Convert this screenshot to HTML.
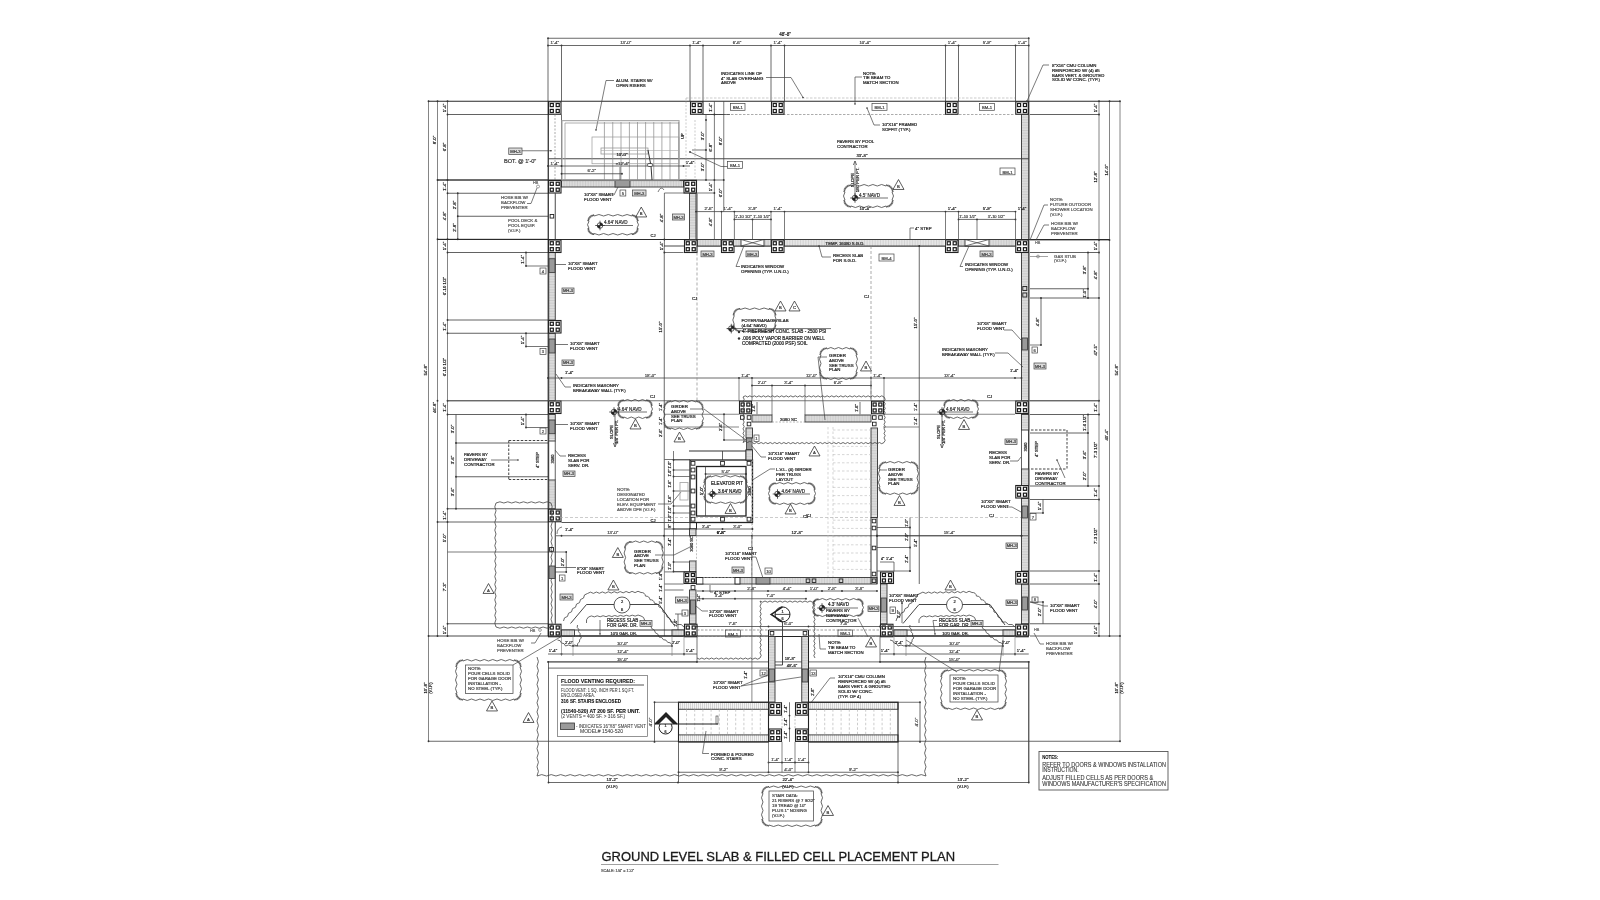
<!DOCTYPE html>
<html><head><meta charset="utf-8"><style>
html,body{margin:0;padding:0;background:#fff;}
body{width:1600px;height:900px;overflow:hidden;}
svg{display:block;font-family:"Liberation Sans",sans-serif;will-change:transform;}
</style></head><body>
<svg width="1600" height="900" viewBox="0 0 1600 900">
<rect width="1600" height="900" fill="#fff"/>
<line x1="548" y1="38.25" x2="1028.75" y2="38.25" stroke="#444" stroke-width="0.8"/>
<circle cx="548" cy="38.25" r="0.9" fill="#333"/>
<circle cx="1028.75" cy="38.25" r="0.9" fill="#333"/>
<text x="785" y="36.2" font-size="4.6" fill="#222" stroke="#222" stroke-width="0.2" text-anchor="middle"><tspan x="785">48'-8"</tspan></text>
<line x1="548" y1="45.5" x2="1028.75" y2="45.5" stroke="#444" stroke-width="0.8"/>
<circle cx="548" cy="45.5" r="0.9" fill="#333"/>
<circle cx="561.5" cy="45.5" r="0.9" fill="#333"/>
<circle cx="690" cy="45.5" r="0.9" fill="#333"/>
<circle cx="703" cy="45.5" r="0.9" fill="#333"/>
<circle cx="771" cy="45.5" r="0.9" fill="#333"/>
<circle cx="784.5" cy="45.5" r="0.9" fill="#333"/>
<circle cx="945.5" cy="45.5" r="0.9" fill="#333"/>
<circle cx="958.5" cy="45.5" r="0.9" fill="#333"/>
<circle cx="1015.5" cy="45.5" r="0.9" fill="#333"/>
<circle cx="1028.75" cy="45.5" r="0.9" fill="#333"/>
<text x="554.75" y="44.1" font-size="4.4" fill="#444" stroke="#444" stroke-width="0.2" text-anchor="middle"><tspan x="554.75">1'-4"</tspan></text>
<text x="625.75" y="44.1" font-size="4.4" fill="#444" stroke="#444" stroke-width="0.2" text-anchor="middle"><tspan x="625.75">13'-0"</tspan></text>
<text x="696.5" y="44.1" font-size="4.4" fill="#444" stroke="#444" stroke-width="0.2" text-anchor="middle"><tspan x="696.5">1'-4"</tspan></text>
<text x="737" y="44.1" font-size="4.4" fill="#444" stroke="#444" stroke-width="0.2" text-anchor="middle"><tspan x="737">6'-6"</tspan></text>
<text x="777.75" y="44.1" font-size="4.4" fill="#444" stroke="#444" stroke-width="0.2" text-anchor="middle"><tspan x="777.75">1'-4"</tspan></text>
<text x="865" y="44.1" font-size="4.4" fill="#444" stroke="#444" stroke-width="0.2" text-anchor="middle"><tspan x="865">10'-4"</tspan></text>
<text x="952" y="44.1" font-size="4.4" fill="#444" stroke="#444" stroke-width="0.2" text-anchor="middle"><tspan x="952">1'-4"</tspan></text>
<text x="987" y="44.1" font-size="4.4" fill="#444" stroke="#444" stroke-width="0.2" text-anchor="middle"><tspan x="987">5'-9"</tspan></text>
<text x="1022.12" y="44.1" font-size="4.4" fill="#444" stroke="#444" stroke-width="0.2" text-anchor="middle"><tspan x="1022.12">1'-4"</tspan></text>
<line x1="548" y1="38.25" x2="548" y2="101" stroke="#444" stroke-width="0.8"/>
<line x1="561.5" y1="45.5" x2="561.5" y2="101" stroke="#444" stroke-width="0.8"/>
<line x1="690" y1="45.5" x2="690" y2="101" stroke="#444" stroke-width="0.8"/>
<line x1="703" y1="45.5" x2="703" y2="101" stroke="#444" stroke-width="0.8"/>
<line x1="771" y1="45.5" x2="771" y2="101" stroke="#444" stroke-width="0.8"/>
<line x1="784.5" y1="45.5" x2="784.5" y2="101" stroke="#444" stroke-width="0.8"/>
<line x1="945.5" y1="45.5" x2="945.5" y2="101" stroke="#444" stroke-width="0.8"/>
<line x1="958.5" y1="45.5" x2="958.5" y2="101" stroke="#444" stroke-width="0.8"/>
<line x1="1015.5" y1="45.5" x2="1015.5" y2="101" stroke="#444" stroke-width="0.8"/>
<line x1="1028.75" y1="38.25" x2="1028.75" y2="101" stroke="#444" stroke-width="0.8"/>
<line x1="428" y1="101.25" x2="1120" y2="101.25" stroke="#2a2a2a" stroke-width="1.1"/>
<line x1="686" y1="98" x2="1015" y2="98" stroke="#aaa" stroke-width="0.6" stroke-dasharray="2.5,1.5"/>
<line x1="703" y1="114.5" x2="1015" y2="114.5" stroke="#888" stroke-width="0.7" stroke-dasharray="2.5,1.5"/>
<rect x="548.5" y="101.75" width="12.5" height="12.5" stroke="#222" stroke-width="1.1" fill="#fff"/>
<rect x="550.23" y="103.48" width="3.1" height="3.1" stroke="#1a1a1a" stroke-width="1.2" fill="none"/>
<rect x="550.23" y="109.42" width="3.1" height="3.1" stroke="#1a1a1a" stroke-width="1.2" fill="none"/>
<rect x="556.17" y="103.48" width="3.1" height="3.1" stroke="#1a1a1a" stroke-width="1.2" fill="none"/>
<rect x="556.17" y="109.42" width="3.1" height="3.1" stroke="#1a1a1a" stroke-width="1.2" fill="none"/>
<rect x="690.5" y="101.75" width="12.5" height="12.5" stroke="#222" stroke-width="1.1" fill="#fff"/>
<rect x="692.23" y="103.48" width="3.1" height="3.1" stroke="#1a1a1a" stroke-width="1.2" fill="none"/>
<rect x="692.23" y="109.42" width="3.1" height="3.1" stroke="#1a1a1a" stroke-width="1.2" fill="none"/>
<rect x="698.17" y="103.48" width="3.1" height="3.1" stroke="#1a1a1a" stroke-width="1.2" fill="none"/>
<rect x="698.17" y="109.42" width="3.1" height="3.1" stroke="#1a1a1a" stroke-width="1.2" fill="none"/>
<rect x="771.5" y="101.75" width="12.5" height="12.5" stroke="#222" stroke-width="1.1" fill="#fff"/>
<rect x="773.23" y="103.48" width="3.1" height="3.1" stroke="#1a1a1a" stroke-width="1.2" fill="none"/>
<rect x="773.23" y="109.42" width="3.1" height="3.1" stroke="#1a1a1a" stroke-width="1.2" fill="none"/>
<rect x="779.17" y="103.48" width="3.1" height="3.1" stroke="#1a1a1a" stroke-width="1.2" fill="none"/>
<rect x="779.17" y="109.42" width="3.1" height="3.1" stroke="#1a1a1a" stroke-width="1.2" fill="none"/>
<rect x="945.5" y="101.75" width="12.5" height="12.5" stroke="#222" stroke-width="1.1" fill="#fff"/>
<rect x="947.23" y="103.48" width="3.1" height="3.1" stroke="#1a1a1a" stroke-width="1.2" fill="none"/>
<rect x="947.23" y="109.42" width="3.1" height="3.1" stroke="#1a1a1a" stroke-width="1.2" fill="none"/>
<rect x="953.17" y="103.48" width="3.1" height="3.1" stroke="#1a1a1a" stroke-width="1.2" fill="none"/>
<rect x="953.17" y="109.42" width="3.1" height="3.1" stroke="#1a1a1a" stroke-width="1.2" fill="none"/>
<rect x="1015.75" y="101.75" width="12.5" height="12.5" stroke="#222" stroke-width="1.1" fill="#fff"/>
<rect x="1017.48" y="103.48" width="3.1" height="3.1" stroke="#1a1a1a" stroke-width="1.2" fill="none"/>
<rect x="1017.48" y="109.42" width="3.1" height="3.1" stroke="#1a1a1a" stroke-width="1.2" fill="none"/>
<rect x="1023.42" y="103.48" width="3.1" height="3.1" stroke="#1a1a1a" stroke-width="1.2" fill="none"/>
<rect x="1023.42" y="109.42" width="3.1" height="3.1" stroke="#1a1a1a" stroke-width="1.2" fill="none"/>
<line x1="428.5" y1="101.25" x2="428.5" y2="741.25" stroke="#666" stroke-width="0.8"/>
<circle cx="428.5" cy="101.25" r="0.9" fill="#333"/>
<circle cx="428.5" cy="636" r="0.9" fill="#333"/>
<circle cx="428.5" cy="741.25" r="0.9" fill="#333"/>
<text x="426.6" y="370" font-size="4.35" fill="#222" stroke="#222" stroke-width="0.2" text-anchor="middle" transform="rotate(-90 426.6 370)"><tspan x="426.6">54'-8"</tspan></text>
<text x="426.6" y="688" font-size="4.35" fill="#222" stroke="#222" stroke-width="0.2" text-anchor="middle" transform="rotate(-90 426.6 688)"><tspan x="426.6">10'-8"</tspan></text>
<text x="432.4" y="688" font-size="4" fill="#222" stroke="#222" stroke-width="0.2" text-anchor="middle" transform="rotate(-90 432.4 688)"><tspan x="432.4">(V.I.F.)</tspan></text>
<line x1="437.5" y1="101.25" x2="437.5" y2="636" stroke="#666" stroke-width="0.8"/>
<circle cx="437.5" cy="101.25" r="0.9" fill="#333"/>
<circle cx="437.5" cy="180" r="0.9" fill="#333"/>
<circle cx="437.5" cy="239.25" r="0.9" fill="#333"/>
<circle cx="437.5" cy="400.75" r="0.9" fill="#333"/>
<circle cx="437.5" cy="522" r="0.9" fill="#333"/>
<circle cx="437.5" cy="636" r="0.9" fill="#333"/>
<text x="435.6" y="140" font-size="4.35" fill="#222" stroke="#222" stroke-width="0.2" text-anchor="middle" transform="rotate(-90 435.6 140)"><tspan x="435.6">8'-0"</tspan></text>
<text x="435.6" y="407.5" font-size="4.35" fill="#222" stroke="#222" stroke-width="0.2" text-anchor="middle" transform="rotate(-90 435.6 407.5)"><tspan x="435.6">46'-8"</tspan></text>
<line x1="447.5" y1="101.25" x2="447.5" y2="636" stroke="#666" stroke-width="0.8"/>
<circle cx="447.5" cy="101.25" r="0.9" fill="#333"/>
<circle cx="447.5" cy="114.5" r="0.9" fill="#333"/>
<circle cx="447.5" cy="180" r="0.9" fill="#333"/>
<circle cx="447.5" cy="193.25" r="0.9" fill="#333"/>
<circle cx="447.5" cy="239.25" r="0.9" fill="#333"/>
<circle cx="447.5" cy="252.5" r="0.9" fill="#333"/>
<circle cx="447.5" cy="320" r="0.9" fill="#333"/>
<circle cx="447.5" cy="333.25" r="0.9" fill="#333"/>
<circle cx="447.5" cy="400.75" r="0.9" fill="#333"/>
<circle cx="447.5" cy="414.5" r="0.9" fill="#333"/>
<circle cx="447.5" cy="508.75" r="0.9" fill="#333"/>
<circle cx="447.5" cy="522" r="0.9" fill="#333"/>
<circle cx="447.5" cy="623.75" r="0.9" fill="#333"/>
<circle cx="447.5" cy="636" r="0.9" fill="#333"/>
<text x="445.6" y="108" font-size="4.35" fill="#222" stroke="#222" stroke-width="0.2" text-anchor="middle" transform="rotate(-90 445.6 108)"><tspan x="445.6">1'-4"</tspan></text>
<text x="445.6" y="147" font-size="4.35" fill="#222" stroke="#222" stroke-width="0.2" text-anchor="middle" transform="rotate(-90 445.6 147)"><tspan x="445.6">6'-8"</tspan></text>
<text x="445.6" y="186.5" font-size="4.35" fill="#222" stroke="#222" stroke-width="0.2" text-anchor="middle" transform="rotate(-90 445.6 186.5)"><tspan x="445.6">1'-4"</tspan></text>
<text x="445.6" y="216" font-size="4.35" fill="#222" stroke="#222" stroke-width="0.2" text-anchor="middle" transform="rotate(-90 445.6 216)"><tspan x="445.6">4'-8"</tspan></text>
<text x="445.6" y="246" font-size="4.35" fill="#222" stroke="#222" stroke-width="0.2" text-anchor="middle" transform="rotate(-90 445.6 246)"><tspan x="445.6">1'-4"</tspan></text>
<text x="445.6" y="286" font-size="4.35" fill="#222" stroke="#222" stroke-width="0.2" text-anchor="middle" transform="rotate(-90 445.6 286)"><tspan x="445.6">6'-10 1/2"</tspan></text>
<text x="445.6" y="326.5" font-size="4.35" fill="#222" stroke="#222" stroke-width="0.2" text-anchor="middle" transform="rotate(-90 445.6 326.5)"><tspan x="445.6">1'-4"</tspan></text>
<text x="445.6" y="367" font-size="4.35" fill="#222" stroke="#222" stroke-width="0.2" text-anchor="middle" transform="rotate(-90 445.6 367)"><tspan x="445.6">6'-10 1/2"</tspan></text>
<text x="445.6" y="407.5" font-size="4.35" fill="#222" stroke="#222" stroke-width="0.2" text-anchor="middle" transform="rotate(-90 445.6 407.5)"><tspan x="445.6">1'-4"</tspan></text>
<text x="445.6" y="515.3" font-size="4.35" fill="#222" stroke="#222" stroke-width="0.2" text-anchor="middle" transform="rotate(-90 445.6 515.3)"><tspan x="445.6">1'-4"</tspan></text>
<text x="445.6" y="538" font-size="4.35" fill="#222" stroke="#222" stroke-width="0.2" text-anchor="middle" transform="rotate(-90 445.6 538)"><tspan x="445.6">5'-0"</tspan></text>
<text x="445.6" y="587" font-size="4.35" fill="#222" stroke="#222" stroke-width="0.2" text-anchor="middle" transform="rotate(-90 445.6 587)"><tspan x="445.6">7'-3"</tspan></text>
<text x="445.6" y="630" font-size="4.35" fill="#222" stroke="#222" stroke-width="0.2" text-anchor="middle" transform="rotate(-90 445.6 630)"><tspan x="445.6">1'-4"</tspan></text>
<line x1="457.75" y1="193.25" x2="457.75" y2="239.25" stroke="#444" stroke-width="0.8"/>
<circle cx="457.75" cy="193.25" r="0.9" fill="#333"/>
<circle cx="457.75" cy="216.25" r="0.9" fill="#333"/>
<circle cx="457.75" cy="239.25" r="0.9" fill="#333"/>
<text x="455.8" y="205" font-size="4.35" fill="#222" stroke="#222" stroke-width="0.2" text-anchor="middle" transform="rotate(-90 455.8 205)"><tspan x="455.8">2'-8"</tspan></text>
<text x="455.8" y="227.5" font-size="4.35" fill="#222" stroke="#222" stroke-width="0.2" text-anchor="middle" transform="rotate(-90 455.8 227.5)"><tspan x="455.8">2'-8"</tspan></text>
<line x1="456" y1="414.5" x2="456" y2="508.75" stroke="#444" stroke-width="0.8"/>
<circle cx="456" cy="443" r="0.9" fill="#333"/>
<circle cx="456" cy="476.75" r="0.9" fill="#333"/>
<circle cx="456" cy="508.75" r="0.9" fill="#333"/>
<text x="454" y="429" font-size="4.35" fill="#222" stroke="#222" stroke-width="0.2" text-anchor="middle" transform="rotate(-90 454 429)"><tspan x="454">3'-0"</tspan></text>
<text x="454" y="460" font-size="4.35" fill="#222" stroke="#222" stroke-width="0.2" text-anchor="middle" transform="rotate(-90 454 460)"><tspan x="454">3'-6"</tspan></text>
<text x="454" y="492" font-size="4.35" fill="#222" stroke="#222" stroke-width="0.2" text-anchor="middle" transform="rotate(-90 454 492)"><tspan x="454">3'-6"</tspan></text>
<line x1="447.5" y1="114.5" x2="548" y2="114.5" stroke="#3a3a3a" stroke-width="0.8"/>
<line x1="437.5" y1="180" x2="548" y2="180" stroke="#3a3a3a" stroke-width="0.8"/>
<line x1="447.5" y1="193.25" x2="548" y2="193.25" stroke="#3a3a3a" stroke-width="0.8"/>
<line x1="457.75" y1="216.25" x2="548" y2="216.25" stroke="#3a3a3a" stroke-width="0.8"/>
<line x1="437.5" y1="239.25" x2="548" y2="239.25" stroke="#3a3a3a" stroke-width="0.8"/>
<line x1="447.5" y1="252.5" x2="548" y2="252.5" stroke="#3a3a3a" stroke-width="0.8"/>
<line x1="447.5" y1="320" x2="548" y2="320" stroke="#3a3a3a" stroke-width="0.8"/>
<line x1="447.5" y1="333.25" x2="548" y2="333.25" stroke="#3a3a3a" stroke-width="0.8"/>
<line x1="447.5" y1="414.5" x2="548" y2="414.5" stroke="#3a3a3a" stroke-width="0.8"/>
<line x1="456" y1="443" x2="548" y2="443" stroke="#3a3a3a" stroke-width="0.8"/>
<line x1="456" y1="476.75" x2="548" y2="476.75" stroke="#3a3a3a" stroke-width="0.8"/>
<line x1="447.5" y1="508.75" x2="548" y2="508.75" stroke="#3a3a3a" stroke-width="0.8"/>
<line x1="437.5" y1="522" x2="548" y2="522" stroke="#3a3a3a" stroke-width="0.8"/>
<line x1="447.5" y1="623.75" x2="548" y2="623.75" stroke="#3a3a3a" stroke-width="0.8"/>
<line x1="428.5" y1="636" x2="548" y2="636" stroke="#333" stroke-width="0.9"/>
<line x1="428.5" y1="741.25" x2="678" y2="741.25" stroke="#444" stroke-width="0.8"/>
<line x1="898" y1="741.25" x2="1120" y2="741.25" stroke="#444" stroke-width="0.8"/>
<line x1="447.5" y1="552" x2="566" y2="552" stroke="#444" stroke-width="0.7"/>
<line x1="447.5" y1="400.75" x2="548" y2="400.75" stroke="#3a3a3a" stroke-width="0.8"/>
<line x1="1120" y1="101.25" x2="1120" y2="741.25" stroke="#666" stroke-width="0.8"/>
<circle cx="1120" cy="101.25" r="0.9" fill="#333"/>
<circle cx="1120" cy="636" r="0.9" fill="#333"/>
<circle cx="1120" cy="741.25" r="0.9" fill="#333"/>
<text x="1117.5" y="370" font-size="4.35" fill="#222" stroke="#222" stroke-width="0.2" text-anchor="middle" transform="rotate(-90 1117.5 370)"><tspan x="1117.5">54'-8"</tspan></text>
<text x="1117.5" y="688" font-size="4.35" fill="#222" stroke="#222" stroke-width="0.2" text-anchor="middle" transform="rotate(-90 1117.5 688)"><tspan x="1117.5">10'-8"</tspan></text>
<text x="1123.3" y="688" font-size="4" fill="#222" stroke="#222" stroke-width="0.2" text-anchor="middle" transform="rotate(-90 1123.3 688)"><tspan x="1123.3">(V.I.F.)</tspan></text>
<line x1="1109.5" y1="101.25" x2="1109.5" y2="636" stroke="#666" stroke-width="0.8"/>
<circle cx="1109.5" cy="101.25" r="0.9" fill="#333"/>
<circle cx="1109.5" cy="240" r="0.9" fill="#333"/>
<circle cx="1109.5" cy="636" r="0.9" fill="#333"/>
<text x="1107.6" y="170" font-size="4.35" fill="#222" stroke="#222" stroke-width="0.2" text-anchor="middle" transform="rotate(-90 1107.6 170)"><tspan x="1107.6">14'-0"</tspan></text>
<text x="1107.6" y="435" font-size="4.35" fill="#222" stroke="#222" stroke-width="0.2" text-anchor="middle" transform="rotate(-90 1107.6 435)"><tspan x="1107.6">40'-4"</tspan></text>
<line x1="1099" y1="101.25" x2="1099" y2="636" stroke="#666" stroke-width="0.8"/>
<circle cx="1099" cy="101.25" r="0.9" fill="#333"/>
<circle cx="1099" cy="114.5" r="0.9" fill="#333"/>
<circle cx="1099" cy="240" r="0.9" fill="#333"/>
<circle cx="1099" cy="252.5" r="0.9" fill="#333"/>
<circle cx="1099" cy="298" r="0.9" fill="#333"/>
<circle cx="1099" cy="400.75" r="0.9" fill="#333"/>
<circle cx="1099" cy="414.5" r="0.9" fill="#333"/>
<circle cx="1099" cy="486" r="0.9" fill="#333"/>
<circle cx="1099" cy="499.5" r="0.9" fill="#333"/>
<circle cx="1099" cy="571" r="0.9" fill="#333"/>
<circle cx="1099" cy="584" r="0.9" fill="#333"/>
<circle cx="1099" cy="623.75" r="0.9" fill="#333"/>
<circle cx="1099" cy="636" r="0.9" fill="#333"/>
<text x="1097.2" y="108" font-size="4.35" fill="#222" stroke="#222" stroke-width="0.2" text-anchor="middle" transform="rotate(-90 1097.2 108)"><tspan x="1097.2">1'-4"</tspan></text>
<text x="1097.2" y="177" font-size="4.35" fill="#222" stroke="#222" stroke-width="0.2" text-anchor="middle" transform="rotate(-90 1097.2 177)"><tspan x="1097.2">12'-8"</tspan></text>
<text x="1097.2" y="246" font-size="4.35" fill="#222" stroke="#222" stroke-width="0.2" text-anchor="middle" transform="rotate(-90 1097.2 246)"><tspan x="1097.2">1'-4"</tspan></text>
<text x="1097.2" y="275" font-size="4.35" fill="#222" stroke="#222" stroke-width="0.2" text-anchor="middle" transform="rotate(-90 1097.2 275)"><tspan x="1097.2">4'-8"</tspan></text>
<text x="1097.2" y="350" font-size="4.35" fill="#222" stroke="#222" stroke-width="0.2" text-anchor="middle" transform="rotate(-90 1097.2 350)"><tspan x="1097.2">47'-5"</tspan></text>
<text x="1097.2" y="407.5" font-size="4.35" fill="#222" stroke="#222" stroke-width="0.2" text-anchor="middle" transform="rotate(-90 1097.2 407.5)"><tspan x="1097.2">1'-4"</tspan></text>
<text x="1097.2" y="450" font-size="4.35" fill="#222" stroke="#222" stroke-width="0.2" text-anchor="middle" transform="rotate(-90 1097.2 450)"><tspan x="1097.2">7'-3 1/2"</tspan></text>
<text x="1097.2" y="492.5" font-size="4.35" fill="#222" stroke="#222" stroke-width="0.2" text-anchor="middle" transform="rotate(-90 1097.2 492.5)"><tspan x="1097.2">1'-4"</tspan></text>
<text x="1097.2" y="536" font-size="4.35" fill="#222" stroke="#222" stroke-width="0.2" text-anchor="middle" transform="rotate(-90 1097.2 536)"><tspan x="1097.2">7'-3 1/2"</tspan></text>
<text x="1097.2" y="577.5" font-size="4.35" fill="#222" stroke="#222" stroke-width="0.2" text-anchor="middle" transform="rotate(-90 1097.2 577.5)"><tspan x="1097.2">1'-4"</tspan></text>
<text x="1097.2" y="604" font-size="4.35" fill="#222" stroke="#222" stroke-width="0.2" text-anchor="middle" transform="rotate(-90 1097.2 604)"><tspan x="1097.2">4'-0"</tspan></text>
<text x="1097.2" y="630" font-size="4.35" fill="#222" stroke="#222" stroke-width="0.2" text-anchor="middle" transform="rotate(-90 1097.2 630)"><tspan x="1097.2">1'-4"</tspan></text>
<line x1="1030" y1="114.5" x2="1099" y2="114.5" stroke="#3a3a3a" stroke-width="0.8"/>
<line x1="1030" y1="240" x2="1109.5" y2="240" stroke="#3a3a3a" stroke-width="0.8"/>
<line x1="1030" y1="252.5" x2="1099" y2="252.5" stroke="#3a3a3a" stroke-width="0.8"/>
<line x1="1030" y1="288.75" x2="1088" y2="288.75" stroke="#3a3a3a" stroke-width="0.8"/>
<line x1="1030" y1="298" x2="1099" y2="298" stroke="#3a3a3a" stroke-width="0.8"/>
<line x1="1030" y1="400.75" x2="1099" y2="400.75" stroke="#3a3a3a" stroke-width="0.8"/>
<line x1="1030" y1="414.5" x2="1099" y2="414.5" stroke="#3a3a3a" stroke-width="0.8"/>
<line x1="1030" y1="433" x2="1088" y2="433" stroke="#3a3a3a" stroke-width="0.8"/>
<line x1="1030" y1="486" x2="1099" y2="486" stroke="#3a3a3a" stroke-width="0.8"/>
<line x1="1030" y1="499.5" x2="1099" y2="499.5" stroke="#3a3a3a" stroke-width="0.8"/>
<line x1="1030" y1="571" x2="1099" y2="571" stroke="#3a3a3a" stroke-width="0.8"/>
<line x1="1030" y1="584" x2="1099" y2="584" stroke="#3a3a3a" stroke-width="0.8"/>
<line x1="1030" y1="623.75" x2="1099" y2="623.75" stroke="#3a3a3a" stroke-width="0.8"/>
<line x1="1030" y1="636" x2="1120" y2="636" stroke="#3a3a3a" stroke-width="0.8"/>
<line x1="1088" y1="252.5" x2="1088" y2="288.75" stroke="#444" stroke-width="0.8"/>
<circle cx="1088" cy="252.5" r="0.9" fill="#333"/>
<circle cx="1088" cy="288.75" r="0.9" fill="#333"/>
<line x1="1088" y1="288.75" x2="1088" y2="298" stroke="#444" stroke-width="0.8"/>
<circle cx="1088" cy="298" r="0.9" fill="#333"/>
<text x="1086" y="270" font-size="4.35" fill="#222" stroke="#222" stroke-width="0.2" text-anchor="middle" transform="rotate(-90 1086 270)"><tspan x="1086">3'-8"</tspan></text>
<text x="1086" y="293.5" font-size="4.35" fill="#222" stroke="#222" stroke-width="0.2" text-anchor="middle" transform="rotate(-90 1086 293.5)"><tspan x="1086">1'-0"</tspan></text>
<line x1="1088" y1="414.5" x2="1088" y2="486" stroke="#444" stroke-width="0.8"/>
<circle cx="1088" cy="414.5" r="0.9" fill="#333"/>
<circle cx="1088" cy="433" r="0.9" fill="#333"/>
<circle cx="1088" cy="486" r="0.9" fill="#333"/>
<text x="1086" y="423" font-size="4.35" fill="#222" stroke="#222" stroke-width="0.2" text-anchor="middle" transform="rotate(-90 1086 423)"><tspan x="1086">1'-6 1/2"</tspan></text>
<text x="1086" y="455" font-size="4.35" fill="#222" stroke="#222" stroke-width="0.2" text-anchor="middle" transform="rotate(-90 1086 455)"><tspan x="1086">3'-6"</tspan></text>
<text x="1086" y="476" font-size="4.35" fill="#222" stroke="#222" stroke-width="0.2" text-anchor="middle" transform="rotate(-90 1086 476)"><tspan x="1086">2'-0"</tspan></text>
<line x1="1041" y1="298" x2="1041" y2="345" stroke="#444" stroke-width="0.8"/>
<circle cx="1041" cy="298" r="0.9" fill="#333"/>
<circle cx="1041" cy="345" r="0.9" fill="#333"/>
<line x1="1030" y1="345" x2="1041" y2="345" stroke="#444" stroke-width="0.7"/>
<text x="1039" y="322" font-size="4.35" fill="#222" stroke="#222" stroke-width="0.2" text-anchor="middle" transform="rotate(-90 1039 322)"><tspan x="1039">4'-8"</tspan></text>
<line x1="1043" y1="499.5" x2="1043" y2="513" stroke="#444" stroke-width="0.8"/>
<circle cx="1043" cy="513" r="0.9" fill="#333"/>
<text x="1041" y="506" font-size="4.35" fill="#222" stroke="#222" stroke-width="0.2" text-anchor="middle" transform="rotate(-90 1041 506)"><tspan x="1041">1'-4"</tspan></text>
<line x1="1030" y1="513" x2="1043" y2="513" stroke="#444" stroke-width="0.7"/>
<line x1="1043" y1="602" x2="1043" y2="623.75" stroke="#444" stroke-width="0.8"/>
<circle cx="1043" cy="602" r="0.9" fill="#333"/>
<text x="1041" y="612" font-size="4.35" fill="#222" stroke="#222" stroke-width="0.2" text-anchor="middle" transform="rotate(-90 1041 612)"><tspan x="1041">2'-0"</tspan></text>
<line x1="1030" y1="602" x2="1043" y2="602" stroke="#444" stroke-width="0.7"/>
<line x1="548.25" y1="101.25" x2="548.25" y2="636" stroke="#222" stroke-width="1.2"/>
<line x1="548.5" y1="661" x2="548.5" y2="782.5" stroke="#444" stroke-width="0.8"/>
<line x1="1028.75" y1="101.25" x2="1028.75" y2="636" stroke="#222" stroke-width="1.2"/>
<line x1="1028.75" y1="661" x2="1028.75" y2="782.5" stroke="#444" stroke-width="0.8"/>
<rect x="1021.5" y="114.5" width="7.25" height="125.5" fill="#e6e6e6"/>
<line x1="1021.5" y1="116.1" x2="1028.75" y2="116.1" stroke="#999" stroke-width="0.35"/>
<line x1="1021.5" y1="117.7" x2="1028.75" y2="117.7" stroke="#999" stroke-width="0.35"/>
<line x1="1021.5" y1="119.3" x2="1028.75" y2="119.3" stroke="#999" stroke-width="0.35"/>
<line x1="1021.5" y1="120.9" x2="1028.75" y2="120.9" stroke="#999" stroke-width="0.35"/>
<line x1="1021.5" y1="122.5" x2="1028.75" y2="122.5" stroke="#999" stroke-width="0.35"/>
<line x1="1021.5" y1="124.1" x2="1028.75" y2="124.1" stroke="#999" stroke-width="0.35"/>
<line x1="1021.5" y1="125.7" x2="1028.75" y2="125.7" stroke="#999" stroke-width="0.35"/>
<line x1="1021.5" y1="127.3" x2="1028.75" y2="127.3" stroke="#999" stroke-width="0.35"/>
<line x1="1021.5" y1="128.9" x2="1028.75" y2="128.9" stroke="#999" stroke-width="0.35"/>
<line x1="1021.5" y1="130.5" x2="1028.75" y2="130.5" stroke="#999" stroke-width="0.35"/>
<line x1="1021.5" y1="132.1" x2="1028.75" y2="132.1" stroke="#999" stroke-width="0.35"/>
<line x1="1021.5" y1="133.7" x2="1028.75" y2="133.7" stroke="#999" stroke-width="0.35"/>
<line x1="1021.5" y1="135.3" x2="1028.75" y2="135.3" stroke="#999" stroke-width="0.35"/>
<line x1="1021.5" y1="136.9" x2="1028.75" y2="136.9" stroke="#999" stroke-width="0.35"/>
<line x1="1021.5" y1="138.5" x2="1028.75" y2="138.5" stroke="#999" stroke-width="0.35"/>
<line x1="1021.5" y1="140.1" x2="1028.75" y2="140.1" stroke="#999" stroke-width="0.35"/>
<line x1="1021.5" y1="141.7" x2="1028.75" y2="141.7" stroke="#999" stroke-width="0.35"/>
<line x1="1021.5" y1="143.3" x2="1028.75" y2="143.3" stroke="#999" stroke-width="0.35"/>
<line x1="1021.5" y1="144.9" x2="1028.75" y2="144.9" stroke="#999" stroke-width="0.35"/>
<line x1="1021.5" y1="146.5" x2="1028.75" y2="146.5" stroke="#999" stroke-width="0.35"/>
<line x1="1021.5" y1="148.1" x2="1028.75" y2="148.1" stroke="#999" stroke-width="0.35"/>
<line x1="1021.5" y1="149.7" x2="1028.75" y2="149.7" stroke="#999" stroke-width="0.35"/>
<line x1="1021.5" y1="151.3" x2="1028.75" y2="151.3" stroke="#999" stroke-width="0.35"/>
<line x1="1021.5" y1="152.9" x2="1028.75" y2="152.9" stroke="#999" stroke-width="0.35"/>
<line x1="1021.5" y1="154.5" x2="1028.75" y2="154.5" stroke="#999" stroke-width="0.35"/>
<line x1="1021.5" y1="156.1" x2="1028.75" y2="156.1" stroke="#999" stroke-width="0.35"/>
<line x1="1021.5" y1="157.7" x2="1028.75" y2="157.7" stroke="#999" stroke-width="0.35"/>
<line x1="1021.5" y1="159.3" x2="1028.75" y2="159.3" stroke="#999" stroke-width="0.35"/>
<line x1="1021.5" y1="160.9" x2="1028.75" y2="160.9" stroke="#999" stroke-width="0.35"/>
<line x1="1021.5" y1="162.5" x2="1028.75" y2="162.5" stroke="#999" stroke-width="0.35"/>
<line x1="1021.5" y1="164.1" x2="1028.75" y2="164.1" stroke="#999" stroke-width="0.35"/>
<line x1="1021.5" y1="165.7" x2="1028.75" y2="165.7" stroke="#999" stroke-width="0.35"/>
<line x1="1021.5" y1="167.3" x2="1028.75" y2="167.3" stroke="#999" stroke-width="0.35"/>
<line x1="1021.5" y1="168.9" x2="1028.75" y2="168.9" stroke="#999" stroke-width="0.35"/>
<line x1="1021.5" y1="170.5" x2="1028.75" y2="170.5" stroke="#999" stroke-width="0.35"/>
<line x1="1021.5" y1="172.1" x2="1028.75" y2="172.1" stroke="#999" stroke-width="0.35"/>
<line x1="1021.5" y1="173.7" x2="1028.75" y2="173.7" stroke="#999" stroke-width="0.35"/>
<line x1="1021.5" y1="175.3" x2="1028.75" y2="175.3" stroke="#999" stroke-width="0.35"/>
<line x1="1021.5" y1="176.9" x2="1028.75" y2="176.9" stroke="#999" stroke-width="0.35"/>
<line x1="1021.5" y1="178.5" x2="1028.75" y2="178.5" stroke="#999" stroke-width="0.35"/>
<line x1="1021.5" y1="180.1" x2="1028.75" y2="180.1" stroke="#999" stroke-width="0.35"/>
<line x1="1021.5" y1="181.7" x2="1028.75" y2="181.7" stroke="#999" stroke-width="0.35"/>
<line x1="1021.5" y1="183.3" x2="1028.75" y2="183.3" stroke="#999" stroke-width="0.35"/>
<line x1="1021.5" y1="184.9" x2="1028.75" y2="184.9" stroke="#999" stroke-width="0.35"/>
<line x1="1021.5" y1="186.5" x2="1028.75" y2="186.5" stroke="#999" stroke-width="0.35"/>
<line x1="1021.5" y1="188.1" x2="1028.75" y2="188.1" stroke="#999" stroke-width="0.35"/>
<line x1="1021.5" y1="189.7" x2="1028.75" y2="189.7" stroke="#999" stroke-width="0.35"/>
<line x1="1021.5" y1="191.3" x2="1028.75" y2="191.3" stroke="#999" stroke-width="0.35"/>
<line x1="1021.5" y1="192.9" x2="1028.75" y2="192.9" stroke="#999" stroke-width="0.35"/>
<line x1="1021.5" y1="194.5" x2="1028.75" y2="194.5" stroke="#999" stroke-width="0.35"/>
<line x1="1021.5" y1="196.1" x2="1028.75" y2="196.1" stroke="#999" stroke-width="0.35"/>
<line x1="1021.5" y1="197.7" x2="1028.75" y2="197.7" stroke="#999" stroke-width="0.35"/>
<line x1="1021.5" y1="199.3" x2="1028.75" y2="199.3" stroke="#999" stroke-width="0.35"/>
<line x1="1021.5" y1="200.9" x2="1028.75" y2="200.9" stroke="#999" stroke-width="0.35"/>
<line x1="1021.5" y1="202.5" x2="1028.75" y2="202.5" stroke="#999" stroke-width="0.35"/>
<line x1="1021.5" y1="204.1" x2="1028.75" y2="204.1" stroke="#999" stroke-width="0.35"/>
<line x1="1021.5" y1="205.7" x2="1028.75" y2="205.7" stroke="#999" stroke-width="0.35"/>
<line x1="1021.5" y1="207.3" x2="1028.75" y2="207.3" stroke="#999" stroke-width="0.35"/>
<line x1="1021.5" y1="208.9" x2="1028.75" y2="208.9" stroke="#999" stroke-width="0.35"/>
<line x1="1021.5" y1="210.5" x2="1028.75" y2="210.5" stroke="#999" stroke-width="0.35"/>
<line x1="1021.5" y1="212.1" x2="1028.75" y2="212.1" stroke="#999" stroke-width="0.35"/>
<line x1="1021.5" y1="213.7" x2="1028.75" y2="213.7" stroke="#999" stroke-width="0.35"/>
<line x1="1021.5" y1="215.3" x2="1028.75" y2="215.3" stroke="#999" stroke-width="0.35"/>
<line x1="1021.5" y1="216.9" x2="1028.75" y2="216.9" stroke="#999" stroke-width="0.35"/>
<line x1="1021.5" y1="218.5" x2="1028.75" y2="218.5" stroke="#999" stroke-width="0.35"/>
<line x1="1021.5" y1="220.1" x2="1028.75" y2="220.1" stroke="#999" stroke-width="0.35"/>
<line x1="1021.5" y1="221.7" x2="1028.75" y2="221.7" stroke="#999" stroke-width="0.35"/>
<line x1="1021.5" y1="223.3" x2="1028.75" y2="223.3" stroke="#999" stroke-width="0.35"/>
<line x1="1021.5" y1="224.9" x2="1028.75" y2="224.9" stroke="#999" stroke-width="0.35"/>
<line x1="1021.5" y1="226.5" x2="1028.75" y2="226.5" stroke="#999" stroke-width="0.35"/>
<line x1="1021.5" y1="228.1" x2="1028.75" y2="228.1" stroke="#999" stroke-width="0.35"/>
<line x1="1021.5" y1="229.7" x2="1028.75" y2="229.7" stroke="#999" stroke-width="0.35"/>
<line x1="1021.5" y1="231.3" x2="1028.75" y2="231.3" stroke="#999" stroke-width="0.35"/>
<line x1="1021.5" y1="232.9" x2="1028.75" y2="232.9" stroke="#999" stroke-width="0.35"/>
<line x1="1021.5" y1="234.5" x2="1028.75" y2="234.5" stroke="#999" stroke-width="0.35"/>
<line x1="1021.5" y1="236.1" x2="1028.75" y2="236.1" stroke="#999" stroke-width="0.35"/>
<line x1="1021.5" y1="237.7" x2="1028.75" y2="237.7" stroke="#999" stroke-width="0.35"/>
<rect x="1021.5" y="114.5" width="7.25" height="125.5" stroke="#333" stroke-width="0.9" fill="none"/>
<rect x="1021.5" y="252.5" width="7.25" height="148.25" fill="#e6e6e6"/>
<line x1="1021.5" y1="254.1" x2="1028.75" y2="254.1" stroke="#999" stroke-width="0.35"/>
<line x1="1021.5" y1="255.7" x2="1028.75" y2="255.7" stroke="#999" stroke-width="0.35"/>
<line x1="1021.5" y1="257.3" x2="1028.75" y2="257.3" stroke="#999" stroke-width="0.35"/>
<line x1="1021.5" y1="258.9" x2="1028.75" y2="258.9" stroke="#999" stroke-width="0.35"/>
<line x1="1021.5" y1="260.5" x2="1028.75" y2="260.5" stroke="#999" stroke-width="0.35"/>
<line x1="1021.5" y1="262.1" x2="1028.75" y2="262.1" stroke="#999" stroke-width="0.35"/>
<line x1="1021.5" y1="263.7" x2="1028.75" y2="263.7" stroke="#999" stroke-width="0.35"/>
<line x1="1021.5" y1="265.3" x2="1028.75" y2="265.3" stroke="#999" stroke-width="0.35"/>
<line x1="1021.5" y1="266.9" x2="1028.75" y2="266.9" stroke="#999" stroke-width="0.35"/>
<line x1="1021.5" y1="268.5" x2="1028.75" y2="268.5" stroke="#999" stroke-width="0.35"/>
<line x1="1021.5" y1="270.1" x2="1028.75" y2="270.1" stroke="#999" stroke-width="0.35"/>
<line x1="1021.5" y1="271.7" x2="1028.75" y2="271.7" stroke="#999" stroke-width="0.35"/>
<line x1="1021.5" y1="273.3" x2="1028.75" y2="273.3" stroke="#999" stroke-width="0.35"/>
<line x1="1021.5" y1="274.9" x2="1028.75" y2="274.9" stroke="#999" stroke-width="0.35"/>
<line x1="1021.5" y1="276.5" x2="1028.75" y2="276.5" stroke="#999" stroke-width="0.35"/>
<line x1="1021.5" y1="278.1" x2="1028.75" y2="278.1" stroke="#999" stroke-width="0.35"/>
<line x1="1021.5" y1="279.7" x2="1028.75" y2="279.7" stroke="#999" stroke-width="0.35"/>
<line x1="1021.5" y1="281.3" x2="1028.75" y2="281.3" stroke="#999" stroke-width="0.35"/>
<line x1="1021.5" y1="282.9" x2="1028.75" y2="282.9" stroke="#999" stroke-width="0.35"/>
<line x1="1021.5" y1="284.5" x2="1028.75" y2="284.5" stroke="#999" stroke-width="0.35"/>
<line x1="1021.5" y1="286.1" x2="1028.75" y2="286.1" stroke="#999" stroke-width="0.35"/>
<line x1="1021.5" y1="287.7" x2="1028.75" y2="287.7" stroke="#999" stroke-width="0.35"/>
<line x1="1021.5" y1="289.3" x2="1028.75" y2="289.3" stroke="#999" stroke-width="0.35"/>
<line x1="1021.5" y1="290.9" x2="1028.75" y2="290.9" stroke="#999" stroke-width="0.35"/>
<line x1="1021.5" y1="292.5" x2="1028.75" y2="292.5" stroke="#999" stroke-width="0.35"/>
<line x1="1021.5" y1="294.1" x2="1028.75" y2="294.1" stroke="#999" stroke-width="0.35"/>
<line x1="1021.5" y1="295.7" x2="1028.75" y2="295.7" stroke="#999" stroke-width="0.35"/>
<line x1="1021.5" y1="297.3" x2="1028.75" y2="297.3" stroke="#999" stroke-width="0.35"/>
<line x1="1021.5" y1="298.9" x2="1028.75" y2="298.9" stroke="#999" stroke-width="0.35"/>
<line x1="1021.5" y1="300.5" x2="1028.75" y2="300.5" stroke="#999" stroke-width="0.35"/>
<line x1="1021.5" y1="302.1" x2="1028.75" y2="302.1" stroke="#999" stroke-width="0.35"/>
<line x1="1021.5" y1="303.7" x2="1028.75" y2="303.7" stroke="#999" stroke-width="0.35"/>
<line x1="1021.5" y1="305.3" x2="1028.75" y2="305.3" stroke="#999" stroke-width="0.35"/>
<line x1="1021.5" y1="306.9" x2="1028.75" y2="306.9" stroke="#999" stroke-width="0.35"/>
<line x1="1021.5" y1="308.5" x2="1028.75" y2="308.5" stroke="#999" stroke-width="0.35"/>
<line x1="1021.5" y1="310.1" x2="1028.75" y2="310.1" stroke="#999" stroke-width="0.35"/>
<line x1="1021.5" y1="311.7" x2="1028.75" y2="311.7" stroke="#999" stroke-width="0.35"/>
<line x1="1021.5" y1="313.3" x2="1028.75" y2="313.3" stroke="#999" stroke-width="0.35"/>
<line x1="1021.5" y1="314.9" x2="1028.75" y2="314.9" stroke="#999" stroke-width="0.35"/>
<line x1="1021.5" y1="316.5" x2="1028.75" y2="316.5" stroke="#999" stroke-width="0.35"/>
<line x1="1021.5" y1="318.1" x2="1028.75" y2="318.1" stroke="#999" stroke-width="0.35"/>
<line x1="1021.5" y1="319.7" x2="1028.75" y2="319.7" stroke="#999" stroke-width="0.35"/>
<line x1="1021.5" y1="321.3" x2="1028.75" y2="321.3" stroke="#999" stroke-width="0.35"/>
<line x1="1021.5" y1="322.9" x2="1028.75" y2="322.9" stroke="#999" stroke-width="0.35"/>
<line x1="1021.5" y1="324.5" x2="1028.75" y2="324.5" stroke="#999" stroke-width="0.35"/>
<line x1="1021.5" y1="326.1" x2="1028.75" y2="326.1" stroke="#999" stroke-width="0.35"/>
<line x1="1021.5" y1="327.7" x2="1028.75" y2="327.7" stroke="#999" stroke-width="0.35"/>
<line x1="1021.5" y1="329.3" x2="1028.75" y2="329.3" stroke="#999" stroke-width="0.35"/>
<line x1="1021.5" y1="330.9" x2="1028.75" y2="330.9" stroke="#999" stroke-width="0.35"/>
<line x1="1021.5" y1="332.5" x2="1028.75" y2="332.5" stroke="#999" stroke-width="0.35"/>
<line x1="1021.5" y1="334.1" x2="1028.75" y2="334.1" stroke="#999" stroke-width="0.35"/>
<line x1="1021.5" y1="335.7" x2="1028.75" y2="335.7" stroke="#999" stroke-width="0.35"/>
<line x1="1021.5" y1="337.3" x2="1028.75" y2="337.3" stroke="#999" stroke-width="0.35"/>
<line x1="1021.5" y1="338.9" x2="1028.75" y2="338.9" stroke="#999" stroke-width="0.35"/>
<line x1="1021.5" y1="340.5" x2="1028.75" y2="340.5" stroke="#999" stroke-width="0.35"/>
<line x1="1021.5" y1="342.1" x2="1028.75" y2="342.1" stroke="#999" stroke-width="0.35"/>
<line x1="1021.5" y1="343.7" x2="1028.75" y2="343.7" stroke="#999" stroke-width="0.35"/>
<line x1="1021.5" y1="345.3" x2="1028.75" y2="345.3" stroke="#999" stroke-width="0.35"/>
<line x1="1021.5" y1="346.9" x2="1028.75" y2="346.9" stroke="#999" stroke-width="0.35"/>
<line x1="1021.5" y1="348.5" x2="1028.75" y2="348.5" stroke="#999" stroke-width="0.35"/>
<line x1="1021.5" y1="350.1" x2="1028.75" y2="350.1" stroke="#999" stroke-width="0.35"/>
<line x1="1021.5" y1="351.7" x2="1028.75" y2="351.7" stroke="#999" stroke-width="0.35"/>
<line x1="1021.5" y1="353.3" x2="1028.75" y2="353.3" stroke="#999" stroke-width="0.35"/>
<line x1="1021.5" y1="354.9" x2="1028.75" y2="354.9" stroke="#999" stroke-width="0.35"/>
<line x1="1021.5" y1="356.5" x2="1028.75" y2="356.5" stroke="#999" stroke-width="0.35"/>
<line x1="1021.5" y1="358.1" x2="1028.75" y2="358.1" stroke="#999" stroke-width="0.35"/>
<line x1="1021.5" y1="359.7" x2="1028.75" y2="359.7" stroke="#999" stroke-width="0.35"/>
<line x1="1021.5" y1="361.3" x2="1028.75" y2="361.3" stroke="#999" stroke-width="0.35"/>
<line x1="1021.5" y1="362.9" x2="1028.75" y2="362.9" stroke="#999" stroke-width="0.35"/>
<line x1="1021.5" y1="364.5" x2="1028.75" y2="364.5" stroke="#999" stroke-width="0.35"/>
<line x1="1021.5" y1="366.1" x2="1028.75" y2="366.1" stroke="#999" stroke-width="0.35"/>
<line x1="1021.5" y1="367.7" x2="1028.75" y2="367.7" stroke="#999" stroke-width="0.35"/>
<line x1="1021.5" y1="369.3" x2="1028.75" y2="369.3" stroke="#999" stroke-width="0.35"/>
<line x1="1021.5" y1="370.9" x2="1028.75" y2="370.9" stroke="#999" stroke-width="0.35"/>
<line x1="1021.5" y1="372.5" x2="1028.75" y2="372.5" stroke="#999" stroke-width="0.35"/>
<line x1="1021.5" y1="374.1" x2="1028.75" y2="374.1" stroke="#999" stroke-width="0.35"/>
<line x1="1021.5" y1="375.7" x2="1028.75" y2="375.7" stroke="#999" stroke-width="0.35"/>
<line x1="1021.5" y1="377.3" x2="1028.75" y2="377.3" stroke="#999" stroke-width="0.35"/>
<line x1="1021.5" y1="378.9" x2="1028.75" y2="378.9" stroke="#999" stroke-width="0.35"/>
<line x1="1021.5" y1="380.5" x2="1028.75" y2="380.5" stroke="#999" stroke-width="0.35"/>
<line x1="1021.5" y1="382.1" x2="1028.75" y2="382.1" stroke="#999" stroke-width="0.35"/>
<line x1="1021.5" y1="383.7" x2="1028.75" y2="383.7" stroke="#999" stroke-width="0.35"/>
<line x1="1021.5" y1="385.3" x2="1028.75" y2="385.3" stroke="#999" stroke-width="0.35"/>
<line x1="1021.5" y1="386.9" x2="1028.75" y2="386.9" stroke="#999" stroke-width="0.35"/>
<line x1="1021.5" y1="388.5" x2="1028.75" y2="388.5" stroke="#999" stroke-width="0.35"/>
<line x1="1021.5" y1="390.1" x2="1028.75" y2="390.1" stroke="#999" stroke-width="0.35"/>
<line x1="1021.5" y1="391.7" x2="1028.75" y2="391.7" stroke="#999" stroke-width="0.35"/>
<line x1="1021.5" y1="393.3" x2="1028.75" y2="393.3" stroke="#999" stroke-width="0.35"/>
<line x1="1021.5" y1="394.9" x2="1028.75" y2="394.9" stroke="#999" stroke-width="0.35"/>
<line x1="1021.5" y1="396.5" x2="1028.75" y2="396.5" stroke="#999" stroke-width="0.35"/>
<line x1="1021.5" y1="398.1" x2="1028.75" y2="398.1" stroke="#999" stroke-width="0.35"/>
<rect x="1021.5" y="252.5" width="7.25" height="148.25" stroke="#333" stroke-width="0.9" fill="none"/>
<rect x="1021.5" y="414.5" width="7.25" height="15.5" fill="#e6e6e6"/>
<line x1="1021.5" y1="416.1" x2="1028.75" y2="416.1" stroke="#999" stroke-width="0.35"/>
<line x1="1021.5" y1="417.7" x2="1028.75" y2="417.7" stroke="#999" stroke-width="0.35"/>
<line x1="1021.5" y1="419.3" x2="1028.75" y2="419.3" stroke="#999" stroke-width="0.35"/>
<line x1="1021.5" y1="420.9" x2="1028.75" y2="420.9" stroke="#999" stroke-width="0.35"/>
<line x1="1021.5" y1="422.5" x2="1028.75" y2="422.5" stroke="#999" stroke-width="0.35"/>
<line x1="1021.5" y1="424.1" x2="1028.75" y2="424.1" stroke="#999" stroke-width="0.35"/>
<line x1="1021.5" y1="425.7" x2="1028.75" y2="425.7" stroke="#999" stroke-width="0.35"/>
<line x1="1021.5" y1="427.3" x2="1028.75" y2="427.3" stroke="#999" stroke-width="0.35"/>
<rect x="1021.5" y="414.5" width="7.25" height="15.5" stroke="#333" stroke-width="0.9" fill="none"/>
<rect x="1021.5" y="469" width="7.25" height="17" fill="#e6e6e6"/>
<line x1="1021.5" y1="470.6" x2="1028.75" y2="470.6" stroke="#999" stroke-width="0.35"/>
<line x1="1021.5" y1="472.2" x2="1028.75" y2="472.2" stroke="#999" stroke-width="0.35"/>
<line x1="1021.5" y1="473.8" x2="1028.75" y2="473.8" stroke="#999" stroke-width="0.35"/>
<line x1="1021.5" y1="475.4" x2="1028.75" y2="475.4" stroke="#999" stroke-width="0.35"/>
<line x1="1021.5" y1="477" x2="1028.75" y2="477" stroke="#999" stroke-width="0.35"/>
<line x1="1021.5" y1="478.6" x2="1028.75" y2="478.6" stroke="#999" stroke-width="0.35"/>
<line x1="1021.5" y1="480.2" x2="1028.75" y2="480.2" stroke="#999" stroke-width="0.35"/>
<line x1="1021.5" y1="481.8" x2="1028.75" y2="481.8" stroke="#999" stroke-width="0.35"/>
<line x1="1021.5" y1="483.4" x2="1028.75" y2="483.4" stroke="#999" stroke-width="0.35"/>
<rect x="1021.5" y="469" width="7.25" height="17" stroke="#333" stroke-width="0.9" fill="none"/>
<line x1="1021.5" y1="430" x2="1021.5" y2="469" stroke="#3a3a3a" stroke-width="0.8"/>
<rect x="1021.5" y="498.5" width="7.25" height="72.5" fill="#e6e6e6"/>
<line x1="1021.5" y1="500.1" x2="1028.75" y2="500.1" stroke="#999" stroke-width="0.35"/>
<line x1="1021.5" y1="501.7" x2="1028.75" y2="501.7" stroke="#999" stroke-width="0.35"/>
<line x1="1021.5" y1="503.3" x2="1028.75" y2="503.3" stroke="#999" stroke-width="0.35"/>
<line x1="1021.5" y1="504.9" x2="1028.75" y2="504.9" stroke="#999" stroke-width="0.35"/>
<line x1="1021.5" y1="506.5" x2="1028.75" y2="506.5" stroke="#999" stroke-width="0.35"/>
<line x1="1021.5" y1="508.1" x2="1028.75" y2="508.1" stroke="#999" stroke-width="0.35"/>
<line x1="1021.5" y1="509.7" x2="1028.75" y2="509.7" stroke="#999" stroke-width="0.35"/>
<line x1="1021.5" y1="511.3" x2="1028.75" y2="511.3" stroke="#999" stroke-width="0.35"/>
<line x1="1021.5" y1="512.9" x2="1028.75" y2="512.9" stroke="#999" stroke-width="0.35"/>
<line x1="1021.5" y1="514.5" x2="1028.75" y2="514.5" stroke="#999" stroke-width="0.35"/>
<line x1="1021.5" y1="516.1" x2="1028.75" y2="516.1" stroke="#999" stroke-width="0.35"/>
<line x1="1021.5" y1="517.7" x2="1028.75" y2="517.7" stroke="#999" stroke-width="0.35"/>
<line x1="1021.5" y1="519.3" x2="1028.75" y2="519.3" stroke="#999" stroke-width="0.35"/>
<line x1="1021.5" y1="520.9" x2="1028.75" y2="520.9" stroke="#999" stroke-width="0.35"/>
<line x1="1021.5" y1="522.5" x2="1028.75" y2="522.5" stroke="#999" stroke-width="0.35"/>
<line x1="1021.5" y1="524.1" x2="1028.75" y2="524.1" stroke="#999" stroke-width="0.35"/>
<line x1="1021.5" y1="525.7" x2="1028.75" y2="525.7" stroke="#999" stroke-width="0.35"/>
<line x1="1021.5" y1="527.3" x2="1028.75" y2="527.3" stroke="#999" stroke-width="0.35"/>
<line x1="1021.5" y1="528.9" x2="1028.75" y2="528.9" stroke="#999" stroke-width="0.35"/>
<line x1="1021.5" y1="530.5" x2="1028.75" y2="530.5" stroke="#999" stroke-width="0.35"/>
<line x1="1021.5" y1="532.1" x2="1028.75" y2="532.1" stroke="#999" stroke-width="0.35"/>
<line x1="1021.5" y1="533.7" x2="1028.75" y2="533.7" stroke="#999" stroke-width="0.35"/>
<line x1="1021.5" y1="535.3" x2="1028.75" y2="535.3" stroke="#999" stroke-width="0.35"/>
<line x1="1021.5" y1="536.9" x2="1028.75" y2="536.9" stroke="#999" stroke-width="0.35"/>
<line x1="1021.5" y1="538.5" x2="1028.75" y2="538.5" stroke="#999" stroke-width="0.35"/>
<line x1="1021.5" y1="540.1" x2="1028.75" y2="540.1" stroke="#999" stroke-width="0.35"/>
<line x1="1021.5" y1="541.7" x2="1028.75" y2="541.7" stroke="#999" stroke-width="0.35"/>
<line x1="1021.5" y1="543.3" x2="1028.75" y2="543.3" stroke="#999" stroke-width="0.35"/>
<line x1="1021.5" y1="544.9" x2="1028.75" y2="544.9" stroke="#999" stroke-width="0.35"/>
<line x1="1021.5" y1="546.5" x2="1028.75" y2="546.5" stroke="#999" stroke-width="0.35"/>
<line x1="1021.5" y1="548.1" x2="1028.75" y2="548.1" stroke="#999" stroke-width="0.35"/>
<line x1="1021.5" y1="549.7" x2="1028.75" y2="549.7" stroke="#999" stroke-width="0.35"/>
<line x1="1021.5" y1="551.3" x2="1028.75" y2="551.3" stroke="#999" stroke-width="0.35"/>
<line x1="1021.5" y1="552.9" x2="1028.75" y2="552.9" stroke="#999" stroke-width="0.35"/>
<line x1="1021.5" y1="554.5" x2="1028.75" y2="554.5" stroke="#999" stroke-width="0.35"/>
<line x1="1021.5" y1="556.1" x2="1028.75" y2="556.1" stroke="#999" stroke-width="0.35"/>
<line x1="1021.5" y1="557.7" x2="1028.75" y2="557.7" stroke="#999" stroke-width="0.35"/>
<line x1="1021.5" y1="559.3" x2="1028.75" y2="559.3" stroke="#999" stroke-width="0.35"/>
<line x1="1021.5" y1="560.9" x2="1028.75" y2="560.9" stroke="#999" stroke-width="0.35"/>
<line x1="1021.5" y1="562.5" x2="1028.75" y2="562.5" stroke="#999" stroke-width="0.35"/>
<line x1="1021.5" y1="564.1" x2="1028.75" y2="564.1" stroke="#999" stroke-width="0.35"/>
<line x1="1021.5" y1="565.7" x2="1028.75" y2="565.7" stroke="#999" stroke-width="0.35"/>
<line x1="1021.5" y1="567.3" x2="1028.75" y2="567.3" stroke="#999" stroke-width="0.35"/>
<line x1="1021.5" y1="568.9" x2="1028.75" y2="568.9" stroke="#999" stroke-width="0.35"/>
<rect x="1021.5" y="498.5" width="7.25" height="72.5" stroke="#333" stroke-width="0.9" fill="none"/>
<rect x="1021.5" y="584" width="7.25" height="39.75" fill="#e6e6e6"/>
<line x1="1021.5" y1="585.6" x2="1028.75" y2="585.6" stroke="#999" stroke-width="0.35"/>
<line x1="1021.5" y1="587.2" x2="1028.75" y2="587.2" stroke="#999" stroke-width="0.35"/>
<line x1="1021.5" y1="588.8" x2="1028.75" y2="588.8" stroke="#999" stroke-width="0.35"/>
<line x1="1021.5" y1="590.4" x2="1028.75" y2="590.4" stroke="#999" stroke-width="0.35"/>
<line x1="1021.5" y1="592" x2="1028.75" y2="592" stroke="#999" stroke-width="0.35"/>
<line x1="1021.5" y1="593.6" x2="1028.75" y2="593.6" stroke="#999" stroke-width="0.35"/>
<line x1="1021.5" y1="595.2" x2="1028.75" y2="595.2" stroke="#999" stroke-width="0.35"/>
<line x1="1021.5" y1="596.8" x2="1028.75" y2="596.8" stroke="#999" stroke-width="0.35"/>
<line x1="1021.5" y1="598.4" x2="1028.75" y2="598.4" stroke="#999" stroke-width="0.35"/>
<line x1="1021.5" y1="600" x2="1028.75" y2="600" stroke="#999" stroke-width="0.35"/>
<line x1="1021.5" y1="601.6" x2="1028.75" y2="601.6" stroke="#999" stroke-width="0.35"/>
<line x1="1021.5" y1="603.2" x2="1028.75" y2="603.2" stroke="#999" stroke-width="0.35"/>
<line x1="1021.5" y1="604.8" x2="1028.75" y2="604.8" stroke="#999" stroke-width="0.35"/>
<line x1="1021.5" y1="606.4" x2="1028.75" y2="606.4" stroke="#999" stroke-width="0.35"/>
<line x1="1021.5" y1="608" x2="1028.75" y2="608" stroke="#999" stroke-width="0.35"/>
<line x1="1021.5" y1="609.6" x2="1028.75" y2="609.6" stroke="#999" stroke-width="0.35"/>
<line x1="1021.5" y1="611.2" x2="1028.75" y2="611.2" stroke="#999" stroke-width="0.35"/>
<line x1="1021.5" y1="612.8" x2="1028.75" y2="612.8" stroke="#999" stroke-width="0.35"/>
<line x1="1021.5" y1="614.4" x2="1028.75" y2="614.4" stroke="#999" stroke-width="0.35"/>
<line x1="1021.5" y1="616" x2="1028.75" y2="616" stroke="#999" stroke-width="0.35"/>
<line x1="1021.5" y1="617.6" x2="1028.75" y2="617.6" stroke="#999" stroke-width="0.35"/>
<line x1="1021.5" y1="619.2" x2="1028.75" y2="619.2" stroke="#999" stroke-width="0.35"/>
<line x1="1021.5" y1="620.8" x2="1028.75" y2="620.8" stroke="#999" stroke-width="0.35"/>
<rect x="1021.5" y="584" width="7.25" height="39.75" stroke="#333" stroke-width="0.9" fill="none"/>
<rect x="548.75" y="252.5" width="6.5" height="67.5" fill="#e6e6e6"/>
<line x1="548.75" y1="254.1" x2="555.25" y2="254.1" stroke="#999" stroke-width="0.35"/>
<line x1="548.75" y1="255.7" x2="555.25" y2="255.7" stroke="#999" stroke-width="0.35"/>
<line x1="548.75" y1="257.3" x2="555.25" y2="257.3" stroke="#999" stroke-width="0.35"/>
<line x1="548.75" y1="258.9" x2="555.25" y2="258.9" stroke="#999" stroke-width="0.35"/>
<line x1="548.75" y1="260.5" x2="555.25" y2="260.5" stroke="#999" stroke-width="0.35"/>
<line x1="548.75" y1="262.1" x2="555.25" y2="262.1" stroke="#999" stroke-width="0.35"/>
<line x1="548.75" y1="263.7" x2="555.25" y2="263.7" stroke="#999" stroke-width="0.35"/>
<line x1="548.75" y1="265.3" x2="555.25" y2="265.3" stroke="#999" stroke-width="0.35"/>
<line x1="548.75" y1="266.9" x2="555.25" y2="266.9" stroke="#999" stroke-width="0.35"/>
<line x1="548.75" y1="268.5" x2="555.25" y2="268.5" stroke="#999" stroke-width="0.35"/>
<line x1="548.75" y1="270.1" x2="555.25" y2="270.1" stroke="#999" stroke-width="0.35"/>
<line x1="548.75" y1="271.7" x2="555.25" y2="271.7" stroke="#999" stroke-width="0.35"/>
<line x1="548.75" y1="273.3" x2="555.25" y2="273.3" stroke="#999" stroke-width="0.35"/>
<line x1="548.75" y1="274.9" x2="555.25" y2="274.9" stroke="#999" stroke-width="0.35"/>
<line x1="548.75" y1="276.5" x2="555.25" y2="276.5" stroke="#999" stroke-width="0.35"/>
<line x1="548.75" y1="278.1" x2="555.25" y2="278.1" stroke="#999" stroke-width="0.35"/>
<line x1="548.75" y1="279.7" x2="555.25" y2="279.7" stroke="#999" stroke-width="0.35"/>
<line x1="548.75" y1="281.3" x2="555.25" y2="281.3" stroke="#999" stroke-width="0.35"/>
<line x1="548.75" y1="282.9" x2="555.25" y2="282.9" stroke="#999" stroke-width="0.35"/>
<line x1="548.75" y1="284.5" x2="555.25" y2="284.5" stroke="#999" stroke-width="0.35"/>
<line x1="548.75" y1="286.1" x2="555.25" y2="286.1" stroke="#999" stroke-width="0.35"/>
<line x1="548.75" y1="287.7" x2="555.25" y2="287.7" stroke="#999" stroke-width="0.35"/>
<line x1="548.75" y1="289.3" x2="555.25" y2="289.3" stroke="#999" stroke-width="0.35"/>
<line x1="548.75" y1="290.9" x2="555.25" y2="290.9" stroke="#999" stroke-width="0.35"/>
<line x1="548.75" y1="292.5" x2="555.25" y2="292.5" stroke="#999" stroke-width="0.35"/>
<line x1="548.75" y1="294.1" x2="555.25" y2="294.1" stroke="#999" stroke-width="0.35"/>
<line x1="548.75" y1="295.7" x2="555.25" y2="295.7" stroke="#999" stroke-width="0.35"/>
<line x1="548.75" y1="297.3" x2="555.25" y2="297.3" stroke="#999" stroke-width="0.35"/>
<line x1="548.75" y1="298.9" x2="555.25" y2="298.9" stroke="#999" stroke-width="0.35"/>
<line x1="548.75" y1="300.5" x2="555.25" y2="300.5" stroke="#999" stroke-width="0.35"/>
<line x1="548.75" y1="302.1" x2="555.25" y2="302.1" stroke="#999" stroke-width="0.35"/>
<line x1="548.75" y1="303.7" x2="555.25" y2="303.7" stroke="#999" stroke-width="0.35"/>
<line x1="548.75" y1="305.3" x2="555.25" y2="305.3" stroke="#999" stroke-width="0.35"/>
<line x1="548.75" y1="306.9" x2="555.25" y2="306.9" stroke="#999" stroke-width="0.35"/>
<line x1="548.75" y1="308.5" x2="555.25" y2="308.5" stroke="#999" stroke-width="0.35"/>
<line x1="548.75" y1="310.1" x2="555.25" y2="310.1" stroke="#999" stroke-width="0.35"/>
<line x1="548.75" y1="311.7" x2="555.25" y2="311.7" stroke="#999" stroke-width="0.35"/>
<line x1="548.75" y1="313.3" x2="555.25" y2="313.3" stroke="#999" stroke-width="0.35"/>
<line x1="548.75" y1="314.9" x2="555.25" y2="314.9" stroke="#999" stroke-width="0.35"/>
<line x1="548.75" y1="316.5" x2="555.25" y2="316.5" stroke="#999" stroke-width="0.35"/>
<line x1="548.75" y1="318.1" x2="555.25" y2="318.1" stroke="#999" stroke-width="0.35"/>
<rect x="548.75" y="252.5" width="6.5" height="67.5" stroke="#333" stroke-width="0.9" fill="none"/>
<rect x="548.75" y="333.25" width="6.5" height="67.5" fill="#e6e6e6"/>
<line x1="548.75" y1="334.85" x2="555.25" y2="334.85" stroke="#999" stroke-width="0.35"/>
<line x1="548.75" y1="336.45" x2="555.25" y2="336.45" stroke="#999" stroke-width="0.35"/>
<line x1="548.75" y1="338.05" x2="555.25" y2="338.05" stroke="#999" stroke-width="0.35"/>
<line x1="548.75" y1="339.65" x2="555.25" y2="339.65" stroke="#999" stroke-width="0.35"/>
<line x1="548.75" y1="341.25" x2="555.25" y2="341.25" stroke="#999" stroke-width="0.35"/>
<line x1="548.75" y1="342.85" x2="555.25" y2="342.85" stroke="#999" stroke-width="0.35"/>
<line x1="548.75" y1="344.45" x2="555.25" y2="344.45" stroke="#999" stroke-width="0.35"/>
<line x1="548.75" y1="346.05" x2="555.25" y2="346.05" stroke="#999" stroke-width="0.35"/>
<line x1="548.75" y1="347.65" x2="555.25" y2="347.65" stroke="#999" stroke-width="0.35"/>
<line x1="548.75" y1="349.25" x2="555.25" y2="349.25" stroke="#999" stroke-width="0.35"/>
<line x1="548.75" y1="350.85" x2="555.25" y2="350.85" stroke="#999" stroke-width="0.35"/>
<line x1="548.75" y1="352.45" x2="555.25" y2="352.45" stroke="#999" stroke-width="0.35"/>
<line x1="548.75" y1="354.05" x2="555.25" y2="354.05" stroke="#999" stroke-width="0.35"/>
<line x1="548.75" y1="355.65" x2="555.25" y2="355.65" stroke="#999" stroke-width="0.35"/>
<line x1="548.75" y1="357.25" x2="555.25" y2="357.25" stroke="#999" stroke-width="0.35"/>
<line x1="548.75" y1="358.85" x2="555.25" y2="358.85" stroke="#999" stroke-width="0.35"/>
<line x1="548.75" y1="360.45" x2="555.25" y2="360.45" stroke="#999" stroke-width="0.35"/>
<line x1="548.75" y1="362.05" x2="555.25" y2="362.05" stroke="#999" stroke-width="0.35"/>
<line x1="548.75" y1="363.65" x2="555.25" y2="363.65" stroke="#999" stroke-width="0.35"/>
<line x1="548.75" y1="365.25" x2="555.25" y2="365.25" stroke="#999" stroke-width="0.35"/>
<line x1="548.75" y1="366.85" x2="555.25" y2="366.85" stroke="#999" stroke-width="0.35"/>
<line x1="548.75" y1="368.45" x2="555.25" y2="368.45" stroke="#999" stroke-width="0.35"/>
<line x1="548.75" y1="370.05" x2="555.25" y2="370.05" stroke="#999" stroke-width="0.35"/>
<line x1="548.75" y1="371.65" x2="555.25" y2="371.65" stroke="#999" stroke-width="0.35"/>
<line x1="548.75" y1="373.25" x2="555.25" y2="373.25" stroke="#999" stroke-width="0.35"/>
<line x1="548.75" y1="374.85" x2="555.25" y2="374.85" stroke="#999" stroke-width="0.35"/>
<line x1="548.75" y1="376.45" x2="555.25" y2="376.45" stroke="#999" stroke-width="0.35"/>
<line x1="548.75" y1="378.05" x2="555.25" y2="378.05" stroke="#999" stroke-width="0.35"/>
<line x1="548.75" y1="379.65" x2="555.25" y2="379.65" stroke="#999" stroke-width="0.35"/>
<line x1="548.75" y1="381.25" x2="555.25" y2="381.25" stroke="#999" stroke-width="0.35"/>
<line x1="548.75" y1="382.85" x2="555.25" y2="382.85" stroke="#999" stroke-width="0.35"/>
<line x1="548.75" y1="384.45" x2="555.25" y2="384.45" stroke="#999" stroke-width="0.35"/>
<line x1="548.75" y1="386.05" x2="555.25" y2="386.05" stroke="#999" stroke-width="0.35"/>
<line x1="548.75" y1="387.65" x2="555.25" y2="387.65" stroke="#999" stroke-width="0.35"/>
<line x1="548.75" y1="389.25" x2="555.25" y2="389.25" stroke="#999" stroke-width="0.35"/>
<line x1="548.75" y1="390.85" x2="555.25" y2="390.85" stroke="#999" stroke-width="0.35"/>
<line x1="548.75" y1="392.45" x2="555.25" y2="392.45" stroke="#999" stroke-width="0.35"/>
<line x1="548.75" y1="394.05" x2="555.25" y2="394.05" stroke="#999" stroke-width="0.35"/>
<line x1="548.75" y1="395.65" x2="555.25" y2="395.65" stroke="#999" stroke-width="0.35"/>
<line x1="548.75" y1="397.25" x2="555.25" y2="397.25" stroke="#999" stroke-width="0.35"/>
<line x1="548.75" y1="398.85" x2="555.25" y2="398.85" stroke="#999" stroke-width="0.35"/>
<rect x="548.75" y="333.25" width="6.5" height="67.5" stroke="#333" stroke-width="0.9" fill="none"/>
<rect x="548.75" y="414.5" width="6.5" height="26.5" fill="#e6e6e6"/>
<line x1="548.75" y1="416.1" x2="555.25" y2="416.1" stroke="#999" stroke-width="0.35"/>
<line x1="548.75" y1="417.7" x2="555.25" y2="417.7" stroke="#999" stroke-width="0.35"/>
<line x1="548.75" y1="419.3" x2="555.25" y2="419.3" stroke="#999" stroke-width="0.35"/>
<line x1="548.75" y1="420.9" x2="555.25" y2="420.9" stroke="#999" stroke-width="0.35"/>
<line x1="548.75" y1="422.5" x2="555.25" y2="422.5" stroke="#999" stroke-width="0.35"/>
<line x1="548.75" y1="424.1" x2="555.25" y2="424.1" stroke="#999" stroke-width="0.35"/>
<line x1="548.75" y1="425.7" x2="555.25" y2="425.7" stroke="#999" stroke-width="0.35"/>
<line x1="548.75" y1="427.3" x2="555.25" y2="427.3" stroke="#999" stroke-width="0.35"/>
<line x1="548.75" y1="428.9" x2="555.25" y2="428.9" stroke="#999" stroke-width="0.35"/>
<line x1="548.75" y1="430.5" x2="555.25" y2="430.5" stroke="#999" stroke-width="0.35"/>
<line x1="548.75" y1="432.1" x2="555.25" y2="432.1" stroke="#999" stroke-width="0.35"/>
<line x1="548.75" y1="433.7" x2="555.25" y2="433.7" stroke="#999" stroke-width="0.35"/>
<line x1="548.75" y1="435.3" x2="555.25" y2="435.3" stroke="#999" stroke-width="0.35"/>
<line x1="548.75" y1="436.9" x2="555.25" y2="436.9" stroke="#999" stroke-width="0.35"/>
<line x1="548.75" y1="438.5" x2="555.25" y2="438.5" stroke="#999" stroke-width="0.35"/>
<rect x="548.75" y="414.5" width="6.5" height="26.5" stroke="#333" stroke-width="0.9" fill="none"/>
<rect x="548.75" y="480" width="6.5" height="28.75" fill="#e6e6e6"/>
<line x1="548.75" y1="481.6" x2="555.25" y2="481.6" stroke="#999" stroke-width="0.35"/>
<line x1="548.75" y1="483.2" x2="555.25" y2="483.2" stroke="#999" stroke-width="0.35"/>
<line x1="548.75" y1="484.8" x2="555.25" y2="484.8" stroke="#999" stroke-width="0.35"/>
<line x1="548.75" y1="486.4" x2="555.25" y2="486.4" stroke="#999" stroke-width="0.35"/>
<line x1="548.75" y1="488" x2="555.25" y2="488" stroke="#999" stroke-width="0.35"/>
<line x1="548.75" y1="489.6" x2="555.25" y2="489.6" stroke="#999" stroke-width="0.35"/>
<line x1="548.75" y1="491.2" x2="555.25" y2="491.2" stroke="#999" stroke-width="0.35"/>
<line x1="548.75" y1="492.8" x2="555.25" y2="492.8" stroke="#999" stroke-width="0.35"/>
<line x1="548.75" y1="494.4" x2="555.25" y2="494.4" stroke="#999" stroke-width="0.35"/>
<line x1="548.75" y1="496" x2="555.25" y2="496" stroke="#999" stroke-width="0.35"/>
<line x1="548.75" y1="497.6" x2="555.25" y2="497.6" stroke="#999" stroke-width="0.35"/>
<line x1="548.75" y1="499.2" x2="555.25" y2="499.2" stroke="#999" stroke-width="0.35"/>
<line x1="548.75" y1="500.8" x2="555.25" y2="500.8" stroke="#999" stroke-width="0.35"/>
<line x1="548.75" y1="502.4" x2="555.25" y2="502.4" stroke="#999" stroke-width="0.35"/>
<line x1="548.75" y1="504" x2="555.25" y2="504" stroke="#999" stroke-width="0.35"/>
<line x1="548.75" y1="505.6" x2="555.25" y2="505.6" stroke="#999" stroke-width="0.35"/>
<rect x="548.75" y="480" width="6.5" height="28.75" stroke="#333" stroke-width="0.9" fill="none"/>
<line x1="548.75" y1="441" x2="548.75" y2="480" stroke="#3a3a3a" stroke-width="0.8"/>
<line x1="555.25" y1="441" x2="555.25" y2="480" stroke="#3a3a3a" stroke-width="0.8"/>
<line x1="555.25" y1="522" x2="555.25" y2="623.75" stroke="#333" stroke-width="1"/>
<line x1="555.25" y1="193.25" x2="555.25" y2="239.25" stroke="#333" stroke-width="0.9"/>
<line x1="561.5" y1="114.5" x2="561.5" y2="180" stroke="#444" stroke-width="0.8"/>
<line x1="555" y1="114.5" x2="555" y2="180" stroke="#888" stroke-width="0.7" stroke-dasharray="2,1.5"/>
<line x1="548" y1="158.75" x2="1028.75" y2="158.75" stroke="#333" stroke-width="0.9"/>
<text x="862" y="156.5" font-size="4.35" fill="#222" stroke="#222" stroke-width="0.2" text-anchor="middle"><tspan x="862">33'-8"</tspan></text>
<line x1="437.5" y1="180" x2="697" y2="180" stroke="#2a2a2a" stroke-width="1"/>
<rect x="561.5" y="180.6" width="122" height="6.4" fill="#e6e6e6"/>
<line x1="563.1" y1="180.6" x2="563.1" y2="187" stroke="#999" stroke-width="0.35"/>
<line x1="564.7" y1="180.6" x2="564.7" y2="187" stroke="#999" stroke-width="0.35"/>
<line x1="566.3" y1="180.6" x2="566.3" y2="187" stroke="#999" stroke-width="0.35"/>
<line x1="567.9" y1="180.6" x2="567.9" y2="187" stroke="#999" stroke-width="0.35"/>
<line x1="569.5" y1="180.6" x2="569.5" y2="187" stroke="#999" stroke-width="0.35"/>
<line x1="571.1" y1="180.6" x2="571.1" y2="187" stroke="#999" stroke-width="0.35"/>
<line x1="572.7" y1="180.6" x2="572.7" y2="187" stroke="#999" stroke-width="0.35"/>
<line x1="574.3" y1="180.6" x2="574.3" y2="187" stroke="#999" stroke-width="0.35"/>
<line x1="575.9" y1="180.6" x2="575.9" y2="187" stroke="#999" stroke-width="0.35"/>
<line x1="577.5" y1="180.6" x2="577.5" y2="187" stroke="#999" stroke-width="0.35"/>
<line x1="579.1" y1="180.6" x2="579.1" y2="187" stroke="#999" stroke-width="0.35"/>
<line x1="580.7" y1="180.6" x2="580.7" y2="187" stroke="#999" stroke-width="0.35"/>
<line x1="582.3" y1="180.6" x2="582.3" y2="187" stroke="#999" stroke-width="0.35"/>
<line x1="583.9" y1="180.6" x2="583.9" y2="187" stroke="#999" stroke-width="0.35"/>
<line x1="585.5" y1="180.6" x2="585.5" y2="187" stroke="#999" stroke-width="0.35"/>
<line x1="587.1" y1="180.6" x2="587.1" y2="187" stroke="#999" stroke-width="0.35"/>
<line x1="588.7" y1="180.6" x2="588.7" y2="187" stroke="#999" stroke-width="0.35"/>
<line x1="590.3" y1="180.6" x2="590.3" y2="187" stroke="#999" stroke-width="0.35"/>
<line x1="591.9" y1="180.6" x2="591.9" y2="187" stroke="#999" stroke-width="0.35"/>
<line x1="593.5" y1="180.6" x2="593.5" y2="187" stroke="#999" stroke-width="0.35"/>
<line x1="595.1" y1="180.6" x2="595.1" y2="187" stroke="#999" stroke-width="0.35"/>
<line x1="596.7" y1="180.6" x2="596.7" y2="187" stroke="#999" stroke-width="0.35"/>
<line x1="598.3" y1="180.6" x2="598.3" y2="187" stroke="#999" stroke-width="0.35"/>
<line x1="599.9" y1="180.6" x2="599.9" y2="187" stroke="#999" stroke-width="0.35"/>
<line x1="601.5" y1="180.6" x2="601.5" y2="187" stroke="#999" stroke-width="0.35"/>
<line x1="603.1" y1="180.6" x2="603.1" y2="187" stroke="#999" stroke-width="0.35"/>
<line x1="604.7" y1="180.6" x2="604.7" y2="187" stroke="#999" stroke-width="0.35"/>
<line x1="606.3" y1="180.6" x2="606.3" y2="187" stroke="#999" stroke-width="0.35"/>
<line x1="607.9" y1="180.6" x2="607.9" y2="187" stroke="#999" stroke-width="0.35"/>
<line x1="609.5" y1="180.6" x2="609.5" y2="187" stroke="#999" stroke-width="0.35"/>
<line x1="611.1" y1="180.6" x2="611.1" y2="187" stroke="#999" stroke-width="0.35"/>
<line x1="612.7" y1="180.6" x2="612.7" y2="187" stroke="#999" stroke-width="0.35"/>
<line x1="614.3" y1="180.6" x2="614.3" y2="187" stroke="#999" stroke-width="0.35"/>
<line x1="615.9" y1="180.6" x2="615.9" y2="187" stroke="#999" stroke-width="0.35"/>
<line x1="617.5" y1="180.6" x2="617.5" y2="187" stroke="#999" stroke-width="0.35"/>
<line x1="619.1" y1="180.6" x2="619.1" y2="187" stroke="#999" stroke-width="0.35"/>
<line x1="620.7" y1="180.6" x2="620.7" y2="187" stroke="#999" stroke-width="0.35"/>
<line x1="622.3" y1="180.6" x2="622.3" y2="187" stroke="#999" stroke-width="0.35"/>
<line x1="623.9" y1="180.6" x2="623.9" y2="187" stroke="#999" stroke-width="0.35"/>
<line x1="625.5" y1="180.6" x2="625.5" y2="187" stroke="#999" stroke-width="0.35"/>
<line x1="627.1" y1="180.6" x2="627.1" y2="187" stroke="#999" stroke-width="0.35"/>
<line x1="628.7" y1="180.6" x2="628.7" y2="187" stroke="#999" stroke-width="0.35"/>
<line x1="630.3" y1="180.6" x2="630.3" y2="187" stroke="#999" stroke-width="0.35"/>
<line x1="631.9" y1="180.6" x2="631.9" y2="187" stroke="#999" stroke-width="0.35"/>
<line x1="633.5" y1="180.6" x2="633.5" y2="187" stroke="#999" stroke-width="0.35"/>
<line x1="635.1" y1="180.6" x2="635.1" y2="187" stroke="#999" stroke-width="0.35"/>
<line x1="636.7" y1="180.6" x2="636.7" y2="187" stroke="#999" stroke-width="0.35"/>
<line x1="638.3" y1="180.6" x2="638.3" y2="187" stroke="#999" stroke-width="0.35"/>
<line x1="639.9" y1="180.6" x2="639.9" y2="187" stroke="#999" stroke-width="0.35"/>
<line x1="641.5" y1="180.6" x2="641.5" y2="187" stroke="#999" stroke-width="0.35"/>
<line x1="643.1" y1="180.6" x2="643.1" y2="187" stroke="#999" stroke-width="0.35"/>
<line x1="644.7" y1="180.6" x2="644.7" y2="187" stroke="#999" stroke-width="0.35"/>
<line x1="646.3" y1="180.6" x2="646.3" y2="187" stroke="#999" stroke-width="0.35"/>
<line x1="647.9" y1="180.6" x2="647.9" y2="187" stroke="#999" stroke-width="0.35"/>
<line x1="649.5" y1="180.6" x2="649.5" y2="187" stroke="#999" stroke-width="0.35"/>
<line x1="651.1" y1="180.6" x2="651.1" y2="187" stroke="#999" stroke-width="0.35"/>
<line x1="652.7" y1="180.6" x2="652.7" y2="187" stroke="#999" stroke-width="0.35"/>
<line x1="654.3" y1="180.6" x2="654.3" y2="187" stroke="#999" stroke-width="0.35"/>
<line x1="655.9" y1="180.6" x2="655.9" y2="187" stroke="#999" stroke-width="0.35"/>
<line x1="657.5" y1="180.6" x2="657.5" y2="187" stroke="#999" stroke-width="0.35"/>
<line x1="659.1" y1="180.6" x2="659.1" y2="187" stroke="#999" stroke-width="0.35"/>
<line x1="660.7" y1="180.6" x2="660.7" y2="187" stroke="#999" stroke-width="0.35"/>
<line x1="662.3" y1="180.6" x2="662.3" y2="187" stroke="#999" stroke-width="0.35"/>
<line x1="663.9" y1="180.6" x2="663.9" y2="187" stroke="#999" stroke-width="0.35"/>
<line x1="665.5" y1="180.6" x2="665.5" y2="187" stroke="#999" stroke-width="0.35"/>
<line x1="667.1" y1="180.6" x2="667.1" y2="187" stroke="#999" stroke-width="0.35"/>
<line x1="668.7" y1="180.6" x2="668.7" y2="187" stroke="#999" stroke-width="0.35"/>
<line x1="670.3" y1="180.6" x2="670.3" y2="187" stroke="#999" stroke-width="0.35"/>
<line x1="671.9" y1="180.6" x2="671.9" y2="187" stroke="#999" stroke-width="0.35"/>
<line x1="673.5" y1="180.6" x2="673.5" y2="187" stroke="#999" stroke-width="0.35"/>
<line x1="675.1" y1="180.6" x2="675.1" y2="187" stroke="#999" stroke-width="0.35"/>
<line x1="676.7" y1="180.6" x2="676.7" y2="187" stroke="#999" stroke-width="0.35"/>
<line x1="678.3" y1="180.6" x2="678.3" y2="187" stroke="#999" stroke-width="0.35"/>
<line x1="679.9" y1="180.6" x2="679.9" y2="187" stroke="#999" stroke-width="0.35"/>
<line x1="681.5" y1="180.6" x2="681.5" y2="187" stroke="#999" stroke-width="0.35"/>
<rect x="561.5" y="180.6" width="122" height="6.4" stroke="#333" stroke-width="0.9" fill="none"/>
<rect x="615" y="180.6" width="15" height="6.4" fill="#9a9a9a"/>
<rect x="615" y="180.6" width="15" height="6.4" stroke="#333" stroke-width="0.8" fill="none"/>
<rect x="548.5" y="180.5" width="12.5" height="12.5" stroke="#222" stroke-width="1.1" fill="#fff"/>
<rect x="550.23" y="182.23" width="3.1" height="3.1" stroke="#1a1a1a" stroke-width="1.2" fill="none"/>
<rect x="550.23" y="188.17" width="3.1" height="3.1" stroke="#1a1a1a" stroke-width="1.2" fill="none"/>
<rect x="556.17" y="182.23" width="3.1" height="3.1" stroke="#1a1a1a" stroke-width="1.2" fill="none"/>
<rect x="556.17" y="188.17" width="3.1" height="3.1" stroke="#1a1a1a" stroke-width="1.2" fill="none"/>
<rect x="684" y="180.5" width="12.5" height="12.5" stroke="#222" stroke-width="1.1" fill="#fff"/>
<rect x="685.73" y="182.23" width="3.1" height="3.1" stroke="#1a1a1a" stroke-width="1.2" fill="none"/>
<rect x="685.73" y="188.17" width="3.1" height="3.1" stroke="#1a1a1a" stroke-width="1.2" fill="none"/>
<rect x="691.67" y="182.23" width="3.1" height="3.1" stroke="#1a1a1a" stroke-width="1.2" fill="none"/>
<rect x="691.67" y="188.17" width="3.1" height="3.1" stroke="#1a1a1a" stroke-width="1.2" fill="none"/>
<line x1="437.5" y1="239.5" x2="1109.5" y2="239.5" stroke="#2a2a2a" stroke-width="1"/>
<line x1="664" y1="246" x2="1015" y2="246" stroke="#333" stroke-width="0.9"/>
<rect x="548.5" y="240" width="12.5" height="12.5" stroke="#222" stroke-width="1.1" fill="#fff"/>
<rect x="550.23" y="241.73" width="3.1" height="3.1" stroke="#1a1a1a" stroke-width="1.2" fill="none"/>
<rect x="550.23" y="247.67" width="3.1" height="3.1" stroke="#1a1a1a" stroke-width="1.2" fill="none"/>
<rect x="556.17" y="241.73" width="3.1" height="3.1" stroke="#1a1a1a" stroke-width="1.2" fill="none"/>
<rect x="556.17" y="247.67" width="3.1" height="3.1" stroke="#1a1a1a" stroke-width="1.2" fill="none"/>
<rect x="684.5" y="240" width="12.5" height="12.5" stroke="#222" stroke-width="1.1" fill="#fff"/>
<rect x="686.23" y="241.73" width="3.1" height="3.1" stroke="#1a1a1a" stroke-width="1.2" fill="none"/>
<rect x="686.23" y="247.67" width="3.1" height="3.1" stroke="#1a1a1a" stroke-width="1.2" fill="none"/>
<rect x="692.17" y="241.73" width="3.1" height="3.1" stroke="#1a1a1a" stroke-width="1.2" fill="none"/>
<rect x="692.17" y="247.67" width="3.1" height="3.1" stroke="#1a1a1a" stroke-width="1.2" fill="none"/>
<rect x="721.5" y="240" width="12.5" height="12.5" stroke="#222" stroke-width="1.1" fill="#fff"/>
<rect x="723.23" y="241.73" width="3.1" height="3.1" stroke="#1a1a1a" stroke-width="1.2" fill="none"/>
<rect x="723.23" y="247.67" width="3.1" height="3.1" stroke="#1a1a1a" stroke-width="1.2" fill="none"/>
<rect x="729.17" y="241.73" width="3.1" height="3.1" stroke="#1a1a1a" stroke-width="1.2" fill="none"/>
<rect x="729.17" y="247.67" width="3.1" height="3.1" stroke="#1a1a1a" stroke-width="1.2" fill="none"/>
<rect x="771.5" y="240" width="12.5" height="12.5" stroke="#222" stroke-width="1.1" fill="#fff"/>
<rect x="773.23" y="241.73" width="3.1" height="3.1" stroke="#1a1a1a" stroke-width="1.2" fill="none"/>
<rect x="773.23" y="247.67" width="3.1" height="3.1" stroke="#1a1a1a" stroke-width="1.2" fill="none"/>
<rect x="779.17" y="241.73" width="3.1" height="3.1" stroke="#1a1a1a" stroke-width="1.2" fill="none"/>
<rect x="779.17" y="247.67" width="3.1" height="3.1" stroke="#1a1a1a" stroke-width="1.2" fill="none"/>
<rect x="945.5" y="240" width="12.5" height="12.5" stroke="#222" stroke-width="1.1" fill="#fff"/>
<rect x="947.23" y="241.73" width="3.1" height="3.1" stroke="#1a1a1a" stroke-width="1.2" fill="none"/>
<rect x="947.23" y="247.67" width="3.1" height="3.1" stroke="#1a1a1a" stroke-width="1.2" fill="none"/>
<rect x="953.17" y="241.73" width="3.1" height="3.1" stroke="#1a1a1a" stroke-width="1.2" fill="none"/>
<rect x="953.17" y="247.67" width="3.1" height="3.1" stroke="#1a1a1a" stroke-width="1.2" fill="none"/>
<rect x="1015.75" y="240" width="12.5" height="12.5" stroke="#222" stroke-width="1.1" fill="#fff"/>
<rect x="1017.48" y="241.73" width="3.1" height="3.1" stroke="#1a1a1a" stroke-width="1.2" fill="none"/>
<rect x="1017.48" y="247.67" width="3.1" height="3.1" stroke="#1a1a1a" stroke-width="1.2" fill="none"/>
<rect x="1023.42" y="241.73" width="3.1" height="3.1" stroke="#1a1a1a" stroke-width="1.2" fill="none"/>
<rect x="1023.42" y="247.67" width="3.1" height="3.1" stroke="#1a1a1a" stroke-width="1.2" fill="none"/>
<rect x="697.5" y="239.5" width="23.5" height="6.5" fill="#e6e6e6"/>
<line x1="699.1" y1="239.5" x2="699.1" y2="246" stroke="#999" stroke-width="0.35"/>
<line x1="700.7" y1="239.5" x2="700.7" y2="246" stroke="#999" stroke-width="0.35"/>
<line x1="702.3" y1="239.5" x2="702.3" y2="246" stroke="#999" stroke-width="0.35"/>
<line x1="703.9" y1="239.5" x2="703.9" y2="246" stroke="#999" stroke-width="0.35"/>
<line x1="705.5" y1="239.5" x2="705.5" y2="246" stroke="#999" stroke-width="0.35"/>
<line x1="707.1" y1="239.5" x2="707.1" y2="246" stroke="#999" stroke-width="0.35"/>
<line x1="708.7" y1="239.5" x2="708.7" y2="246" stroke="#999" stroke-width="0.35"/>
<line x1="710.3" y1="239.5" x2="710.3" y2="246" stroke="#999" stroke-width="0.35"/>
<line x1="711.9" y1="239.5" x2="711.9" y2="246" stroke="#999" stroke-width="0.35"/>
<line x1="713.5" y1="239.5" x2="713.5" y2="246" stroke="#999" stroke-width="0.35"/>
<line x1="715.1" y1="239.5" x2="715.1" y2="246" stroke="#999" stroke-width="0.35"/>
<line x1="716.7" y1="239.5" x2="716.7" y2="246" stroke="#999" stroke-width="0.35"/>
<line x1="718.3" y1="239.5" x2="718.3" y2="246" stroke="#999" stroke-width="0.35"/>
<rect x="697.5" y="239.5" width="23.5" height="6.5" stroke="#333" stroke-width="0.9" fill="none"/>
<rect x="733.5" y="239.5" width="37.5" height="6.5" fill="#e6e6e6"/>
<line x1="735.1" y1="239.5" x2="735.1" y2="246" stroke="#999" stroke-width="0.35"/>
<line x1="736.7" y1="239.5" x2="736.7" y2="246" stroke="#999" stroke-width="0.35"/>
<line x1="738.3" y1="239.5" x2="738.3" y2="246" stroke="#999" stroke-width="0.35"/>
<line x1="739.9" y1="239.5" x2="739.9" y2="246" stroke="#999" stroke-width="0.35"/>
<line x1="741.5" y1="239.5" x2="741.5" y2="246" stroke="#999" stroke-width="0.35"/>
<line x1="743.1" y1="239.5" x2="743.1" y2="246" stroke="#999" stroke-width="0.35"/>
<line x1="744.7" y1="239.5" x2="744.7" y2="246" stroke="#999" stroke-width="0.35"/>
<line x1="746.3" y1="239.5" x2="746.3" y2="246" stroke="#999" stroke-width="0.35"/>
<line x1="747.9" y1="239.5" x2="747.9" y2="246" stroke="#999" stroke-width="0.35"/>
<line x1="749.5" y1="239.5" x2="749.5" y2="246" stroke="#999" stroke-width="0.35"/>
<line x1="751.1" y1="239.5" x2="751.1" y2="246" stroke="#999" stroke-width="0.35"/>
<line x1="752.7" y1="239.5" x2="752.7" y2="246" stroke="#999" stroke-width="0.35"/>
<line x1="754.3" y1="239.5" x2="754.3" y2="246" stroke="#999" stroke-width="0.35"/>
<line x1="755.9" y1="239.5" x2="755.9" y2="246" stroke="#999" stroke-width="0.35"/>
<line x1="757.5" y1="239.5" x2="757.5" y2="246" stroke="#999" stroke-width="0.35"/>
<line x1="759.1" y1="239.5" x2="759.1" y2="246" stroke="#999" stroke-width="0.35"/>
<line x1="760.7" y1="239.5" x2="760.7" y2="246" stroke="#999" stroke-width="0.35"/>
<line x1="762.3" y1="239.5" x2="762.3" y2="246" stroke="#999" stroke-width="0.35"/>
<line x1="763.9" y1="239.5" x2="763.9" y2="246" stroke="#999" stroke-width="0.35"/>
<line x1="765.5" y1="239.5" x2="765.5" y2="246" stroke="#999" stroke-width="0.35"/>
<line x1="767.1" y1="239.5" x2="767.1" y2="246" stroke="#999" stroke-width="0.35"/>
<line x1="768.7" y1="239.5" x2="768.7" y2="246" stroke="#999" stroke-width="0.35"/>
<rect x="733.5" y="239.5" width="37.5" height="6.5" stroke="#333" stroke-width="0.9" fill="none"/>
<rect x="741" y="239.5" width="23" height="6.5" stroke="#333" stroke-width="0.9" fill="#fff"/>
<line x1="741" y1="239.5" x2="764" y2="246" stroke="#3a3a3a" stroke-width="0.7"/>
<line x1="741" y1="246" x2="764" y2="239.5" stroke="#3a3a3a" stroke-width="0.7"/>
<rect x="784.5" y="239.5" width="161" height="6.5" fill="#f2f2f2"/>
<line x1="786.1" y1="239.5" x2="786.1" y2="246" stroke="#999" stroke-width="0.35"/>
<line x1="787.7" y1="239.5" x2="787.7" y2="246" stroke="#999" stroke-width="0.35"/>
<line x1="789.3" y1="239.5" x2="789.3" y2="246" stroke="#999" stroke-width="0.35"/>
<line x1="790.9" y1="239.5" x2="790.9" y2="246" stroke="#999" stroke-width="0.35"/>
<line x1="792.5" y1="239.5" x2="792.5" y2="246" stroke="#999" stroke-width="0.35"/>
<line x1="794.1" y1="239.5" x2="794.1" y2="246" stroke="#999" stroke-width="0.35"/>
<line x1="795.7" y1="239.5" x2="795.7" y2="246" stroke="#999" stroke-width="0.35"/>
<line x1="797.3" y1="239.5" x2="797.3" y2="246" stroke="#999" stroke-width="0.35"/>
<line x1="798.9" y1="239.5" x2="798.9" y2="246" stroke="#999" stroke-width="0.35"/>
<line x1="800.5" y1="239.5" x2="800.5" y2="246" stroke="#999" stroke-width="0.35"/>
<line x1="802.1" y1="239.5" x2="802.1" y2="246" stroke="#999" stroke-width="0.35"/>
<line x1="803.7" y1="239.5" x2="803.7" y2="246" stroke="#999" stroke-width="0.35"/>
<line x1="805.3" y1="239.5" x2="805.3" y2="246" stroke="#999" stroke-width="0.35"/>
<line x1="806.9" y1="239.5" x2="806.9" y2="246" stroke="#999" stroke-width="0.35"/>
<line x1="808.5" y1="239.5" x2="808.5" y2="246" stroke="#999" stroke-width="0.35"/>
<line x1="810.1" y1="239.5" x2="810.1" y2="246" stroke="#999" stroke-width="0.35"/>
<line x1="811.7" y1="239.5" x2="811.7" y2="246" stroke="#999" stroke-width="0.35"/>
<line x1="813.3" y1="239.5" x2="813.3" y2="246" stroke="#999" stroke-width="0.35"/>
<line x1="814.9" y1="239.5" x2="814.9" y2="246" stroke="#999" stroke-width="0.35"/>
<line x1="816.5" y1="239.5" x2="816.5" y2="246" stroke="#999" stroke-width="0.35"/>
<line x1="818.1" y1="239.5" x2="818.1" y2="246" stroke="#999" stroke-width="0.35"/>
<line x1="819.7" y1="239.5" x2="819.7" y2="246" stroke="#999" stroke-width="0.35"/>
<line x1="821.3" y1="239.5" x2="821.3" y2="246" stroke="#999" stroke-width="0.35"/>
<line x1="822.9" y1="239.5" x2="822.9" y2="246" stroke="#999" stroke-width="0.35"/>
<line x1="824.5" y1="239.5" x2="824.5" y2="246" stroke="#999" stroke-width="0.35"/>
<line x1="826.1" y1="239.5" x2="826.1" y2="246" stroke="#999" stroke-width="0.35"/>
<line x1="827.7" y1="239.5" x2="827.7" y2="246" stroke="#999" stroke-width="0.35"/>
<line x1="829.3" y1="239.5" x2="829.3" y2="246" stroke="#999" stroke-width="0.35"/>
<line x1="830.9" y1="239.5" x2="830.9" y2="246" stroke="#999" stroke-width="0.35"/>
<line x1="832.5" y1="239.5" x2="832.5" y2="246" stroke="#999" stroke-width="0.35"/>
<line x1="834.1" y1="239.5" x2="834.1" y2="246" stroke="#999" stroke-width="0.35"/>
<line x1="835.7" y1="239.5" x2="835.7" y2="246" stroke="#999" stroke-width="0.35"/>
<line x1="837.3" y1="239.5" x2="837.3" y2="246" stroke="#999" stroke-width="0.35"/>
<line x1="838.9" y1="239.5" x2="838.9" y2="246" stroke="#999" stroke-width="0.35"/>
<line x1="840.5" y1="239.5" x2="840.5" y2="246" stroke="#999" stroke-width="0.35"/>
<line x1="842.1" y1="239.5" x2="842.1" y2="246" stroke="#999" stroke-width="0.35"/>
<line x1="843.7" y1="239.5" x2="843.7" y2="246" stroke="#999" stroke-width="0.35"/>
<line x1="845.3" y1="239.5" x2="845.3" y2="246" stroke="#999" stroke-width="0.35"/>
<line x1="846.9" y1="239.5" x2="846.9" y2="246" stroke="#999" stroke-width="0.35"/>
<line x1="848.5" y1="239.5" x2="848.5" y2="246" stroke="#999" stroke-width="0.35"/>
<line x1="850.1" y1="239.5" x2="850.1" y2="246" stroke="#999" stroke-width="0.35"/>
<line x1="851.7" y1="239.5" x2="851.7" y2="246" stroke="#999" stroke-width="0.35"/>
<line x1="853.3" y1="239.5" x2="853.3" y2="246" stroke="#999" stroke-width="0.35"/>
<line x1="854.9" y1="239.5" x2="854.9" y2="246" stroke="#999" stroke-width="0.35"/>
<line x1="856.5" y1="239.5" x2="856.5" y2="246" stroke="#999" stroke-width="0.35"/>
<line x1="858.1" y1="239.5" x2="858.1" y2="246" stroke="#999" stroke-width="0.35"/>
<line x1="859.7" y1="239.5" x2="859.7" y2="246" stroke="#999" stroke-width="0.35"/>
<line x1="861.3" y1="239.5" x2="861.3" y2="246" stroke="#999" stroke-width="0.35"/>
<line x1="862.9" y1="239.5" x2="862.9" y2="246" stroke="#999" stroke-width="0.35"/>
<line x1="864.5" y1="239.5" x2="864.5" y2="246" stroke="#999" stroke-width="0.35"/>
<line x1="866.1" y1="239.5" x2="866.1" y2="246" stroke="#999" stroke-width="0.35"/>
<line x1="867.7" y1="239.5" x2="867.7" y2="246" stroke="#999" stroke-width="0.35"/>
<line x1="869.3" y1="239.5" x2="869.3" y2="246" stroke="#999" stroke-width="0.35"/>
<line x1="870.9" y1="239.5" x2="870.9" y2="246" stroke="#999" stroke-width="0.35"/>
<line x1="872.5" y1="239.5" x2="872.5" y2="246" stroke="#999" stroke-width="0.35"/>
<line x1="874.1" y1="239.5" x2="874.1" y2="246" stroke="#999" stroke-width="0.35"/>
<line x1="875.7" y1="239.5" x2="875.7" y2="246" stroke="#999" stroke-width="0.35"/>
<line x1="877.3" y1="239.5" x2="877.3" y2="246" stroke="#999" stroke-width="0.35"/>
<line x1="878.9" y1="239.5" x2="878.9" y2="246" stroke="#999" stroke-width="0.35"/>
<line x1="880.5" y1="239.5" x2="880.5" y2="246" stroke="#999" stroke-width="0.35"/>
<line x1="882.1" y1="239.5" x2="882.1" y2="246" stroke="#999" stroke-width="0.35"/>
<line x1="883.7" y1="239.5" x2="883.7" y2="246" stroke="#999" stroke-width="0.35"/>
<line x1="885.3" y1="239.5" x2="885.3" y2="246" stroke="#999" stroke-width="0.35"/>
<line x1="886.9" y1="239.5" x2="886.9" y2="246" stroke="#999" stroke-width="0.35"/>
<line x1="888.5" y1="239.5" x2="888.5" y2="246" stroke="#999" stroke-width="0.35"/>
<line x1="890.1" y1="239.5" x2="890.1" y2="246" stroke="#999" stroke-width="0.35"/>
<line x1="891.7" y1="239.5" x2="891.7" y2="246" stroke="#999" stroke-width="0.35"/>
<line x1="893.3" y1="239.5" x2="893.3" y2="246" stroke="#999" stroke-width="0.35"/>
<line x1="894.9" y1="239.5" x2="894.9" y2="246" stroke="#999" stroke-width="0.35"/>
<line x1="896.5" y1="239.5" x2="896.5" y2="246" stroke="#999" stroke-width="0.35"/>
<line x1="898.1" y1="239.5" x2="898.1" y2="246" stroke="#999" stroke-width="0.35"/>
<line x1="899.7" y1="239.5" x2="899.7" y2="246" stroke="#999" stroke-width="0.35"/>
<line x1="901.3" y1="239.5" x2="901.3" y2="246" stroke="#999" stroke-width="0.35"/>
<line x1="902.9" y1="239.5" x2="902.9" y2="246" stroke="#999" stroke-width="0.35"/>
<line x1="904.5" y1="239.5" x2="904.5" y2="246" stroke="#999" stroke-width="0.35"/>
<line x1="906.1" y1="239.5" x2="906.1" y2="246" stroke="#999" stroke-width="0.35"/>
<line x1="907.7" y1="239.5" x2="907.7" y2="246" stroke="#999" stroke-width="0.35"/>
<line x1="909.3" y1="239.5" x2="909.3" y2="246" stroke="#999" stroke-width="0.35"/>
<line x1="910.9" y1="239.5" x2="910.9" y2="246" stroke="#999" stroke-width="0.35"/>
<line x1="912.5" y1="239.5" x2="912.5" y2="246" stroke="#999" stroke-width="0.35"/>
<line x1="914.1" y1="239.5" x2="914.1" y2="246" stroke="#999" stroke-width="0.35"/>
<line x1="915.7" y1="239.5" x2="915.7" y2="246" stroke="#999" stroke-width="0.35"/>
<line x1="917.3" y1="239.5" x2="917.3" y2="246" stroke="#999" stroke-width="0.35"/>
<line x1="918.9" y1="239.5" x2="918.9" y2="246" stroke="#999" stroke-width="0.35"/>
<line x1="920.5" y1="239.5" x2="920.5" y2="246" stroke="#999" stroke-width="0.35"/>
<line x1="922.1" y1="239.5" x2="922.1" y2="246" stroke="#999" stroke-width="0.35"/>
<line x1="923.7" y1="239.5" x2="923.7" y2="246" stroke="#999" stroke-width="0.35"/>
<line x1="925.3" y1="239.5" x2="925.3" y2="246" stroke="#999" stroke-width="0.35"/>
<line x1="926.9" y1="239.5" x2="926.9" y2="246" stroke="#999" stroke-width="0.35"/>
<line x1="928.5" y1="239.5" x2="928.5" y2="246" stroke="#999" stroke-width="0.35"/>
<line x1="930.1" y1="239.5" x2="930.1" y2="246" stroke="#999" stroke-width="0.35"/>
<line x1="931.7" y1="239.5" x2="931.7" y2="246" stroke="#999" stroke-width="0.35"/>
<line x1="933.3" y1="239.5" x2="933.3" y2="246" stroke="#999" stroke-width="0.35"/>
<line x1="934.9" y1="239.5" x2="934.9" y2="246" stroke="#999" stroke-width="0.35"/>
<line x1="936.5" y1="239.5" x2="936.5" y2="246" stroke="#999" stroke-width="0.35"/>
<line x1="938.1" y1="239.5" x2="938.1" y2="246" stroke="#999" stroke-width="0.35"/>
<line x1="939.7" y1="239.5" x2="939.7" y2="246" stroke="#999" stroke-width="0.35"/>
<line x1="941.3" y1="239.5" x2="941.3" y2="246" stroke="#999" stroke-width="0.35"/>
<line x1="942.9" y1="239.5" x2="942.9" y2="246" stroke="#999" stroke-width="0.35"/>
<rect x="784.5" y="239.5" width="161" height="6.5" stroke="#333" stroke-width="0.9" fill="none"/>
<text x="845" y="244.8" font-size="4.2" fill="#222" stroke="#222" stroke-width="0.2" text-anchor="middle"><tspan x="845">TEMP. 16080 S.G.D.</tspan></text>
<rect x="958.5" y="239.5" width="57" height="6.5" fill="#e6e6e6"/>
<line x1="960.1" y1="239.5" x2="960.1" y2="246" stroke="#999" stroke-width="0.35"/>
<line x1="961.7" y1="239.5" x2="961.7" y2="246" stroke="#999" stroke-width="0.35"/>
<line x1="963.3" y1="239.5" x2="963.3" y2="246" stroke="#999" stroke-width="0.35"/>
<line x1="964.9" y1="239.5" x2="964.9" y2="246" stroke="#999" stroke-width="0.35"/>
<line x1="966.5" y1="239.5" x2="966.5" y2="246" stroke="#999" stroke-width="0.35"/>
<line x1="968.1" y1="239.5" x2="968.1" y2="246" stroke="#999" stroke-width="0.35"/>
<line x1="969.7" y1="239.5" x2="969.7" y2="246" stroke="#999" stroke-width="0.35"/>
<line x1="971.3" y1="239.5" x2="971.3" y2="246" stroke="#999" stroke-width="0.35"/>
<line x1="972.9" y1="239.5" x2="972.9" y2="246" stroke="#999" stroke-width="0.35"/>
<line x1="974.5" y1="239.5" x2="974.5" y2="246" stroke="#999" stroke-width="0.35"/>
<line x1="976.1" y1="239.5" x2="976.1" y2="246" stroke="#999" stroke-width="0.35"/>
<line x1="977.7" y1="239.5" x2="977.7" y2="246" stroke="#999" stroke-width="0.35"/>
<line x1="979.3" y1="239.5" x2="979.3" y2="246" stroke="#999" stroke-width="0.35"/>
<line x1="980.9" y1="239.5" x2="980.9" y2="246" stroke="#999" stroke-width="0.35"/>
<line x1="982.5" y1="239.5" x2="982.5" y2="246" stroke="#999" stroke-width="0.35"/>
<line x1="984.1" y1="239.5" x2="984.1" y2="246" stroke="#999" stroke-width="0.35"/>
<line x1="985.7" y1="239.5" x2="985.7" y2="246" stroke="#999" stroke-width="0.35"/>
<line x1="987.3" y1="239.5" x2="987.3" y2="246" stroke="#999" stroke-width="0.35"/>
<line x1="988.9" y1="239.5" x2="988.9" y2="246" stroke="#999" stroke-width="0.35"/>
<line x1="990.5" y1="239.5" x2="990.5" y2="246" stroke="#999" stroke-width="0.35"/>
<line x1="992.1" y1="239.5" x2="992.1" y2="246" stroke="#999" stroke-width="0.35"/>
<line x1="993.7" y1="239.5" x2="993.7" y2="246" stroke="#999" stroke-width="0.35"/>
<line x1="995.3" y1="239.5" x2="995.3" y2="246" stroke="#999" stroke-width="0.35"/>
<line x1="996.9" y1="239.5" x2="996.9" y2="246" stroke="#999" stroke-width="0.35"/>
<line x1="998.5" y1="239.5" x2="998.5" y2="246" stroke="#999" stroke-width="0.35"/>
<line x1="1000.1" y1="239.5" x2="1000.1" y2="246" stroke="#999" stroke-width="0.35"/>
<line x1="1001.7" y1="239.5" x2="1001.7" y2="246" stroke="#999" stroke-width="0.35"/>
<line x1="1003.3" y1="239.5" x2="1003.3" y2="246" stroke="#999" stroke-width="0.35"/>
<line x1="1004.9" y1="239.5" x2="1004.9" y2="246" stroke="#999" stroke-width="0.35"/>
<line x1="1006.5" y1="239.5" x2="1006.5" y2="246" stroke="#999" stroke-width="0.35"/>
<line x1="1008.1" y1="239.5" x2="1008.1" y2="246" stroke="#999" stroke-width="0.35"/>
<line x1="1009.7" y1="239.5" x2="1009.7" y2="246" stroke="#999" stroke-width="0.35"/>
<line x1="1011.3" y1="239.5" x2="1011.3" y2="246" stroke="#999" stroke-width="0.35"/>
<line x1="1012.9" y1="239.5" x2="1012.9" y2="246" stroke="#999" stroke-width="0.35"/>
<rect x="958.5" y="239.5" width="57" height="6.5" stroke="#333" stroke-width="0.9" fill="none"/>
<rect x="965" y="239.5" width="24" height="6.5" stroke="#333" stroke-width="0.9" fill="#fff"/>
<line x1="965" y1="239.5" x2="989" y2="246" stroke="#3a3a3a" stroke-width="0.7"/>
<line x1="965" y1="246" x2="989" y2="239.5" stroke="#3a3a3a" stroke-width="0.7"/>
<rect x="548.5" y="320.5" width="12.5" height="12.5" stroke="#222" stroke-width="1.1" fill="#fff"/>
<rect x="550.23" y="322.23" width="3.1" height="3.1" stroke="#1a1a1a" stroke-width="1.2" fill="none"/>
<rect x="550.23" y="328.17" width="3.1" height="3.1" stroke="#1a1a1a" stroke-width="1.2" fill="none"/>
<rect x="556.17" y="322.23" width="3.1" height="3.1" stroke="#1a1a1a" stroke-width="1.2" fill="none"/>
<rect x="556.17" y="328.17" width="3.1" height="3.1" stroke="#1a1a1a" stroke-width="1.2" fill="none"/>
<rect x="548.5" y="401" width="12.5" height="12.5" stroke="#222" stroke-width="1.1" fill="#fff"/>
<rect x="550.23" y="402.73" width="3.1" height="3.1" stroke="#1a1a1a" stroke-width="1.2" fill="none"/>
<rect x="550.23" y="408.67" width="3.1" height="3.1" stroke="#1a1a1a" stroke-width="1.2" fill="none"/>
<rect x="556.17" y="402.73" width="3.1" height="3.1" stroke="#1a1a1a" stroke-width="1.2" fill="none"/>
<rect x="556.17" y="408.67" width="3.1" height="3.1" stroke="#1a1a1a" stroke-width="1.2" fill="none"/>
<rect x="548.5" y="509.25" width="12.5" height="12.5" stroke="#222" stroke-width="1.1" fill="#fff"/>
<rect x="550.23" y="510.98" width="3.1" height="3.1" stroke="#1a1a1a" stroke-width="1.2" fill="none"/>
<rect x="550.23" y="516.92" width="3.1" height="3.1" stroke="#1a1a1a" stroke-width="1.2" fill="none"/>
<rect x="556.17" y="510.98" width="3.1" height="3.1" stroke="#1a1a1a" stroke-width="1.2" fill="none"/>
<rect x="556.17" y="516.92" width="3.1" height="3.1" stroke="#1a1a1a" stroke-width="1.2" fill="none"/>
<rect x="548.5" y="624.25" width="12.5" height="12.5" stroke="#222" stroke-width="1.1" fill="#fff"/>
<rect x="550.23" y="625.98" width="3.1" height="3.1" stroke="#1a1a1a" stroke-width="1.2" fill="none"/>
<rect x="550.23" y="631.92" width="3.1" height="3.1" stroke="#1a1a1a" stroke-width="1.2" fill="none"/>
<rect x="556.17" y="625.98" width="3.1" height="3.1" stroke="#1a1a1a" stroke-width="1.2" fill="none"/>
<rect x="556.17" y="631.92" width="3.1" height="3.1" stroke="#1a1a1a" stroke-width="1.2" fill="none"/>
<rect x="684.5" y="624.25" width="12.5" height="12.5" stroke="#222" stroke-width="1.1" fill="#fff"/>
<rect x="686.23" y="625.98" width="3.1" height="3.1" stroke="#1a1a1a" stroke-width="1.2" fill="none"/>
<rect x="686.23" y="631.92" width="3.1" height="3.1" stroke="#1a1a1a" stroke-width="1.2" fill="none"/>
<rect x="692.17" y="625.98" width="3.1" height="3.1" stroke="#1a1a1a" stroke-width="1.2" fill="none"/>
<rect x="692.17" y="631.92" width="3.1" height="3.1" stroke="#1a1a1a" stroke-width="1.2" fill="none"/>
<rect x="880.5" y="624.25" width="12.5" height="12.5" stroke="#222" stroke-width="1.1" fill="#fff"/>
<rect x="882.23" y="625.98" width="3.1" height="3.1" stroke="#1a1a1a" stroke-width="1.2" fill="none"/>
<rect x="882.23" y="631.92" width="3.1" height="3.1" stroke="#1a1a1a" stroke-width="1.2" fill="none"/>
<rect x="888.17" y="625.98" width="3.1" height="3.1" stroke="#1a1a1a" stroke-width="1.2" fill="none"/>
<rect x="888.17" y="631.92" width="3.1" height="3.1" stroke="#1a1a1a" stroke-width="1.2" fill="none"/>
<rect x="1015.75" y="624.25" width="12.5" height="12.5" stroke="#222" stroke-width="1.1" fill="#fff"/>
<rect x="1017.48" y="625.98" width="3.1" height="3.1" stroke="#1a1a1a" stroke-width="1.2" fill="none"/>
<rect x="1017.48" y="631.92" width="3.1" height="3.1" stroke="#1a1a1a" stroke-width="1.2" fill="none"/>
<rect x="1023.42" y="625.98" width="3.1" height="3.1" stroke="#1a1a1a" stroke-width="1.2" fill="none"/>
<rect x="1023.42" y="631.92" width="3.1" height="3.1" stroke="#1a1a1a" stroke-width="1.2" fill="none"/>
<rect x="1015.75" y="401" width="12.5" height="12.5" stroke="#222" stroke-width="1.1" fill="#fff"/>
<rect x="1017.48" y="402.73" width="3.1" height="3.1" stroke="#1a1a1a" stroke-width="1.2" fill="none"/>
<rect x="1017.48" y="408.67" width="3.1" height="3.1" stroke="#1a1a1a" stroke-width="1.2" fill="none"/>
<rect x="1023.42" y="402.73" width="3.1" height="3.1" stroke="#1a1a1a" stroke-width="1.2" fill="none"/>
<rect x="1023.42" y="408.67" width="3.1" height="3.1" stroke="#1a1a1a" stroke-width="1.2" fill="none"/>
<rect x="1015.75" y="485.5" width="12.5" height="12.5" stroke="#222" stroke-width="1.1" fill="#fff"/>
<rect x="1017.48" y="487.23" width="3.1" height="3.1" stroke="#1a1a1a" stroke-width="1.2" fill="none"/>
<rect x="1017.48" y="493.17" width="3.1" height="3.1" stroke="#1a1a1a" stroke-width="1.2" fill="none"/>
<rect x="1023.42" y="487.23" width="3.1" height="3.1" stroke="#1a1a1a" stroke-width="1.2" fill="none"/>
<rect x="1023.42" y="493.17" width="3.1" height="3.1" stroke="#1a1a1a" stroke-width="1.2" fill="none"/>
<rect x="1015.75" y="571.5" width="12.5" height="12.5" stroke="#222" stroke-width="1.1" fill="#fff"/>
<rect x="1017.48" y="573.23" width="3.1" height="3.1" stroke="#1a1a1a" stroke-width="1.2" fill="none"/>
<rect x="1017.48" y="579.17" width="3.1" height="3.1" stroke="#1a1a1a" stroke-width="1.2" fill="none"/>
<rect x="1023.42" y="573.23" width="3.1" height="3.1" stroke="#1a1a1a" stroke-width="1.2" fill="none"/>
<rect x="1023.42" y="579.17" width="3.1" height="3.1" stroke="#1a1a1a" stroke-width="1.2" fill="none"/>
<line x1="447.5" y1="400.75" x2="1099" y2="400.75" stroke="#555" stroke-width="0.8"/>
<line x1="664" y1="414.25" x2="739" y2="414.25" stroke="#555" stroke-width="0.7"/>
<line x1="664" y1="427" x2="739" y2="427" stroke="#555" stroke-width="0.7"/>
<line x1="883" y1="414.25" x2="1015" y2="414.25" stroke="#555" stroke-width="0.7"/>
<line x1="883" y1="427" x2="919" y2="427" stroke="#555" stroke-width="0.7"/>
<line x1="548" y1="378" x2="1021.5" y2="378" stroke="#444" stroke-width="0.8"/>
<circle cx="548" cy="378" r="0.9" fill="#333"/>
<circle cx="561.5" cy="378" r="0.9" fill="#333"/>
<circle cx="739" cy="378" r="0.9" fill="#333"/>
<circle cx="752" cy="378" r="0.9" fill="#333"/>
<circle cx="871" cy="378" r="0.9" fill="#333"/>
<circle cx="884" cy="378" r="0.9" fill="#333"/>
<circle cx="1015" cy="378" r="0.9" fill="#333"/>
<circle cx="1021.5" cy="378" r="0.9" fill="#333"/>
<text x="650.25" y="376.6" font-size="4.4" fill="#444" stroke="#444" stroke-width="0.2" text-anchor="middle"><tspan x="650.25">18'-0"</tspan></text>
<text x="745.5" y="376.6" font-size="4.4" fill="#444" stroke="#444" stroke-width="0.2" text-anchor="middle"><tspan x="745.5">1'-4"</tspan></text>
<text x="811.5" y="376.6" font-size="4.4" fill="#444" stroke="#444" stroke-width="0.2" text-anchor="middle"><tspan x="811.5">12'-0"</tspan></text>
<text x="877.5" y="376.6" font-size="4.4" fill="#444" stroke="#444" stroke-width="0.2" text-anchor="middle"><tspan x="877.5">1'-4"</tspan></text>
<text x="949.5" y="376.6" font-size="4.4" fill="#444" stroke="#444" stroke-width="0.2" text-anchor="middle"><tspan x="949.5">13'-4"</tspan></text>
<line x1="752" y1="385.5" x2="871" y2="385.5" stroke="#444" stroke-width="0.8"/>
<circle cx="752" cy="385.5" r="0.9" fill="#333"/>
<circle cx="772" cy="385.5" r="0.9" fill="#333"/>
<circle cx="805" cy="385.5" r="0.9" fill="#333"/>
<circle cx="871" cy="385.5" r="0.9" fill="#333"/>
<text x="762" y="384.1" font-size="4.4" fill="#444" stroke="#444" stroke-width="0.2" text-anchor="middle"><tspan x="762">2'-0"</tspan></text>
<text x="788.5" y="384.1" font-size="4.4" fill="#444" stroke="#444" stroke-width="0.2" text-anchor="middle"><tspan x="788.5">3'-4"</tspan></text>
<text x="838" y="384.1" font-size="4.4" fill="#444" stroke="#444" stroke-width="0.2" text-anchor="middle"><tspan x="838">6'-8"</tspan></text>
<line x1="739" y1="378" x2="739" y2="400.75" stroke="#555" stroke-width="0.7"/>
<line x1="752" y1="378" x2="752" y2="400.75" stroke="#555" stroke-width="0.7"/>
<line x1="871" y1="378" x2="871" y2="400.75" stroke="#555" stroke-width="0.7"/>
<line x1="884" y1="378" x2="884" y2="400.75" stroke="#555" stroke-width="0.7"/>
<line x1="772" y1="385.5" x2="772" y2="415" stroke="#555" stroke-width="0.7"/>
<line x1="805" y1="385.5" x2="805" y2="415" stroke="#555" stroke-width="0.7"/>
<line x1="664.25" y1="246" x2="664.25" y2="540" stroke="#444" stroke-width="0.8"/>
<text x="662.4" y="327" font-size="4.35" fill="#222" stroke="#222" stroke-width="0.2" text-anchor="middle" transform="rotate(-90 662.4 327)"><tspan x="662.4">15'-0"</tspan></text>
<line x1="919.25" y1="246" x2="919.25" y2="584" stroke="#444" stroke-width="0.8"/>
<text x="917.4" y="323" font-size="4.35" fill="#222" stroke="#222" stroke-width="0.2" text-anchor="middle" transform="rotate(-90 917.4 323)"><tspan x="917.4">15'-0"</tspan></text>
<line x1="697" y1="252.5" x2="697" y2="400.75" stroke="#888" stroke-width="0.7" stroke-dasharray="3,2"/>
<line x1="871" y1="246" x2="871" y2="400.75" stroke="#888" stroke-width="0.7" stroke-dasharray="3,2"/>
<line x1="555" y1="517.5" x2="1021" y2="517.5" stroke="#aaa" stroke-width="0.6" stroke-dasharray="3,2"/>
<line x1="556" y1="535.75" x2="1028" y2="535.75" stroke="#444" stroke-width="0.8"/>
<circle cx="561.5" cy="535.75" r="0.9" fill="#333"/>
<circle cx="664" cy="535.75" r="0.9" fill="#333"/>
<circle cx="690" cy="535.75" r="0.9" fill="#333"/>
<circle cx="752" cy="535.75" r="0.9" fill="#333"/>
<circle cx="877" cy="535.75" r="0.9" fill="#333"/>
<circle cx="1021.5" cy="535.75" r="0.9" fill="#333"/>
<text x="612.75" y="534.35" font-size="4.4" fill="#444" stroke="#444" stroke-width="0.2" text-anchor="middle"><tspan x="612.75">13'-0"</tspan></text>
<text x="721" y="534.35" font-size="4.4" fill="#444" stroke="#444" stroke-width="0.2" text-anchor="middle"><tspan x="721">6'-8"</tspan></text>
<text x="949.25" y="534.35" font-size="4.4" fill="#444" stroke="#444" stroke-width="0.2" text-anchor="middle"><tspan x="949.25">15'-4"</tspan></text>
<text x="797" y="533.8" font-size="4.35" fill="#222" stroke="#222" stroke-width="0.2" text-anchor="middle"><tspan x="797">12'-8"</tspan></text>
<line x1="548" y1="661.9" x2="1028.75" y2="661.9" stroke="#444" stroke-width="0.8"/>
<line x1="548" y1="668.1" x2="1028.75" y2="668.1" stroke="#444" stroke-width="0.8"/>
<line x1="548.5" y1="782.5" x2="1028.75" y2="782.5" stroke="#444" stroke-width="0.8"/>
<circle cx="548.5" cy="782.5" r="0.9" fill="#333"/>
<circle cx="678" cy="782.5" r="0.9" fill="#333"/>
<circle cx="898" cy="782.5" r="0.9" fill="#333"/>
<circle cx="1028.75" cy="782.5" r="0.9" fill="#333"/>
<text x="612" y="780.5" font-size="4.35" fill="#222" stroke="#222" stroke-width="0.2" text-anchor="middle"><tspan x="612">13'-2"</tspan></text>
<text x="612" y="787.5" font-size="4" fill="#222" stroke="#222" stroke-width="0.2" text-anchor="middle"><tspan x="612">(V.I.F.)</tspan></text>
<text x="788" y="780.5" font-size="4.35" fill="#222" stroke="#222" stroke-width="0.2" text-anchor="middle"><tspan x="788">22'-4"</tspan></text>
<text x="788" y="787.5" font-size="4" fill="#222" stroke="#222" stroke-width="0.2" text-anchor="middle"><tspan x="788">(V.I.F.)</tspan></text>
<text x="963" y="780.5" font-size="4.35" fill="#222" stroke="#222" stroke-width="0.2" text-anchor="middle"><tspan x="963">13'-2"</tspan></text>
<text x="963" y="787.5" font-size="4" fill="#222" stroke="#222" stroke-width="0.2" text-anchor="middle"><tspan x="963">(V.I.F.)</tspan></text>
<text x="616" y="82.3" font-size="4.35" fill="#222" stroke="#222" stroke-width="0.2" text-anchor="start"><tspan x="616">ALUM. STAIRS W/</tspan><tspan x="616" dy="5">OPEN RISERS</tspan></text>
<polyline points="614,80.5 606,80.5 596,130" stroke="#444" stroke-width="0.7" fill="none"/>
<circle cx="596" cy="130" r="0.8" fill="#333"/>
<text x="721" y="74.8" font-size="4.35" fill="#222" stroke="#222" stroke-width="0.2" text-anchor="start"><tspan x="721">INDICATES LINE OF</tspan><tspan x="721" dy="4.7">4" SLAB OVERHANG</tspan><tspan x="721" dy="4.7">ABOVE</tspan></text>
<polyline points="766,77.5 791,77.5 803,97.5" stroke="#444" stroke-width="0.7" fill="none"/>
<circle cx="803" cy="97.5" r="0.8" fill="#333"/>
<text x="863" y="74.6" font-size="4.35" fill="#222" stroke="#222" stroke-width="0.2" text-anchor="start"><tspan x="863">NOTE:</tspan><tspan x="863" dy="4.8">TIE BEAM TO</tspan><tspan x="863" dy="4.8">MATCH SECTION</tspan></text>
<polyline points="862,77 855,77 855,104" stroke="#444" stroke-width="0.7" fill="none"/>
<circle cx="855" cy="104" r="0.8" fill="#333"/>
<text x="1052" y="67.3" font-size="4.35" fill="#222" stroke="#222" stroke-width="0.2" text-anchor="start"><tspan x="1052">8"X16" CMU COLUMN</tspan><tspan x="1052" dy="4.6">REINFORCED W/ (4) #5</tspan><tspan x="1052" dy="4.6">BARS VERT. &amp; GROUTED</tspan><tspan x="1052" dy="4.6">SOLID W/ CONC. (TYP.)</tspan></text>
<polyline points="1049,65 1043,65 1027,101" stroke="#444" stroke-width="0.7" fill="none"/>
<circle cx="1027" cy="101" r="0.8" fill="#333"/>
<rect x="730.5" y="103.5" width="14.5" height="6.8" stroke="#444" stroke-width="0.7" fill="none"/>
<text x="737.75" y="109" font-size="4.2" fill="#444" stroke="#444" stroke-width="0.2" text-anchor="middle"><tspan x="737.75">BM-1</tspan></text>
<rect x="872" y="103.5" width="15" height="6.8" stroke="#444" stroke-width="0.7" fill="none"/>
<text x="879.5" y="109" font-size="4.2" fill="#444" stroke="#444" stroke-width="0.2" text-anchor="middle"><tspan x="879.5">BM-1</tspan></text>
<rect x="979.5" y="103.5" width="15" height="6.8" stroke="#444" stroke-width="0.7" fill="none"/>
<text x="987" y="109" font-size="4.2" fill="#444" stroke="#444" stroke-width="0.2" text-anchor="middle"><tspan x="987">BM-1</tspan></text>
<rect x="1000" y="168" width="15" height="6.8" stroke="#444" stroke-width="0.7" fill="none"/>
<text x="1007.5" y="173.5" font-size="4.2" fill="#444" stroke="#444" stroke-width="0.2" text-anchor="middle"><tspan x="1007.5">BM-1</tspan></text>
<rect x="727.5" y="161.5" width="15" height="6.8" stroke="#444" stroke-width="0.7" fill="none"/>
<text x="735" y="167" font-size="4.2" fill="#444" stroke="#444" stroke-width="0.2" text-anchor="middle"><tspan x="735">BM-1</tspan></text>
<text x="882" y="126.3" font-size="4.35" fill="#222" stroke="#222" stroke-width="0.2" text-anchor="start"><tspan x="882">10"X16" FRAMED</tspan><tspan x="882" dy="4.8">SOFFIT (TYP.)</tspan></text>
<polyline points="880,125 874,125 867,108" stroke="#444" stroke-width="0.7" fill="none"/>
<circle cx="867" cy="108" r="0.8" fill="#333"/>
<text x="837" y="143.3" font-size="4.35" fill="#222" stroke="#222" stroke-width="0.2" text-anchor="start"><tspan x="837">PAVERS BY POOL</tspan><tspan x="837" dy="4.8">CONTRACTOR</tspan></text>
<line x1="855" y1="161" x2="855" y2="200" stroke="#444" stroke-width="0.7"/>
<polyline points="853.3,165 855,161 856.7,165" stroke="#444" stroke-width="0.7" fill="none"/>
<text x="853.5" y="180" font-size="4.3" fill="#222" stroke="#222" stroke-width="0.2" text-anchor="middle" transform="rotate(-90 853.5 180)"><tspan x="853.5">SLOPE</tspan></text>
<text x="859.3" y="180" font-size="4.3" fill="#222" stroke="#222" stroke-width="0.2" text-anchor="middle" transform="rotate(-90 859.3 180)"><tspan x="859.3">1/8" PER FT.</tspan></text>
<path d="M886,186 Q886.88,183.07 887.17,186.12 Q888.6,183.42 888.3,186.46 Q890.23,184.09 889.33,187.01 Q891.69,185.07 890.24,187.76 Q892.93,186.31 890.99,188.67 Q893.91,187.77 891.54,189.7 Q894.58,189.4 891.88,190.83 Q894.93,191.12 892,192 Q895,196 892,200 Q894.93,200.88 891.88,201.17 Q894.58,202.6 891.54,202.3 Q893.91,204.23 890.99,203.33 Q892.93,205.69 890.24,204.24 Q891.69,206.93 889.33,204.99 Q890.23,207.91 888.3,205.54 Q888.6,208.58 887.17,205.88 Q886.88,208.93 886,206 Q881.62,209 877.25,206 Q872.88,209 868.5,206 Q864.12,209 859.75,206 Q855.38,209 851,206 Q850.12,208.93 849.83,205.88 Q848.4,208.58 848.7,205.54 Q846.77,207.91 847.67,204.99 Q845.31,206.93 846.76,204.24 Q844.07,205.69 846.01,203.33 Q843.09,204.23 845.46,202.3 Q842.42,202.6 845.12,201.17 Q842.07,200.88 845,200 Q842,196 845,192 Q842.07,191.12 845.12,190.83 Q842.42,189.4 845.46,189.7 Q843.09,187.77 846.01,188.67 Q844.07,186.31 846.76,187.76 Q845.31,185.07 847.67,187.01 Q846.77,184.09 848.7,186.46 Q848.4,183.42 849.83,186.12 Q850.12,183.07 851,186 Q855.38,183 859.75,186 Q864.12,183 868.5,186 Q872.88,183 877.25,186 Q881.62,183 886,186 Z" stroke="#444" stroke-width="0.8" fill="none"/>
<path d="M855,195.2 A2.8,2.8 0 0 1 857.8,198 L855,198 Z" fill="#222"/>
<path d="M855,200.8 A2.8,2.8 0 0 1 852.2,198 L855,198 Z" fill="#222"/>
<circle cx="855" cy="198" r="2.8" stroke="#222" stroke-width="0.7" fill="none"/>
<line x1="850.2" y1="198" x2="859.8" y2="198" stroke="#222" stroke-width="0.7"/>
<line x1="855" y1="193.2" x2="855" y2="202.8" stroke="#222" stroke-width="0.7"/>
<line x1="855" y1="198" x2="888" y2="198" stroke="#333" stroke-width="0.7"/>
<text x="859" y="196.8" font-size="4.6" fill="#333" stroke="#333" stroke-width="0.2" text-anchor="start"><tspan x="859">4.5' NAVD</tspan></text>
<polygon points="893,189.45 898.5,179.55 904,189.45" stroke="#333" stroke-width="0.8" fill="none"/>
<text x="898.5" y="187.85" font-size="4.2" fill="#333" stroke="#333" stroke-width="0.2" text-anchor="middle"><tspan x="898.5">B</tspan></text>
<rect x="508.75" y="148" width="13.25" height="6.5" stroke="#444" stroke-width="0.7" fill="#dcdcdc"/>
<text x="515.38" y="153.2" font-size="4.2" fill="#444" stroke="#444" stroke-width="0.2" text-anchor="middle"><tspan x="515.38">MH-3</tspan></text>
<polyline points="522,150.75 551,150.75" stroke="#444" stroke-width="0.7" fill="none"/>
<circle cx="551" cy="150.75" r="0.8" fill="#333"/>
<text x="504" y="162.6" font-size="5.6" fill="#333" stroke="#333" stroke-width="0.2" text-anchor="start"><tspan x="504">BOT. @ 1'-0"</tspan></text>
<rect x="562" y="120.6" width="117" height="59.4" stroke="#aaa" stroke-width="1.2" fill="none"/>
<line x1="565" y1="123" x2="565" y2="180" stroke="#999" stroke-width="0.8"/>
<line x1="565" y1="123" x2="679" y2="123" stroke="#999" stroke-width="0.8"/>
<line x1="604.4" y1="122" x2="604.4" y2="180" stroke="#888" stroke-width="0.7"/>
<line x1="612.75" y1="122" x2="612.75" y2="180" stroke="#888" stroke-width="0.7"/>
<line x1="621" y1="122" x2="621" y2="180" stroke="#888" stroke-width="0.7"/>
<line x1="629.4" y1="122" x2="629.4" y2="180" stroke="#888" stroke-width="0.7"/>
<line x1="637.5" y1="122" x2="637.5" y2="180" stroke="#888" stroke-width="0.7"/>
<line x1="645.6" y1="122" x2="645.6" y2="180" stroke="#888" stroke-width="0.7"/>
<line x1="653.75" y1="122" x2="653.75" y2="180" stroke="#888" stroke-width="0.7"/>
<line x1="661.9" y1="122" x2="661.9" y2="180" stroke="#888" stroke-width="0.7"/>
<line x1="670" y1="122" x2="670" y2="180" stroke="#888" stroke-width="0.7"/>
<line x1="678.75" y1="122" x2="678.75" y2="180" stroke="#888" stroke-width="0.7"/>
<rect x="592" y="137" width="87" height="26.75" stroke="#999" stroke-width="0.7" fill="none"/>
<rect x="601" y="148" width="47" height="6" stroke="#999" stroke-width="0.8" fill="none"/>
<line x1="601" y1="150.5" x2="679" y2="150.5" stroke="#aaa" stroke-width="0.6"/>
<text x="684" y="136" font-size="4" fill="#222" stroke="#222" stroke-width="0.2" text-anchor="middle" transform="rotate(-90 684 136)"><tspan x="684">UP</tspan></text>
<text x="622" y="156.3" font-size="4.35" fill="#222" stroke="#222" stroke-width="0.2" text-anchor="middle"><tspan x="622">10'-0"</tspan></text>
<line x1="548" y1="166" x2="690" y2="166" stroke="#444" stroke-width="0.8"/>
<circle cx="548" cy="166" r="0.9" fill="#333"/>
<circle cx="561.5" cy="166" r="0.9" fill="#333"/>
<circle cx="683.5" cy="166" r="0.9" fill="#333"/>
<text x="554.75" y="164.6" font-size="4.4" fill="#444" stroke="#444" stroke-width="0.2" text-anchor="middle"><tspan x="554.75">1'-4"</tspan></text>
<text x="622.5" y="164.6" font-size="4.4" fill="#444" stroke="#444" stroke-width="0.2" text-anchor="middle"><tspan x="622.5">±12'-4"</tspan></text>
<text x="690" y="164.3" font-size="4.35" fill="#222" stroke="#222" stroke-width="0.2" text-anchor="middle"><tspan x="690">1'-4"</tspan></text>
<line x1="561.5" y1="173.75" x2="622" y2="173.75" stroke="#444" stroke-width="0.8"/>
<circle cx="561.5" cy="173.75" r="0.9" fill="#333"/>
<circle cx="622" cy="173.75" r="0.9" fill="#333"/>
<text x="591.75" y="172.35" font-size="4.4" fill="#444" stroke="#444" stroke-width="0.2" text-anchor="middle"><tspan x="591.75">6'-2"</tspan></text>
<line x1="620" y1="167" x2="620" y2="180" stroke="#3a3a3a" stroke-width="0.7"/>
<polyline points="648,150 651,166 652,180" stroke="#333" stroke-width="1" fill="none"/>
<ellipse cx="650" cy="165" rx="3" ry="1.6" stroke="#333" stroke-width="0.8" fill="#fff"/>
<line x1="706" y1="114.5" x2="706" y2="180" stroke="#444" stroke-width="0.7"/>
<circle cx="706" cy="120" r="0.9" fill="#333"/>
<circle cx="706" cy="150" r="0.9" fill="#333"/>
<circle cx="706" cy="180" r="0.9" fill="#333"/>
<text x="703.8" y="136" font-size="4.35" fill="#222" stroke="#222" stroke-width="0.2" text-anchor="middle" transform="rotate(-90 703.8 136)"><tspan x="703.8">3'-0"</tspan></text>
<text x="703.8" y="167" font-size="4.35" fill="#222" stroke="#222" stroke-width="0.2" text-anchor="middle" transform="rotate(-90 703.8 167)"><tspan x="703.8">3'-0"</tspan></text>
<line x1="692" y1="150" x2="706" y2="150" stroke="#3a3a3a" stroke-width="0.7"/>
<line x1="704" y1="114.5" x2="730" y2="114.5" stroke="#3a3a3a" stroke-width="0.7"/>
<line x1="714.4" y1="101.25" x2="714.4" y2="239.5" stroke="#444" stroke-width="0.7"/>
<circle cx="714.4" cy="114.5" r="0.9" fill="#333"/>
<circle cx="714.4" cy="180" r="0.9" fill="#333"/>
<circle cx="714.4" cy="193" r="0.9" fill="#333"/>
<text x="712.4" y="107.5" font-size="4.35" fill="#222" stroke="#222" stroke-width="0.2" text-anchor="middle" transform="rotate(-90 712.4 107.5)"><tspan x="712.4">1'-4"</tspan></text>
<text x="712.4" y="147.5" font-size="4.35" fill="#222" stroke="#222" stroke-width="0.2" text-anchor="middle" transform="rotate(-90 712.4 147.5)"><tspan x="712.4">6'-8"</tspan></text>
<text x="712.4" y="187" font-size="4.35" fill="#222" stroke="#222" stroke-width="0.2" text-anchor="middle" transform="rotate(-90 712.4 187)"><tspan x="712.4">1'-4"</tspan></text>
<text x="712.4" y="222" font-size="4.35" fill="#222" stroke="#222" stroke-width="0.2" text-anchor="middle" transform="rotate(-90 712.4 222)"><tspan x="712.4">4'-8"</tspan></text>
<line x1="723.75" y1="101.25" x2="723.75" y2="211.6" stroke="#444" stroke-width="0.7"/>
<circle cx="723.75" cy="180" r="0.9" fill="#333"/>
<text x="721.8" y="141" font-size="4.35" fill="#222" stroke="#222" stroke-width="0.2" text-anchor="middle" transform="rotate(-90 721.8 141)"><tspan x="721.8">8'-0"</tspan></text>
<text x="721.8" y="193" font-size="4.35" fill="#222" stroke="#222" stroke-width="0.2" text-anchor="middle" transform="rotate(-90 721.8 193)"><tspan x="721.8">6'-0"</tspan></text>
<line x1="664.4" y1="193" x2="714.4" y2="193" stroke="#444" stroke-width="0.7"/>
<line x1="697" y1="180" x2="723" y2="180" stroke="#444" stroke-width="0.8"/>
<line x1="703" y1="114.5" x2="724" y2="114.5" stroke="#3a3a3a" stroke-width="0.7"/>
<line x1="686" y1="98" x2="686" y2="180" stroke="#aaa" stroke-width="0.6" stroke-dasharray="2,1.5"/>
<line x1="695" y1="120" x2="695" y2="180" stroke="#aaa" stroke-width="0.6" stroke-dasharray="2,1.5"/>
<polyline points="690,152 721,166.5 727.5,166.5" stroke="#444" stroke-width="0.7" fill="none"/>
<circle cx="690" cy="152" r="0.9" fill="#333"/>
<text x="533" y="184.3" font-size="3.8" fill="#666" stroke="#666" stroke-width="0.2" text-anchor="start"><tspan x="533">HB</tspan></text>
<circle cx="538" cy="186.5" r="1.5" stroke="#666" stroke-width="0.6" fill="none"/>
<polyline points="527,203.5 531,203.5 537,188" stroke="#444" stroke-width="0.7" fill="none"/>
<text x="501" y="199.2" font-size="4.35" fill="#555" stroke="#555" stroke-width="0.2" text-anchor="start"><tspan x="501">HOSE BIB W/</tspan><tspan x="501" dy="4.7">BACKFLOW</tspan><tspan x="501" dy="4.7">PREVENTER</tspan></text>
<text x="508" y="222.2" font-size="4.35" fill="#555" stroke="#555" stroke-width="0.2" text-anchor="start"><tspan x="508">POOL DECK &amp;</tspan><tspan x="508" dy="4.7">POOL EQUIP.</tspan><tspan x="508" dy="4.7">(V.I.F.)</tspan></text>
<rect x="550.1" y="214.45" width="3.6" height="3.6" stroke="#222" stroke-width="0.9" fill="none"/>
<rect x="689.5" y="193.5" width="6.5" height="46" fill="#e6e6e6"/>
<line x1="689.5" y1="195.1" x2="696" y2="195.1" stroke="#999" stroke-width="0.35"/>
<line x1="689.5" y1="196.7" x2="696" y2="196.7" stroke="#999" stroke-width="0.35"/>
<line x1="689.5" y1="198.3" x2="696" y2="198.3" stroke="#999" stroke-width="0.35"/>
<line x1="689.5" y1="199.9" x2="696" y2="199.9" stroke="#999" stroke-width="0.35"/>
<line x1="689.5" y1="201.5" x2="696" y2="201.5" stroke="#999" stroke-width="0.35"/>
<line x1="689.5" y1="203.1" x2="696" y2="203.1" stroke="#999" stroke-width="0.35"/>
<line x1="689.5" y1="204.7" x2="696" y2="204.7" stroke="#999" stroke-width="0.35"/>
<line x1="689.5" y1="206.3" x2="696" y2="206.3" stroke="#999" stroke-width="0.35"/>
<line x1="689.5" y1="207.9" x2="696" y2="207.9" stroke="#999" stroke-width="0.35"/>
<line x1="689.5" y1="209.5" x2="696" y2="209.5" stroke="#999" stroke-width="0.35"/>
<line x1="689.5" y1="211.1" x2="696" y2="211.1" stroke="#999" stroke-width="0.35"/>
<line x1="689.5" y1="212.7" x2="696" y2="212.7" stroke="#999" stroke-width="0.35"/>
<line x1="689.5" y1="214.3" x2="696" y2="214.3" stroke="#999" stroke-width="0.35"/>
<line x1="689.5" y1="215.9" x2="696" y2="215.9" stroke="#999" stroke-width="0.35"/>
<line x1="689.5" y1="217.5" x2="696" y2="217.5" stroke="#999" stroke-width="0.35"/>
<line x1="689.5" y1="219.1" x2="696" y2="219.1" stroke="#999" stroke-width="0.35"/>
<line x1="689.5" y1="220.7" x2="696" y2="220.7" stroke="#999" stroke-width="0.35"/>
<line x1="689.5" y1="222.3" x2="696" y2="222.3" stroke="#999" stroke-width="0.35"/>
<line x1="689.5" y1="223.9" x2="696" y2="223.9" stroke="#999" stroke-width="0.35"/>
<line x1="689.5" y1="225.5" x2="696" y2="225.5" stroke="#999" stroke-width="0.35"/>
<line x1="689.5" y1="227.1" x2="696" y2="227.1" stroke="#999" stroke-width="0.35"/>
<line x1="689.5" y1="228.7" x2="696" y2="228.7" stroke="#999" stroke-width="0.35"/>
<line x1="689.5" y1="230.3" x2="696" y2="230.3" stroke="#999" stroke-width="0.35"/>
<line x1="689.5" y1="231.9" x2="696" y2="231.9" stroke="#999" stroke-width="0.35"/>
<line x1="689.5" y1="233.5" x2="696" y2="233.5" stroke="#999" stroke-width="0.35"/>
<line x1="689.5" y1="235.1" x2="696" y2="235.1" stroke="#999" stroke-width="0.35"/>
<line x1="689.5" y1="236.7" x2="696" y2="236.7" stroke="#999" stroke-width="0.35"/>
<rect x="689.5" y="193.5" width="6.5" height="46" stroke="#333" stroke-width="0.9" fill="none"/>
<line x1="697" y1="193.5" x2="697" y2="239.5" stroke="#333" stroke-width="0.9"/>
<text x="584" y="196.3" font-size="4.35" fill="#222" stroke="#222" stroke-width="0.2" text-anchor="start"><tspan x="584">10"X8" SMART</tspan><tspan x="584" dy="4.8">FLOOD VENT</tspan></text>
<polyline points="609,195 614,195 618,187" stroke="#444" stroke-width="0.7" fill="none"/>
<rect x="620" y="190" width="5.8" height="6" stroke="#444" stroke-width="0.7" fill="none"/>
<text x="622.9" y="194.7" font-size="4.2" fill="#444" stroke="#444" stroke-width="0.2" text-anchor="middle"><tspan x="622.9">5</tspan></text>
<rect x="632.5" y="190" width="13.5" height="6" stroke="#444" stroke-width="0.7" fill="#dcdcdc"/>
<text x="639.25" y="194.7" font-size="4.2" fill="#444" stroke="#444" stroke-width="0.2" text-anchor="middle"><tspan x="639.25">MH-3</tspan></text>
<line x1="664.4" y1="193" x2="664.4" y2="246" stroke="#3a3a3a" stroke-width="0.7"/>
<circle cx="664.4" cy="239.5" r="0.9" fill="#333"/>
<circle cx="664.4" cy="252.5" r="0.9" fill="#333"/>
<text x="662.5" y="218" font-size="4.35" fill="#222" stroke="#222" stroke-width="0.2" text-anchor="middle" transform="rotate(-90 662.5 218)"><tspan x="662.5">4'-8"</tspan></text>
<text x="662.5" y="246" font-size="4.35" fill="#222" stroke="#222" stroke-width="0.2" text-anchor="middle" transform="rotate(-90 662.5 246)"><tspan x="662.5">1'-4"</tspan></text>
<line x1="664.4" y1="252.5" x2="683.5" y2="252.5" stroke="#3a3a3a" stroke-width="0.7"/>
<path d="M658,192 Q661,185 664,190" stroke="#444" stroke-width="0.7" fill="none"/>
<path d="M631.75,216 Q632.56,213.06 632.77,216.1 Q634.14,213.38 633.76,216.4 Q635.63,214 634.67,216.88 Q636.97,214.89 635.46,217.54 Q638.11,216.03 636.12,218.33 Q639,217.37 636.6,219.24 Q639.62,218.86 636.9,220.23 Q639.94,220.44 637,221.25 Q640,224.75 637,228.25 Q639.94,229.06 636.9,229.27 Q639.62,230.64 636.6,230.26 Q639,232.13 636.12,231.17 Q638.11,233.47 635.46,231.96 Q636.97,234.61 634.67,232.62 Q635.63,235.5 633.76,233.1 Q634.14,236.12 632.77,233.4 Q632.56,236.44 631.75,233.5 Q627.06,236.5 622.38,233.5 Q617.69,236.5 613,233.5 Q608.31,236.5 603.62,233.5 Q598.94,236.5 594.25,233.5 Q593.44,236.44 593.23,233.4 Q591.86,236.12 592.24,233.1 Q590.37,235.5 591.33,232.62 Q589.03,234.61 590.54,231.96 Q587.89,233.47 589.88,231.17 Q587,232.13 589.4,230.26 Q586.38,230.64 589.1,229.27 Q586.06,229.06 589,228.25 Q586,224.75 589,221.25 Q586.06,220.44 589.1,220.23 Q586.38,218.86 589.4,219.24 Q587,217.37 589.88,218.33 Q587.89,216.03 590.54,217.54 Q589.03,214.89 591.33,216.88 Q590.37,214 592.24,216.4 Q591.86,213.38 593.23,216.1 Q593.44,213.06 594.25,216 Q598.94,213 603.62,216 Q608.31,213 613,216 Q617.69,213 622.38,216 Q627.06,213 631.75,216 Z" stroke="#444" stroke-width="0.8" fill="none"/>
<path d="M600,222.7 A2.8,2.8 0 0 1 602.8,225.5 L600,225.5 Z" fill="#222"/>
<path d="M600,228.3 A2.8,2.8 0 0 1 597.2,225.5 L600,225.5 Z" fill="#222"/>
<circle cx="600" cy="225.5" r="2.8" stroke="#222" stroke-width="0.7" fill="none"/>
<line x1="595.2" y1="225.5" x2="604.8" y2="225.5" stroke="#222" stroke-width="0.7"/>
<line x1="600" y1="220.7" x2="600" y2="230.3" stroke="#222" stroke-width="0.7"/>
<line x1="600" y1="225.5" x2="633" y2="225.5" stroke="#333" stroke-width="0.7"/>
<text x="604" y="224.3" font-size="4.6" fill="#333" stroke="#333" stroke-width="0.2" text-anchor="start"><tspan x="604">4.64' NAVD</tspan></text>
<polygon points="635.75,216.95 641.25,207.05 646.75,216.95" stroke="#333" stroke-width="0.8" fill="none"/>
<text x="641.25" y="215.35" font-size="4.2" fill="#333" stroke="#333" stroke-width="0.2" text-anchor="middle"><tspan x="641.25">B</tspan></text>
<text x="650.5" y="237.3" font-size="4.2" fill="#222" stroke="#222" stroke-width="0.2" text-anchor="start"><tspan x="650.5">CJ</tspan></text>
<rect x="672.5" y="214" width="12" height="6" stroke="#444" stroke-width="0.7" fill="#dcdcdc"/>
<text x="678.5" y="218.7" font-size="4.2" fill="#444" stroke="#444" stroke-width="0.2" text-anchor="middle"><tspan x="678.5">MH-3</tspan></text>
<line x1="696" y1="211.6" x2="1015.5" y2="211.6" stroke="#444" stroke-width="0.8"/>
<circle cx="696" cy="211.6" r="0.9" fill="#333"/>
<circle cx="721.5" cy="211.6" r="0.9" fill="#333"/>
<circle cx="734.4" cy="211.6" r="0.9" fill="#333"/>
<circle cx="771" cy="211.6" r="0.9" fill="#333"/>
<circle cx="784.5" cy="211.6" r="0.9" fill="#333"/>
<text x="708.75" y="210.2" font-size="4.4" fill="#444" stroke="#444" stroke-width="0.2" text-anchor="middle"><tspan x="708.75">2'-6"</tspan></text>
<text x="727.95" y="210.2" font-size="4.4" fill="#444" stroke="#444" stroke-width="0.2" text-anchor="middle"><tspan x="727.95">1'-4"</tspan></text>
<text x="752.7" y="210.2" font-size="4.4" fill="#444" stroke="#444" stroke-width="0.2" text-anchor="middle"><tspan x="752.7">3'-9"</tspan></text>
<text x="777.75" y="210.2" font-size="4.4" fill="#444" stroke="#444" stroke-width="0.2" text-anchor="middle"><tspan x="777.75">1'-4"</tspan></text>
<circle cx="945.5" cy="211.6" r="0.9" fill="#333"/>
<circle cx="958.5" cy="211.6" r="0.9" fill="#333"/>
<circle cx="1015.5" cy="211.6" r="0.9" fill="#333"/>
<text x="865" y="210" font-size="4.35" fill="#222" stroke="#222" stroke-width="0.2" text-anchor="middle"><tspan x="865">10'-4"</tspan></text>
<text x="952" y="210" font-size="4.35" fill="#222" stroke="#222" stroke-width="0.2" text-anchor="middle"><tspan x="952">1'-4"</tspan></text>
<text x="987" y="210" font-size="4.35" fill="#222" stroke="#222" stroke-width="0.2" text-anchor="middle"><tspan x="987">5'-9"</tspan></text>
<text x="1022" y="210" font-size="4.35" fill="#222" stroke="#222" stroke-width="0.2" text-anchor="middle"><tspan x="1022">1'-4"</tspan></text>
<line x1="734.4" y1="219.4" x2="771" y2="219.4" stroke="#444" stroke-width="0.8"/>
<circle cx="734.4" cy="219.4" r="0.9" fill="#333"/>
<circle cx="752.5" cy="219.4" r="0.9" fill="#333"/>
<circle cx="771" cy="219.4" r="0.9" fill="#333"/>
<text x="743.45" y="218" font-size="4" fill="#444" stroke="#444" stroke-width="0.2" text-anchor="middle"><tspan x="743.45">1'-10 1/2"</tspan></text>
<text x="761.75" y="218" font-size="4" fill="#444" stroke="#444" stroke-width="0.2" text-anchor="middle"><tspan x="761.75">1'-10 1/2"</tspan></text>
<line x1="958.5" y1="219.4" x2="1015.5" y2="219.4" stroke="#444" stroke-width="0.8"/>
<circle cx="958.5" cy="219.4" r="0.9" fill="#333"/>
<circle cx="977" cy="219.4" r="0.9" fill="#333"/>
<circle cx="1015.5" cy="219.4" r="0.9" fill="#333"/>
<text x="967.75" y="218" font-size="4" fill="#444" stroke="#444" stroke-width="0.2" text-anchor="middle"><tspan x="967.75">1'-10 1/2"</tspan></text>
<text x="996.25" y="218" font-size="4" fill="#444" stroke="#444" stroke-width="0.2" text-anchor="middle"><tspan x="996.25">3'-10 1/2"</tspan></text>
<line x1="721.5" y1="211.6" x2="721.5" y2="239.5" stroke="#444" stroke-width="0.7"/>
<line x1="734.4" y1="211.6" x2="734.4" y2="239.5" stroke="#444" stroke-width="0.7"/>
<line x1="752.5" y1="219.4" x2="752.5" y2="239.5" stroke="#444" stroke-width="0.7"/>
<line x1="771" y1="211.6" x2="771" y2="239.5" stroke="#444" stroke-width="0.7"/>
<line x1="784.5" y1="211.6" x2="784.5" y2="239.5" stroke="#444" stroke-width="0.7"/>
<line x1="945.5" y1="211.6" x2="945.5" y2="239.5" stroke="#444" stroke-width="0.7"/>
<line x1="958.5" y1="211.6" x2="958.5" y2="239.5" stroke="#444" stroke-width="0.7"/>
<line x1="977" y1="219.4" x2="977" y2="239.5" stroke="#444" stroke-width="0.7"/>
<line x1="1015.5" y1="211.6" x2="1015.5" y2="239.5" stroke="#444" stroke-width="0.7"/>
<text x="915" y="229.5" font-size="4.4" fill="#222" stroke="#222" stroke-width="0.2" text-anchor="start"><tspan x="915">4" STEP</tspan></text>
<polyline points="914,228 910,228 910,239.5" stroke="#444" stroke-width="0.7" fill="none"/>
<rect x="701" y="251" width="13" height="5.8" stroke="#444" stroke-width="0.7" fill="#dcdcdc"/>
<text x="707.5" y="255.5" font-size="4.2" fill="#444" stroke="#444" stroke-width="0.2" text-anchor="middle"><tspan x="707.5">MH-3</tspan></text>
<rect x="746" y="251" width="12.5" height="5.8" stroke="#444" stroke-width="0.7" fill="#dcdcdc"/>
<text x="752.25" y="255.5" font-size="4.2" fill="#444" stroke="#444" stroke-width="0.2" text-anchor="middle"><tspan x="752.25">MH-3</tspan></text>
<text x="741" y="268.3" font-size="4.35" fill="#222" stroke="#222" stroke-width="0.2" text-anchor="start"><tspan x="741">INDICATES WINDOW</tspan><tspan x="741" dy="5">OPENING (TYP. U.N.O.)</tspan></text>
<polyline points="740,266.5 736,266.5 744,245.5" stroke="#444" stroke-width="0.7" fill="none"/>
<rect x="879" y="254" width="15" height="7" stroke="#444" stroke-width="0.7" fill="none"/>
<text x="886.5" y="259.7" font-size="4.2" fill="#444" stroke="#444" stroke-width="0.2" text-anchor="middle"><tspan x="886.5">BM-4</tspan></text>
<rect x="980" y="251" width="13" height="5.8" stroke="#444" stroke-width="0.7" fill="#dcdcdc"/>
<text x="986.5" y="255.5" font-size="4.2" fill="#444" stroke="#444" stroke-width="0.2" text-anchor="middle"><tspan x="986.5">MH-3</tspan></text>
<text x="833" y="257.2" font-size="4.35" fill="#222" stroke="#222" stroke-width="0.2" text-anchor="start"><tspan x="833">RECESS SLAB</tspan><tspan x="833" dy="5">FOR S.G.D.</tspan></text>
<polyline points="831,257 822,257 819,246" stroke="#444" stroke-width="0.7" fill="none"/>
<circle cx="819" cy="246" r="0.8" fill="#333"/>
<text x="965" y="266.3" font-size="4.35" fill="#222" stroke="#222" stroke-width="0.2" text-anchor="start"><tspan x="965">INDICATES WINDOW</tspan><tspan x="965" dy="5">OPENING (TYP. U.N.O.)</tspan></text>
<polyline points="963,266.5 960,266.5 969,246" stroke="#444" stroke-width="0.7" fill="none"/>
<circle cx="919.25" cy="246" r="0.9" fill="#333"/>
<text x="1050" y="201.3" font-size="4.35" fill="#555" stroke="#555" stroke-width="0.2" text-anchor="start"><tspan x="1050">NOTE:</tspan><tspan x="1050" dy="4.8">FUTURE OUTDOOR</tspan><tspan x="1050" dy="4.8">SHOWER LOCATION</tspan><tspan x="1050" dy="4.8">(V.I.F.)</tspan></text>
<polyline points="1048,205 1044,205 1030,240" stroke="#444" stroke-width="0.7" fill="none"/>
<text x="1051" y="225" font-size="4.35" fill="#555" stroke="#555" stroke-width="0.2" text-anchor="start"><tspan x="1051">HOSE BIB W/</tspan><tspan x="1051" dy="4.8">BACKFLOW</tspan><tspan x="1051" dy="4.8">PREVENTER</tspan></text>
<polyline points="1049,225 1044,225 1036,240" stroke="#444" stroke-width="0.7" fill="none"/>
<text x="1035" y="243.5" font-size="3.8" fill="#666" stroke="#666" stroke-width="0.2" text-anchor="start"><tspan x="1035">HB</tspan></text>
<text x="1054" y="257.5" font-size="4.35" fill="#555" stroke="#555" stroke-width="0.2" text-anchor="start"><tspan x="1054">GAS STUB</tspan><tspan x="1054" dy="4.8">(V.I.F.)</tspan></text>
<line x1="1030" y1="256.5" x2="1048" y2="256.5" stroke="#666" stroke-width="0.6"/>
<circle cx="1038" cy="256.5" r="1.4" stroke="#666" stroke-width="0.6" fill="none"/>
<rect x="1022.8" y="286.5" width="4" height="4" stroke="#222" stroke-width="0.9" fill="none"/>
<rect x="1022.8" y="293" width="4" height="4" stroke="#222" stroke-width="0.9" fill="none"/>
<rect x="549" y="258.75" width="6" height="13.75" fill="#9a9a9a"/>
<rect x="549" y="258.75" width="6" height="13.75" stroke="#333" stroke-width="0.8" fill="none"/>
<line x1="526" y1="252.5" x2="526" y2="266" stroke="#3a3a3a" stroke-width="0.7"/>
<circle cx="526" cy="252.5" r="0.9" fill="#333"/>
<circle cx="526" cy="266" r="0.9" fill="#333"/>
<line x1="526" y1="266" x2="548" y2="266" stroke="#3a3a3a" stroke-width="0.7"/>
<text x="524.2" y="259.3" font-size="4.35" fill="#222" stroke="#222" stroke-width="0.2" text-anchor="middle" transform="rotate(-90 524.2 259.3)"><tspan x="524.2">1'-4"</tspan></text>
<rect x="540" y="268" width="6" height="6" stroke="#444" stroke-width="0.7" fill="none"/>
<text x="543" y="272.7" font-size="4.2" fill="#444" stroke="#444" stroke-width="0.2" text-anchor="middle"><tspan x="543">4</tspan></text>
<text x="568" y="265.3" font-size="4.35" fill="#222" stroke="#222" stroke-width="0.2" text-anchor="start"><tspan x="568">10"X8" SMART</tspan><tspan x="568" dy="4.8">FLOOD VENT</tspan></text>
<line x1="555" y1="264.5" x2="566" y2="264.5" stroke="#3a3a3a" stroke-width="0.7"/>
<rect x="562" y="288" width="12" height="5.5" stroke="#444" stroke-width="0.7" fill="#dcdcdc"/>
<text x="568" y="292.2" font-size="4.2" fill="#444" stroke="#444" stroke-width="0.2" text-anchor="middle"><tspan x="568">MH-3</tspan></text>
<rect x="549" y="339" width="6" height="14" fill="#9a9a9a"/>
<rect x="549" y="339" width="6" height="14" stroke="#333" stroke-width="0.8" fill="none"/>
<line x1="526" y1="333.25" x2="526" y2="346.5" stroke="#3a3a3a" stroke-width="0.7"/>
<circle cx="526" cy="333.25" r="0.9" fill="#333"/>
<circle cx="526" cy="346.5" r="0.9" fill="#333"/>
<line x1="526" y1="346.5" x2="548" y2="346.5" stroke="#3a3a3a" stroke-width="0.7"/>
<text x="524.2" y="340" font-size="4.35" fill="#222" stroke="#222" stroke-width="0.2" text-anchor="middle" transform="rotate(-90 524.2 340)"><tspan x="524.2">1'-4"</tspan></text>
<rect x="540" y="348.5" width="6" height="6" stroke="#444" stroke-width="0.7" fill="none"/>
<text x="543" y="353.2" font-size="4.2" fill="#444" stroke="#444" stroke-width="0.2" text-anchor="middle"><tspan x="543">3</tspan></text>
<text x="570" y="345.3" font-size="4.35" fill="#222" stroke="#222" stroke-width="0.2" text-anchor="start"><tspan x="570">10"X8" SMART</tspan><tspan x="570" dy="4.8">FLOOD VENT</tspan></text>
<line x1="555" y1="344.5" x2="568" y2="344.5" stroke="#3a3a3a" stroke-width="0.7"/>
<rect x="562" y="360" width="12" height="5.5" stroke="#444" stroke-width="0.7" fill="#dcdcdc"/>
<text x="568" y="364.2" font-size="4.2" fill="#444" stroke="#444" stroke-width="0.2" text-anchor="middle"><tspan x="568">MH-3</tspan></text>
<text x="565" y="374" font-size="4.2" fill="#222" stroke="#222" stroke-width="0.2" text-anchor="start"><tspan x="565">1'-4"</tspan></text>
<text x="573" y="387.3" font-size="4.35" fill="#222" stroke="#222" stroke-width="0.2" text-anchor="start"><tspan x="573">INDICATES MASONRY</tspan><tspan x="573" dy="4.8">BREAKAWAY WALL (TYP.)</tspan></text>
<polyline points="571,387 565,387 556,374" stroke="#444" stroke-width="0.7" fill="none"/>
<rect x="549" y="420" width="6" height="13.75" fill="#9a9a9a"/>
<rect x="549" y="420" width="6" height="13.75" stroke="#333" stroke-width="0.8" fill="none"/>
<line x1="526" y1="414.5" x2="526" y2="427.5" stroke="#3a3a3a" stroke-width="0.7"/>
<circle cx="526" cy="414.5" r="0.9" fill="#333"/>
<circle cx="526" cy="427.5" r="0.9" fill="#333"/>
<line x1="526" y1="427.5" x2="548" y2="427.5" stroke="#3a3a3a" stroke-width="0.7"/>
<text x="524.2" y="421" font-size="4.35" fill="#222" stroke="#222" stroke-width="0.2" text-anchor="middle" transform="rotate(-90 524.2 421)"><tspan x="524.2">1'-4"</tspan></text>
<rect x="540" y="428" width="6" height="6" stroke="#444" stroke-width="0.7" fill="none"/>
<text x="543" y="432.7" font-size="4.2" fill="#444" stroke="#444" stroke-width="0.2" text-anchor="middle"><tspan x="543">2</tspan></text>
<text x="570" y="425.3" font-size="4.35" fill="#222" stroke="#222" stroke-width="0.2" text-anchor="start"><tspan x="570">10"X8" SMART</tspan><tspan x="570" dy="4.8">FLOOD VENT</tspan></text>
<line x1="555" y1="424.5" x2="568" y2="424.5" stroke="#3a3a3a" stroke-width="0.7"/>
<line x1="508.75" y1="440.5" x2="548" y2="440.5" stroke="#444" stroke-width="1" stroke-dasharray="2.5,1.5"/>
<line x1="508.75" y1="440.5" x2="508.75" y2="479.5" stroke="#444" stroke-width="1" stroke-dasharray="2.5,1.5"/>
<line x1="508.75" y1="479.5" x2="548" y2="479.5" stroke="#444" stroke-width="1" stroke-dasharray="2.5,1.5"/>
<text x="464" y="456.3" font-size="4.35" fill="#222" stroke="#222" stroke-width="0.2" text-anchor="start"><tspan x="464">PAVERS BY</tspan><tspan x="464" dy="4.8">DRIVEWAY</tspan><tspan x="464" dy="4.8">CONTRACTOR</tspan></text>
<polyline points="491,460 518,460" stroke="#444" stroke-width="0.7" fill="none"/>
<circle cx="518" cy="460" r="0.8" fill="#333"/>
<text x="538.5" y="460" font-size="4.2" fill="#222" stroke="#222" stroke-width="0.2" text-anchor="middle" transform="rotate(-90 538.5 460)"><tspan x="538.5">4" STEP</tspan></text>
<text x="553.5" y="459" font-size="4" fill="#222" stroke="#222" stroke-width="0.2" text-anchor="middle" transform="rotate(-90 553.5 459)"><tspan x="553.5">3080</tspan></text>
<text x="568" y="457.3" font-size="4.35" fill="#222" stroke="#222" stroke-width="0.2" text-anchor="start"><tspan x="568">RECESS</tspan><tspan x="568" dy="4.8">SLAB FOR</tspan><tspan x="568" dy="4.8">SERV. DR.</tspan></text>
<polyline points="566,456 560,456 555,450" stroke="#444" stroke-width="0.7" fill="none"/>
<rect x="563" y="471" width="12" height="5.5" stroke="#444" stroke-width="0.7" fill="#dcdcdc"/>
<text x="569" y="475.2" font-size="4.2" fill="#444" stroke="#444" stroke-width="0.2" text-anchor="middle"><tspan x="569">MH-3</tspan></text>
<text x="692" y="300" font-size="4.2" fill="#222" stroke="#222" stroke-width="0.2" text-anchor="start"><tspan x="692">CJ</tspan></text>
<text x="650" y="398" font-size="4.2" fill="#222" stroke="#222" stroke-width="0.2" text-anchor="start"><tspan x="650">CJ</tspan></text>
<text x="864" y="298" font-size="4.2" fill="#222" stroke="#222" stroke-width="0.2" text-anchor="start"><tspan x="864">CJ</tspan></text>
<text x="987" y="398" font-size="4.2" fill="#222" stroke="#222" stroke-width="0.2" text-anchor="start"><tspan x="987">CJ</tspan></text>
<polygon points="775,310.95 780.5,301.05 786,310.95" stroke="#333" stroke-width="0.8" fill="none"/>
<text x="780.5" y="309.35" font-size="4.2" fill="#333" stroke="#333" stroke-width="0.2" text-anchor="middle"><tspan x="780.5">B</tspan></text>
<polygon points="789,310.95 794.5,301.05 800,310.95" stroke="#333" stroke-width="0.8" fill="none"/>
<text x="794.5" y="309.35" font-size="4.2" fill="#333" stroke="#333" stroke-width="0.2" text-anchor="middle"><tspan x="794.5">C</tspan></text>
<path d="M768.8,309.5 Q769.68,306.57 769.97,309.62 Q771.4,306.92 771.1,309.96 Q773.03,307.59 772.13,310.51 Q774.49,308.57 773.04,311.26 Q775.73,309.81 773.79,312.17 Q776.71,311.27 774.34,313.2 Q777.38,312.9 774.68,314.33 Q777.73,314.62 774.8,315.5 Q777.8,320 774.8,324.5 Q777.73,325.38 774.68,325.67 Q777.38,327.1 774.34,326.8 Q776.71,328.73 773.79,327.83 Q775.73,330.19 773.04,328.74 Q774.49,331.43 772.13,329.49 Q773.03,332.41 771.1,330.04 Q771.4,333.08 769.97,330.38 Q769.68,333.43 768.8,330.5 Q764.05,333.5 759.3,330.5 Q754.55,333.5 749.8,330.5 Q745.05,333.5 740.3,330.5 Q739.42,333.43 739.13,330.38 Q737.7,333.08 738,330.04 Q736.07,332.41 736.97,329.49 Q734.61,331.43 736.06,328.74 Q733.37,330.19 735.31,327.83 Q732.39,328.73 734.76,326.8 Q731.72,327.1 734.42,325.67 Q731.37,325.38 734.3,324.5 Q731.3,320 734.3,315.5 Q731.37,314.62 734.42,314.33 Q731.72,312.9 734.76,313.2 Q732.39,311.27 735.31,312.17 Q733.37,309.81 736.06,311.26 Q734.61,308.57 736.97,310.51 Q736.07,307.59 738,309.96 Q737.7,306.92 739.13,309.62 Q739.42,306.57 740.3,309.5 Q745.05,306.5 749.8,309.5 Q754.55,306.5 759.3,309.5 Q764.05,306.5 768.8,309.5 Z" stroke="#444" stroke-width="0.8" fill="none"/>
<text x="741.5" y="321.5" font-size="4.35" fill="#222" stroke="#222" stroke-width="0.2" text-anchor="start"><tspan x="741.5">FOYER/GARAGE/SLAB</tspan><tspan x="741.5" dy="5.3">(4.64' NAVD)</tspan></text>
<path d="M731.3,325.8 A2.8,2.8 0 0 1 734.1,328.6 L731.3,328.6 Z" fill="#222"/>
<path d="M731.3,331.4 A2.8,2.8 0 0 1 728.5,328.6 L731.3,328.6 Z" fill="#222"/>
<circle cx="731.3" cy="328.6" r="2.8" stroke="#222" stroke-width="0.7" fill="none"/>
<line x1="726.5" y1="328.6" x2="736.1" y2="328.6" stroke="#222" stroke-width="0.7"/>
<line x1="731.3" y1="323.8" x2="731.3" y2="333.4" stroke="#222" stroke-width="0.7"/>
<line x1="727" y1="328.6" x2="831" y2="328.6" stroke="#3a3a3a" stroke-width="0.7"/>
<circle cx="739" cy="332" r="1.2" fill="#333"/>
<circle cx="739" cy="338.5" r="1.2" fill="#333"/>
<text x="742" y="333.3" font-size="4.6" fill="#222" stroke="#222" stroke-width="0.2" text-anchor="start"><tspan x="742">4" FIBERMESH CONC. SLAB - 2500 PSI</tspan></text>
<text x="742" y="339.6" font-size="4.6" fill="#222" stroke="#222" stroke-width="0.2" text-anchor="start"><tspan x="742">.006 POLY VAPOR BARRIER ON WELL</tspan><tspan x="742" dy="5">COMPACTED (2000 PSF) SOIL</tspan></text>
<path d="M646.2,401 Q646.96,398.06 647.14,401.09 Q648.46,398.36 648.04,401.37 Q649.87,398.94 648.87,401.81 Q651.13,399.79 649.59,402.41 Q652.21,400.87 650.19,403.13 Q653.06,402.13 650.63,403.96 Q653.64,403.54 650.91,404.86 Q653.94,405.04 651,405.8 Q654,409 651,412.2 Q653.94,412.96 650.91,413.14 Q653.64,414.46 650.63,414.04 Q653.06,415.87 650.19,414.87 Q652.21,417.13 649.59,415.59 Q651.13,418.21 648.87,416.19 Q649.87,419.06 648.04,416.63 Q648.46,419.64 647.14,416.91 Q646.96,419.94 646.2,417 Q642.47,420 638.73,417 Q635,420 631.27,417 Q627.53,420 623.8,417 Q623.04,419.94 622.86,416.91 Q621.54,419.64 621.96,416.63 Q620.13,419.06 621.13,416.19 Q618.87,418.21 620.41,415.59 Q617.79,417.13 619.81,414.87 Q616.94,415.87 619.37,414.04 Q616.36,414.46 619.09,413.14 Q616.06,412.96 619,412.2 Q616,409 619,405.8 Q616.06,405.04 619.09,404.86 Q616.36,403.54 619.37,403.96 Q616.94,402.13 619.81,403.13 Q617.79,400.87 620.41,402.41 Q618.87,399.79 621.13,401.81 Q620.13,398.94 621.96,401.37 Q621.54,398.36 622.86,401.09 Q623.04,398.06 623.8,401 Q627.53,398 631.27,401 Q635,398 638.73,401 Q642.47,398 646.2,401 Z" stroke="#444" stroke-width="0.8" fill="none"/>
<path d="M614,409.2 A2.8,2.8 0 0 1 616.8,412 L614,412 Z" fill="#222"/>
<path d="M614,414.8 A2.8,2.8 0 0 1 611.2,412 L614,412 Z" fill="#222"/>
<circle cx="614" cy="412" r="2.8" stroke="#222" stroke-width="0.7" fill="none"/>
<line x1="609.2" y1="412" x2="618.8" y2="412" stroke="#222" stroke-width="0.7"/>
<line x1="614" y1="407.2" x2="614" y2="416.8" stroke="#222" stroke-width="0.7"/>
<line x1="614" y1="412" x2="647" y2="412" stroke="#333" stroke-width="0.7"/>
<text x="618" y="410.8" font-size="4.6" fill="#333" stroke="#333" stroke-width="0.2" text-anchor="start"><tspan x="618">4.64' NAVD</tspan></text>
<polygon points="630,428.95 635.5,419.05 641,428.95" stroke="#333" stroke-width="0.8" fill="none"/>
<text x="635.5" y="427.35" font-size="4.2" fill="#333" stroke="#333" stroke-width="0.2" text-anchor="middle"><tspan x="635.5">B</tspan></text>
<line x1="615" y1="412" x2="615" y2="447" stroke="#3a3a3a" stroke-width="0.7"/>
<polyline points="613.3,443 615,447 616.7,443" stroke="#444" stroke-width="0.7" fill="none"/>
<text x="612.5" y="432" font-size="4.2" fill="#222" stroke="#222" stroke-width="0.2" text-anchor="middle" transform="rotate(-90 612.5 432)"><tspan x="612.5">SLOPE</tspan></text>
<text x="618.3" y="432" font-size="4.2" fill="#222" stroke="#222" stroke-width="0.2" text-anchor="middle" transform="rotate(-90 618.3 432)"><tspan x="618.3">1/8" PER FT.</tspan></text>
<path d="M696,402 Q696.88,399.07 697.17,402.12 Q698.6,399.42 698.3,402.46 Q700.23,400.09 699.33,403.01 Q701.69,401.07 700.24,403.76 Q702.93,402.31 700.99,404.67 Q703.91,403.77 701.54,405.7 Q704.58,405.4 701.88,406.83 Q704.93,407.12 702,408 Q705,411.5 702,415 Q705,418.5 702,422 Q704.93,422.88 701.88,423.17 Q704.58,424.6 701.54,424.3 Q703.91,426.23 700.99,425.33 Q702.93,427.69 700.24,426.24 Q701.69,428.93 699.33,426.99 Q700.23,429.91 698.3,427.54 Q698.6,430.58 697.17,427.88 Q696.88,430.93 696,428 Q691.83,431 687.67,428 Q683.5,431 679.33,428 Q675.17,431 671,428 Q670.12,430.93 669.83,427.88 Q668.4,430.58 668.7,427.54 Q666.77,429.91 667.67,426.99 Q665.31,428.93 666.76,426.24 Q664.07,427.69 666.01,425.33 Q663.09,426.23 665.46,424.3 Q662.42,424.6 665.12,423.17 Q662.07,422.88 665,422 Q662,418.5 665,415 Q662,411.5 665,408 Q662.07,407.12 665.12,406.83 Q662.42,405.4 665.46,405.7 Q663.09,403.77 666.01,404.67 Q664.07,402.31 666.76,403.76 Q665.31,401.07 667.67,403.01 Q666.77,400.09 668.7,402.46 Q668.4,399.42 669.83,402.12 Q670.12,399.07 671,402 Q675.17,399 679.33,402 Q683.5,399 687.67,402 Q691.83,399 696,402 Z" stroke="#444" stroke-width="0.8" fill="none"/>
<text x="671" y="408.3" font-size="4.35" fill="#222" stroke="#222" stroke-width="0.2" text-anchor="start"><tspan x="671">GIRDER</tspan><tspan x="671" dy="4.6">ABOVE</tspan><tspan x="671" dy="4.6">SEE TRUSS</tspan><tspan x="671" dy="4.6">PLAN</tspan></text>
<polygon points="674,441.95 679.5,432.05 685,441.95" stroke="#333" stroke-width="0.8" fill="none"/>
<text x="679.5" y="440.35" font-size="4.2" fill="#333" stroke="#333" stroke-width="0.2" text-anchor="middle"><tspan x="679.5">B</tspan></text>
<polyline points="690,409 704,409 746,440" stroke="#444" stroke-width="0.7" fill="none"/>
<text x="662.4" y="407" font-size="4" fill="#222" stroke="#222" stroke-width="0.2" text-anchor="middle" transform="rotate(-90 662.4 407)"><tspan x="662.4">1'-4"</tspan></text>
<text x="662.4" y="421" font-size="4" fill="#222" stroke="#222" stroke-width="0.2" text-anchor="middle" transform="rotate(-90 662.4 421)"><tspan x="662.4">1'-4"</tspan></text>
<text x="662.4" y="433" font-size="4" fill="#222" stroke="#222" stroke-width="0.2" text-anchor="middle" transform="rotate(-90 662.4 433)"><tspan x="662.4">2'-6"</tspan></text>
<rect x="739.5" y="401.25" width="12" height="12.5" stroke="#222" stroke-width="1.1" fill="#fff"/>
<rect x="741.09" y="402.98" width="3.1" height="3.1" stroke="#1a1a1a" stroke-width="1.2" fill="none"/>
<rect x="741.09" y="408.92" width="3.1" height="3.1" stroke="#1a1a1a" stroke-width="1.2" fill="none"/>
<rect x="746.81" y="402.98" width="3.1" height="3.1" stroke="#1a1a1a" stroke-width="1.2" fill="none"/>
<rect x="746.81" y="408.92" width="3.1" height="3.1" stroke="#1a1a1a" stroke-width="1.2" fill="none"/>
<rect x="740.5" y="415.7" width="3.6" height="3.6" stroke="#222" stroke-width="0.9" fill="none"/>
<rect x="747.2" y="415.7" width="3.6" height="3.6" stroke="#222" stroke-width="0.9" fill="none"/>
<rect x="747.2" y="422.2" width="3.6" height="3.6" stroke="#222" stroke-width="0.9" fill="none"/>
<rect x="871.5" y="401.25" width="12" height="12.5" stroke="#222" stroke-width="1.1" fill="#fff"/>
<rect x="873.09" y="402.98" width="3.1" height="3.1" stroke="#1a1a1a" stroke-width="1.2" fill="none"/>
<rect x="873.09" y="408.92" width="3.1" height="3.1" stroke="#1a1a1a" stroke-width="1.2" fill="none"/>
<rect x="878.81" y="402.98" width="3.1" height="3.1" stroke="#1a1a1a" stroke-width="1.2" fill="none"/>
<rect x="878.81" y="408.92" width="3.1" height="3.1" stroke="#1a1a1a" stroke-width="1.2" fill="none"/>
<rect x="872.5" y="415.7" width="3.6" height="3.6" stroke="#222" stroke-width="0.9" fill="none"/>
<rect x="878.7" y="415.7" width="3.6" height="3.6" stroke="#222" stroke-width="0.9" fill="none"/>
<rect x="872.5" y="422.2" width="3.6" height="3.6" stroke="#222" stroke-width="0.9" fill="none"/>
<rect x="752" y="415" width="20" height="7" fill="#e6e6e6"/>
<line x1="753.6" y1="415" x2="753.6" y2="422" stroke="#999" stroke-width="0.35"/>
<line x1="755.2" y1="415" x2="755.2" y2="422" stroke="#999" stroke-width="0.35"/>
<line x1="756.8" y1="415" x2="756.8" y2="422" stroke="#999" stroke-width="0.35"/>
<line x1="758.4" y1="415" x2="758.4" y2="422" stroke="#999" stroke-width="0.35"/>
<line x1="760" y1="415" x2="760" y2="422" stroke="#999" stroke-width="0.35"/>
<line x1="761.6" y1="415" x2="761.6" y2="422" stroke="#999" stroke-width="0.35"/>
<line x1="763.2" y1="415" x2="763.2" y2="422" stroke="#999" stroke-width="0.35"/>
<line x1="764.8" y1="415" x2="764.8" y2="422" stroke="#999" stroke-width="0.35"/>
<line x1="766.4" y1="415" x2="766.4" y2="422" stroke="#999" stroke-width="0.35"/>
<line x1="768" y1="415" x2="768" y2="422" stroke="#999" stroke-width="0.35"/>
<line x1="769.6" y1="415" x2="769.6" y2="422" stroke="#999" stroke-width="0.35"/>
<rect x="752" y="415" width="20" height="7" stroke="#333" stroke-width="0.9" fill="none"/>
<rect x="805" y="415" width="66" height="7" fill="#e6e6e6"/>
<line x1="806.6" y1="415" x2="806.6" y2="422" stroke="#999" stroke-width="0.35"/>
<line x1="808.2" y1="415" x2="808.2" y2="422" stroke="#999" stroke-width="0.35"/>
<line x1="809.8" y1="415" x2="809.8" y2="422" stroke="#999" stroke-width="0.35"/>
<line x1="811.4" y1="415" x2="811.4" y2="422" stroke="#999" stroke-width="0.35"/>
<line x1="813" y1="415" x2="813" y2="422" stroke="#999" stroke-width="0.35"/>
<line x1="814.6" y1="415" x2="814.6" y2="422" stroke="#999" stroke-width="0.35"/>
<line x1="816.2" y1="415" x2="816.2" y2="422" stroke="#999" stroke-width="0.35"/>
<line x1="817.8" y1="415" x2="817.8" y2="422" stroke="#999" stroke-width="0.35"/>
<line x1="819.4" y1="415" x2="819.4" y2="422" stroke="#999" stroke-width="0.35"/>
<line x1="821" y1="415" x2="821" y2="422" stroke="#999" stroke-width="0.35"/>
<line x1="822.6" y1="415" x2="822.6" y2="422" stroke="#999" stroke-width="0.35"/>
<line x1="824.2" y1="415" x2="824.2" y2="422" stroke="#999" stroke-width="0.35"/>
<line x1="825.8" y1="415" x2="825.8" y2="422" stroke="#999" stroke-width="0.35"/>
<line x1="827.4" y1="415" x2="827.4" y2="422" stroke="#999" stroke-width="0.35"/>
<line x1="829" y1="415" x2="829" y2="422" stroke="#999" stroke-width="0.35"/>
<line x1="830.6" y1="415" x2="830.6" y2="422" stroke="#999" stroke-width="0.35"/>
<line x1="832.2" y1="415" x2="832.2" y2="422" stroke="#999" stroke-width="0.35"/>
<line x1="833.8" y1="415" x2="833.8" y2="422" stroke="#999" stroke-width="0.35"/>
<line x1="835.4" y1="415" x2="835.4" y2="422" stroke="#999" stroke-width="0.35"/>
<line x1="837" y1="415" x2="837" y2="422" stroke="#999" stroke-width="0.35"/>
<line x1="838.6" y1="415" x2="838.6" y2="422" stroke="#999" stroke-width="0.35"/>
<line x1="840.2" y1="415" x2="840.2" y2="422" stroke="#999" stroke-width="0.35"/>
<line x1="841.8" y1="415" x2="841.8" y2="422" stroke="#999" stroke-width="0.35"/>
<line x1="843.4" y1="415" x2="843.4" y2="422" stroke="#999" stroke-width="0.35"/>
<line x1="845" y1="415" x2="845" y2="422" stroke="#999" stroke-width="0.35"/>
<line x1="846.6" y1="415" x2="846.6" y2="422" stroke="#999" stroke-width="0.35"/>
<line x1="848.2" y1="415" x2="848.2" y2="422" stroke="#999" stroke-width="0.35"/>
<line x1="849.8" y1="415" x2="849.8" y2="422" stroke="#999" stroke-width="0.35"/>
<line x1="851.4" y1="415" x2="851.4" y2="422" stroke="#999" stroke-width="0.35"/>
<line x1="853" y1="415" x2="853" y2="422" stroke="#999" stroke-width="0.35"/>
<line x1="854.6" y1="415" x2="854.6" y2="422" stroke="#999" stroke-width="0.35"/>
<line x1="856.2" y1="415" x2="856.2" y2="422" stroke="#999" stroke-width="0.35"/>
<line x1="857.8" y1="415" x2="857.8" y2="422" stroke="#999" stroke-width="0.35"/>
<line x1="859.4" y1="415" x2="859.4" y2="422" stroke="#999" stroke-width="0.35"/>
<line x1="861" y1="415" x2="861" y2="422" stroke="#999" stroke-width="0.35"/>
<line x1="862.6" y1="415" x2="862.6" y2="422" stroke="#999" stroke-width="0.35"/>
<line x1="864.2" y1="415" x2="864.2" y2="422" stroke="#999" stroke-width="0.35"/>
<line x1="865.8" y1="415" x2="865.8" y2="422" stroke="#999" stroke-width="0.35"/>
<line x1="867.4" y1="415" x2="867.4" y2="422" stroke="#999" stroke-width="0.35"/>
<line x1="869" y1="415" x2="869" y2="422" stroke="#999" stroke-width="0.35"/>
<rect x="805" y="415" width="66" height="7" stroke="#333" stroke-width="0.9" fill="none"/>
<text x="788.5" y="420.5" font-size="4.4" fill="#222" stroke="#222" stroke-width="0.2" text-anchor="middle"><tspan x="788.5">3080 SC</tspan></text>
<line x1="772" y1="422" x2="805" y2="422" stroke="#888" stroke-width="0.6" stroke-dasharray="2,1.5"/>
<rect x="746" y="428" width="6.5" height="10" fill="#e6e6e6"/>
<line x1="746" y1="429.6" x2="752.5" y2="429.6" stroke="#999" stroke-width="0.35"/>
<line x1="746" y1="431.2" x2="752.5" y2="431.2" stroke="#999" stroke-width="0.35"/>
<line x1="746" y1="432.8" x2="752.5" y2="432.8" stroke="#999" stroke-width="0.35"/>
<line x1="746" y1="434.4" x2="752.5" y2="434.4" stroke="#999" stroke-width="0.35"/>
<line x1="746" y1="436" x2="752.5" y2="436" stroke="#999" stroke-width="0.35"/>
<rect x="746" y="428" width="6.5" height="10" stroke="#333" stroke-width="0.9" fill="none"/>
<rect x="746.5" y="438" width="5.5" height="12" fill="#9a9a9a"/>
<rect x="746.5" y="438" width="5.5" height="12" stroke="#333" stroke-width="0.8" fill="none"/>
<rect x="746" y="450" width="6.5" height="10" fill="#e6e6e6"/>
<line x1="746" y1="451.6" x2="752.5" y2="451.6" stroke="#999" stroke-width="0.35"/>
<line x1="746" y1="453.2" x2="752.5" y2="453.2" stroke="#999" stroke-width="0.35"/>
<line x1="746" y1="454.8" x2="752.5" y2="454.8" stroke="#999" stroke-width="0.35"/>
<line x1="746" y1="456.4" x2="752.5" y2="456.4" stroke="#999" stroke-width="0.35"/>
<line x1="746" y1="458" x2="752.5" y2="458" stroke="#999" stroke-width="0.35"/>
<rect x="746" y="450" width="6.5" height="10" stroke="#333" stroke-width="0.9" fill="none"/>
<rect x="871" y="428" width="6.5" height="89.5" fill="#e6e6e6"/>
<line x1="871" y1="429.6" x2="877.5" y2="429.6" stroke="#999" stroke-width="0.35"/>
<line x1="871" y1="431.2" x2="877.5" y2="431.2" stroke="#999" stroke-width="0.35"/>
<line x1="871" y1="432.8" x2="877.5" y2="432.8" stroke="#999" stroke-width="0.35"/>
<line x1="871" y1="434.4" x2="877.5" y2="434.4" stroke="#999" stroke-width="0.35"/>
<line x1="871" y1="436" x2="877.5" y2="436" stroke="#999" stroke-width="0.35"/>
<line x1="871" y1="437.6" x2="877.5" y2="437.6" stroke="#999" stroke-width="0.35"/>
<line x1="871" y1="439.2" x2="877.5" y2="439.2" stroke="#999" stroke-width="0.35"/>
<line x1="871" y1="440.8" x2="877.5" y2="440.8" stroke="#999" stroke-width="0.35"/>
<line x1="871" y1="442.4" x2="877.5" y2="442.4" stroke="#999" stroke-width="0.35"/>
<line x1="871" y1="444" x2="877.5" y2="444" stroke="#999" stroke-width="0.35"/>
<line x1="871" y1="445.6" x2="877.5" y2="445.6" stroke="#999" stroke-width="0.35"/>
<line x1="871" y1="447.2" x2="877.5" y2="447.2" stroke="#999" stroke-width="0.35"/>
<line x1="871" y1="448.8" x2="877.5" y2="448.8" stroke="#999" stroke-width="0.35"/>
<line x1="871" y1="450.4" x2="877.5" y2="450.4" stroke="#999" stroke-width="0.35"/>
<line x1="871" y1="452" x2="877.5" y2="452" stroke="#999" stroke-width="0.35"/>
<line x1="871" y1="453.6" x2="877.5" y2="453.6" stroke="#999" stroke-width="0.35"/>
<line x1="871" y1="455.2" x2="877.5" y2="455.2" stroke="#999" stroke-width="0.35"/>
<line x1="871" y1="456.8" x2="877.5" y2="456.8" stroke="#999" stroke-width="0.35"/>
<line x1="871" y1="458.4" x2="877.5" y2="458.4" stroke="#999" stroke-width="0.35"/>
<line x1="871" y1="460" x2="877.5" y2="460" stroke="#999" stroke-width="0.35"/>
<line x1="871" y1="461.6" x2="877.5" y2="461.6" stroke="#999" stroke-width="0.35"/>
<line x1="871" y1="463.2" x2="877.5" y2="463.2" stroke="#999" stroke-width="0.35"/>
<line x1="871" y1="464.8" x2="877.5" y2="464.8" stroke="#999" stroke-width="0.35"/>
<line x1="871" y1="466.4" x2="877.5" y2="466.4" stroke="#999" stroke-width="0.35"/>
<line x1="871" y1="468" x2="877.5" y2="468" stroke="#999" stroke-width="0.35"/>
<line x1="871" y1="469.6" x2="877.5" y2="469.6" stroke="#999" stroke-width="0.35"/>
<line x1="871" y1="471.2" x2="877.5" y2="471.2" stroke="#999" stroke-width="0.35"/>
<line x1="871" y1="472.8" x2="877.5" y2="472.8" stroke="#999" stroke-width="0.35"/>
<line x1="871" y1="474.4" x2="877.5" y2="474.4" stroke="#999" stroke-width="0.35"/>
<line x1="871" y1="476" x2="877.5" y2="476" stroke="#999" stroke-width="0.35"/>
<line x1="871" y1="477.6" x2="877.5" y2="477.6" stroke="#999" stroke-width="0.35"/>
<line x1="871" y1="479.2" x2="877.5" y2="479.2" stroke="#999" stroke-width="0.35"/>
<line x1="871" y1="480.8" x2="877.5" y2="480.8" stroke="#999" stroke-width="0.35"/>
<line x1="871" y1="482.4" x2="877.5" y2="482.4" stroke="#999" stroke-width="0.35"/>
<line x1="871" y1="484" x2="877.5" y2="484" stroke="#999" stroke-width="0.35"/>
<line x1="871" y1="485.6" x2="877.5" y2="485.6" stroke="#999" stroke-width="0.35"/>
<line x1="871" y1="487.2" x2="877.5" y2="487.2" stroke="#999" stroke-width="0.35"/>
<line x1="871" y1="488.8" x2="877.5" y2="488.8" stroke="#999" stroke-width="0.35"/>
<line x1="871" y1="490.4" x2="877.5" y2="490.4" stroke="#999" stroke-width="0.35"/>
<line x1="871" y1="492" x2="877.5" y2="492" stroke="#999" stroke-width="0.35"/>
<line x1="871" y1="493.6" x2="877.5" y2="493.6" stroke="#999" stroke-width="0.35"/>
<line x1="871" y1="495.2" x2="877.5" y2="495.2" stroke="#999" stroke-width="0.35"/>
<line x1="871" y1="496.8" x2="877.5" y2="496.8" stroke="#999" stroke-width="0.35"/>
<line x1="871" y1="498.4" x2="877.5" y2="498.4" stroke="#999" stroke-width="0.35"/>
<line x1="871" y1="500" x2="877.5" y2="500" stroke="#999" stroke-width="0.35"/>
<line x1="871" y1="501.6" x2="877.5" y2="501.6" stroke="#999" stroke-width="0.35"/>
<line x1="871" y1="503.2" x2="877.5" y2="503.2" stroke="#999" stroke-width="0.35"/>
<line x1="871" y1="504.8" x2="877.5" y2="504.8" stroke="#999" stroke-width="0.35"/>
<line x1="871" y1="506.4" x2="877.5" y2="506.4" stroke="#999" stroke-width="0.35"/>
<line x1="871" y1="508" x2="877.5" y2="508" stroke="#999" stroke-width="0.35"/>
<line x1="871" y1="509.6" x2="877.5" y2="509.6" stroke="#999" stroke-width="0.35"/>
<line x1="871" y1="511.2" x2="877.5" y2="511.2" stroke="#999" stroke-width="0.35"/>
<line x1="871" y1="512.8" x2="877.5" y2="512.8" stroke="#999" stroke-width="0.35"/>
<line x1="871" y1="514.4" x2="877.5" y2="514.4" stroke="#999" stroke-width="0.35"/>
<rect x="871" y="428" width="6.5" height="89.5" stroke="#333" stroke-width="0.9" fill="none"/>
<rect x="754" y="435" width="5" height="6.5" stroke="#444" stroke-width="0.7" fill="none"/>
<text x="756.5" y="440.2" font-size="4.2" fill="#444" stroke="#444" stroke-width="0.2" text-anchor="middle"><tspan x="756.5">1</tspan></text>
<path d="M743,397 Q745.27,394.6 747.55,397 Q749.82,394.6 752.1,397 Q754.37,394.6 756.65,397 Q758.92,394.6 761.19,397 Q763.47,394.6 765.74,397 Q768.02,394.6 770.29,397 Q772.56,394.6 774.84,397 Q777.11,394.6 779.39,397 Q781.66,394.6 783.94,397 Q786.21,394.6 788.48,397 Q790.76,394.6 793.03,397 Q795.31,394.6 797.58,397 Q799.85,394.6 802.13,397 Q804.4,394.6 806.68,397 Q808.95,394.6 811.23,397 Q813.5,394.6 815.77,397 Q818.05,394.6 820.32,397 Q822.6,394.6 824.87,397 Q827.15,394.6 829.42,397 Q831.69,394.6 833.97,397 Q836.24,394.6 838.52,397 Q840.79,394.6 843.06,397 Q845.34,394.6 847.61,397 Q849.89,394.6 852.16,397 Q854.44,394.6 856.71,397 Q858.98,394.6 861.26,397 Q863.53,394.6 865.81,397 Q868.08,394.6 870.35,397 Q872.63,394.6 874.9,397 Q877.18,394.6 879.45,397 Q881.73,394.6 884,397 Q886.4,399.27 884,401.55 Q886.4,403.82 884,406.1 Q886.4,408.38 884,410.65 Q886.4,412.93 884,415.2 Q886.4,417.48 884,419.75 Q886.4,422.02 884,424.3 Q886.4,426.57 884,428.85 Q886.4,431.12 884,433.4 Q886.4,435.68 884,437.95 Q886.4,440.23 884,442.5 Q881.72,444.9 879.45,442.5 Q877.17,444.9 874.9,442.5 Q872.62,444.9 870.34,442.5 Q868.07,444.9 865.79,442.5 Q863.52,444.9 861.24,442.5 Q858.97,444.9 856.69,442.5 Q854.41,444.9 852.14,442.5 Q849.86,444.9 847.59,442.5 Q845.31,444.9 843.03,442.5 Q840.76,444.9 838.48,442.5 Q836.21,444.9 833.93,442.5 Q831.66,444.9 829.38,442.5 Q827.1,444.9 824.83,442.5 Q822.55,444.9 820.28,442.5 Q818,444.9 815.72,442.5 Q813.45,444.9 811.17,442.5 Q808.9,444.9 806.62,442.5 Q804.34,444.9 802.07,442.5 Q799.79,444.9 797.52,442.5 Q795.24,444.9 792.97,442.5 Q790.69,444.9 788.41,442.5 Q786.14,444.9 783.86,442.5 Q781.59,444.9 779.31,442.5 Q777.03,444.9 774.76,442.5 Q772.48,444.9 770.21,442.5 Q767.93,444.9 765.66,442.5 Q763.38,444.9 761.1,442.5 Q758.83,444.9 756.55,442.5 Q754.28,444.9 752,442.5" stroke="#444" stroke-width="0.8" fill="none"/>
<path d="M743,397 Q745.4,399.27 743,401.55 Q745.4,403.82 743,406.1 Q745.4,408.38 743,410.65 Q745.4,412.93 743,415.2 Q745.4,417.48 743,419.75 Q745.4,422.02 743,424.3 Q745.4,426.57 743,428.85 Q745.4,431.12 743,433.4 Q745.4,435.68 743,437.95 Q745.4,440.23 743,442.5 Q745.25,440.1 747.5,442.5 Q749.75,440.1 752,442.5" stroke="#444" stroke-width="0.8" fill="none"/>
<line x1="724" y1="414.25" x2="724" y2="440" stroke="#3a3a3a" stroke-width="0.7"/>
<circle cx="724" cy="414.25" r="0.9" fill="#333"/>
<circle cx="724" cy="440" r="0.9" fill="#333"/>
<line x1="724" y1="440" x2="746" y2="440" stroke="#3a3a3a" stroke-width="0.7"/>
<text x="722" y="427" font-size="4" fill="#222" stroke="#222" stroke-width="0.2" text-anchor="middle" transform="rotate(-90 722 427)"><tspan x="722">2'-6"</tspan></text>
<line x1="757" y1="402" x2="757" y2="414.25" stroke="#3a3a3a" stroke-width="0.7"/>
<text x="755" y="408" font-size="3.8" fill="#222" stroke="#222" stroke-width="0.2" text-anchor="middle" transform="rotate(-90 755 408)"><tspan x="755">1'-6"</tspan></text>
<line x1="860" y1="402" x2="860" y2="414.25" stroke="#3a3a3a" stroke-width="0.7"/>
<text x="858" y="408" font-size="3.8" fill="#222" stroke="#222" stroke-width="0.2" text-anchor="middle" transform="rotate(-90 858 408)"><tspan x="858">1'-6"</tspan></text>
<polygon points="809,455.95 814.5,446.05 820,455.95" stroke="#333" stroke-width="0.8" fill="none"/>
<text x="814.5" y="454.35" font-size="4.2" fill="#333" stroke="#333" stroke-width="0.2" text-anchor="middle"><tspan x="814.5">A</tspan></text>
<line x1="833" y1="430" x2="871" y2="430" stroke="#bbb" stroke-width="0.6" stroke-dasharray="2.5,2"/>
<line x1="833" y1="438.2" x2="871" y2="438.2" stroke="#bbb" stroke-width="0.6" stroke-dasharray="2.5,2"/>
<line x1="833" y1="446.4" x2="871" y2="446.4" stroke="#bbb" stroke-width="0.6" stroke-dasharray="2.5,2"/>
<line x1="833" y1="454.6" x2="871" y2="454.6" stroke="#bbb" stroke-width="0.6" stroke-dasharray="2.5,2"/>
<line x1="833" y1="462.8" x2="871" y2="462.8" stroke="#bbb" stroke-width="0.6" stroke-dasharray="2.5,2"/>
<line x1="833" y1="471" x2="871" y2="471" stroke="#bbb" stroke-width="0.6" stroke-dasharray="2.5,2"/>
<line x1="833" y1="479.2" x2="871" y2="479.2" stroke="#bbb" stroke-width="0.6" stroke-dasharray="2.5,2"/>
<line x1="833" y1="487.4" x2="871" y2="487.4" stroke="#bbb" stroke-width="0.6" stroke-dasharray="2.5,2"/>
<line x1="833" y1="495.6" x2="871" y2="495.6" stroke="#bbb" stroke-width="0.6" stroke-dasharray="2.5,2"/>
<line x1="833" y1="503.8" x2="871" y2="503.8" stroke="#bbb" stroke-width="0.6" stroke-dasharray="2.5,2"/>
<line x1="833" y1="512" x2="871" y2="512" stroke="#bbb" stroke-width="0.6" stroke-dasharray="2.5,2"/>
<line x1="833" y1="520.2" x2="871" y2="520.2" stroke="#bbb" stroke-width="0.6" stroke-dasharray="2.5,2"/>
<line x1="833" y1="528.4" x2="871" y2="528.4" stroke="#bbb" stroke-width="0.6" stroke-dasharray="2.5,2"/>
<line x1="833" y1="536.6" x2="871" y2="536.6" stroke="#bbb" stroke-width="0.6" stroke-dasharray="2.5,2"/>
<line x1="833" y1="544.8" x2="871" y2="544.8" stroke="#bbb" stroke-width="0.6" stroke-dasharray="2.5,2"/>
<line x1="833" y1="553" x2="871" y2="553" stroke="#bbb" stroke-width="0.6" stroke-dasharray="2.5,2"/>
<line x1="833" y1="561.2" x2="871" y2="561.2" stroke="#bbb" stroke-width="0.6" stroke-dasharray="2.5,2"/>
<line x1="833" y1="569.4" x2="871" y2="569.4" stroke="#bbb" stroke-width="0.6" stroke-dasharray="2.5,2"/>
<line x1="833" y1="577.6" x2="871" y2="577.6" stroke="#bbb" stroke-width="0.6" stroke-dasharray="2.5,2"/>
<line x1="828" y1="427" x2="828" y2="578" stroke="#bbb" stroke-width="0.6" stroke-dasharray="2.5,2"/>
<line x1="833" y1="427" x2="833" y2="578" stroke="#bbb" stroke-width="0.6" stroke-dasharray="2.5,2"/>
<line x1="751.75" y1="442" x2="751.75" y2="578" stroke="#aaa" stroke-width="0.6" stroke-dasharray="2.5,2"/>
<text x="768" y="455.3" font-size="4.35" fill="#222" stroke="#222" stroke-width="0.2" text-anchor="start"><tspan x="768">10"X16" SMART</tspan><tspan x="768" dy="4.8">FLOOD VENT</tspan></text>
<polyline points="766,457 761,457 752,446" stroke="#444" stroke-width="0.7" fill="none"/>
<text x="977" y="325.3" font-size="4.35" fill="#222" stroke="#222" stroke-width="0.2" text-anchor="start"><tspan x="977">10"X8" SMART</tspan><tspan x="977" dy="4.8">FLOOD VENT</tspan></text>
<polyline points="1004,330 1012,330 1021,340" stroke="#444" stroke-width="0.7" fill="none"/>
<rect x="1022" y="338" width="5.5" height="12" fill="#9a9a9a"/>
<rect x="1022" y="338" width="5.5" height="12" stroke="#333" stroke-width="0.8" fill="none"/>
<rect x="1032" y="347" width="5.5" height="6" stroke="#444" stroke-width="0.7" fill="none"/>
<text x="1034.75" y="351.7" font-size="4.2" fill="#444" stroke="#444" stroke-width="0.2" text-anchor="middle"><tspan x="1034.75">6</tspan></text>
<text x="942" y="351.3" font-size="4.35" fill="#222" stroke="#222" stroke-width="0.2" text-anchor="start"><tspan x="942">INDICATES MASONRY</tspan><tspan x="942" dy="4.8">BREAKAWAY WALL (TYP.)</tspan></text>
<polyline points="995,353 1008,353 1023,367" stroke="#444" stroke-width="0.7" fill="none"/>
<rect x="1034" y="363" width="12" height="6" stroke="#444" stroke-width="0.7" fill="#dcdcdc"/>
<text x="1040" y="367.7" font-size="4.2" fill="#444" stroke="#444" stroke-width="0.2" text-anchor="middle"><tspan x="1040">MH-3</tspan></text>
<text x="1010" y="371.5" font-size="4.2" fill="#222" stroke="#222" stroke-width="0.2" text-anchor="start"><tspan x="1010">1'-4"</tspan></text>
<path d="M850,349 Q850.88,346.07 851.17,349.12 Q852.6,346.42 852.3,349.46 Q854.23,347.09 853.33,350.01 Q855.69,348.07 854.24,350.76 Q856.93,349.31 854.99,351.67 Q857.91,350.77 855.54,352.7 Q858.58,352.4 855.88,353.83 Q858.93,354.12 856,355 Q859,359.25 856,363.5 Q859,367.75 856,372 Q858.93,372.88 855.88,373.17 Q858.58,374.6 855.54,374.3 Q857.91,376.23 854.99,375.33 Q856.93,377.69 854.24,376.24 Q855.69,378.93 853.33,376.99 Q854.23,379.91 852.3,377.54 Q852.6,380.58 851.17,377.88 Q850.88,380.93 850,378 Q846.17,381 842.33,378 Q838.5,381 834.67,378 Q830.83,381 827,378 Q826.12,380.93 825.83,377.88 Q824.4,380.58 824.7,377.54 Q822.77,379.91 823.67,376.99 Q821.31,378.93 822.76,376.24 Q820.07,377.69 822.01,375.33 Q819.09,376.23 821.46,374.3 Q818.42,374.6 821.12,373.17 Q818.07,372.88 821,372 Q818,367.75 821,363.5 Q818,359.25 821,355 Q818.07,354.12 821.12,353.83 Q818.42,352.4 821.46,352.7 Q819.09,350.77 822.01,351.67 Q820.07,349.31 822.76,350.76 Q821.31,348.07 823.67,350.01 Q822.77,347.09 824.7,349.46 Q824.4,346.42 825.83,349.12 Q826.12,346.07 827,349 Q830.83,346 834.67,349 Q838.5,346 842.33,349 Q846.17,346 850,349 Z" stroke="#444" stroke-width="0.8" fill="none"/>
<text x="829" y="357.3" font-size="4.35" fill="#222" stroke="#222" stroke-width="0.2" text-anchor="start"><tspan x="829">GIRDER</tspan><tspan x="829" dy="4.6">ABOVE</tspan><tspan x="829" dy="4.6">SEE TRUSS</tspan><tspan x="829" dy="4.6">PLAN</tspan></text>
<polygon points="860.5,370.95 866,361.05 871.5,370.95" stroke="#333" stroke-width="0.8" fill="none"/>
<text x="866" y="369.35" font-size="4.2" fill="#333" stroke="#333" stroke-width="0.2" text-anchor="middle"><tspan x="866">B</tspan></text>
<polyline points="827,357 818,357 825,420" stroke="#444" stroke-width="0.7" fill="none"/>
<path d="M972.2,401 Q972.96,398.06 973.14,401.09 Q974.46,398.36 974.04,401.37 Q975.87,398.94 974.87,401.81 Q977.13,399.79 975.59,402.41 Q978.21,400.87 976.19,403.13 Q979.06,402.13 976.63,403.96 Q979.64,403.54 976.91,404.86 Q979.94,405.04 977,405.8 Q980,409 977,412.2 Q979.94,412.96 976.91,413.14 Q979.64,414.46 976.63,414.04 Q979.06,415.87 976.19,414.87 Q978.21,417.13 975.59,415.59 Q977.13,418.21 974.87,416.19 Q975.87,419.06 974.04,416.63 Q974.46,419.64 973.14,416.91 Q972.96,419.94 972.2,417 Q968.47,420 964.73,417 Q961,420 957.27,417 Q953.53,420 949.8,417 Q949.04,419.94 948.86,416.91 Q947.54,419.64 947.96,416.63 Q946.13,419.06 947.13,416.19 Q944.87,418.21 946.41,415.59 Q943.79,417.13 945.81,414.87 Q942.94,415.87 945.37,414.04 Q942.36,414.46 945.09,413.14 Q942.06,412.96 945,412.2 Q942,409 945,405.8 Q942.06,405.04 945.09,404.86 Q942.36,403.54 945.37,403.96 Q942.94,402.13 945.81,403.13 Q943.79,400.87 946.41,402.41 Q944.87,399.79 947.13,401.81 Q946.13,398.94 947.96,401.37 Q947.54,398.36 948.86,401.09 Q949.04,398.06 949.8,401 Q953.53,398 957.27,401 Q961,398 964.73,401 Q968.47,398 972.2,401 Z" stroke="#444" stroke-width="0.8" fill="none"/>
<path d="M942,409.2 A2.8,2.8 0 0 1 944.8,412 L942,412 Z" fill="#222"/>
<path d="M942,414.8 A2.8,2.8 0 0 1 939.2,412 L942,412 Z" fill="#222"/>
<circle cx="942" cy="412" r="2.8" stroke="#222" stroke-width="0.7" fill="none"/>
<line x1="937.2" y1="412" x2="946.8" y2="412" stroke="#222" stroke-width="0.7"/>
<line x1="942" y1="407.2" x2="942" y2="416.8" stroke="#222" stroke-width="0.7"/>
<line x1="942" y1="412" x2="973" y2="412" stroke="#333" stroke-width="0.7"/>
<text x="946" y="410.8" font-size="4.6" fill="#333" stroke="#333" stroke-width="0.2" text-anchor="start"><tspan x="946">4.64' NAVD</tspan></text>
<polygon points="958.5,429.45 964,419.55 969.5,429.45" stroke="#333" stroke-width="0.8" fill="none"/>
<text x="964" y="427.85" font-size="4.2" fill="#333" stroke="#333" stroke-width="0.2" text-anchor="middle"><tspan x="964">B</tspan></text>
<line x1="942" y1="412" x2="942" y2="448" stroke="#3a3a3a" stroke-width="0.7"/>
<polyline points="940.3,444 942,448 943.7,444" stroke="#444" stroke-width="0.7" fill="none"/>
<text x="939.5" y="432" font-size="4.2" fill="#222" stroke="#222" stroke-width="0.2" text-anchor="middle" transform="rotate(-90 939.5 432)"><tspan x="939.5">SLOPE</tspan></text>
<text x="945.3" y="432" font-size="4.2" fill="#222" stroke="#222" stroke-width="0.2" text-anchor="middle" transform="rotate(-90 945.3 432)"><tspan x="945.3">1/8" PER FT.</tspan></text>
<text x="917.4" y="407" font-size="4" fill="#222" stroke="#222" stroke-width="0.2" text-anchor="middle" transform="rotate(-90 917.4 407)"><tspan x="917.4">1'-4"</tspan></text>
<text x="917.4" y="421" font-size="4" fill="#222" stroke="#222" stroke-width="0.2" text-anchor="middle" transform="rotate(-90 917.4 421)"><tspan x="917.4">1'-4"</tspan></text>
<rect x="1005" y="439" width="12" height="5.5" stroke="#444" stroke-width="0.7" fill="#dcdcdc"/>
<text x="1011" y="443.2" font-size="4.2" fill="#444" stroke="#444" stroke-width="0.2" text-anchor="middle"><tspan x="1011">MH-3</tspan></text>
<line x1="1031" y1="430" x2="1067" y2="430" stroke="#444" stroke-width="1" stroke-dasharray="2.5,1.5"/>
<line x1="1067" y1="430" x2="1067" y2="469" stroke="#444" stroke-width="1" stroke-dasharray="2.5,1.5"/>
<line x1="1031" y1="469" x2="1067" y2="469" stroke="#444" stroke-width="1" stroke-dasharray="2.5,1.5"/>
<text x="1026.5" y="447" font-size="4" fill="#222" stroke="#222" stroke-width="0.2" text-anchor="middle" transform="rotate(-90 1026.5 447)"><tspan x="1026.5">3080</tspan></text>
<text x="1037.5" y="449" font-size="4.2" fill="#222" stroke="#222" stroke-width="0.2" text-anchor="middle" transform="rotate(-90 1037.5 449)"><tspan x="1037.5">4" STEP</tspan></text>
<text x="989" y="454.3" font-size="4.35" fill="#222" stroke="#222" stroke-width="0.2" text-anchor="start"><tspan x="989">RECESS</tspan><tspan x="989" dy="4.8">SLAB FOR</tspan><tspan x="989" dy="4.8">SERV. DR.</tspan></text>
<polyline points="1010,461 1018,461 1021,457" stroke="#444" stroke-width="0.7" fill="none"/>
<text x="1035" y="475.3" font-size="4.35" fill="#222" stroke="#222" stroke-width="0.2" text-anchor="start"><tspan x="1035">PAVERS BY</tspan><tspan x="1035" dy="4.8">DRIVEWAY</tspan><tspan x="1035" dy="4.8">CONTRACTOR</tspan></text>
<polyline points="1065,478 1057,460" stroke="#444" stroke-width="0.7" fill="none"/>
<circle cx="1057" cy="460" r="0.8" fill="#333"/>
<path d="M496,503 Q499.93,500.6 503.86,503 Q507.79,500.6 511.71,503 Q515.64,500.6 519.57,503 Q523.5,500.6 527.43,503 Q531.36,500.6 535.29,503 Q539.21,500.6 543.14,503 Q547.07,500.6 551,503 Q553.4,506.88 551,510.75 Q553.4,514.62 551,518.5 Q553.4,522.38 551,526.25 Q553.4,530.12 551,534 Q553.4,537.88 551,541.75 Q553.4,545.62 551,549.5 Q553.4,553.38 551,557.25 Q553.4,561.12 551,565 Q553.4,568.88 551,572.75 Q553.4,576.62 551,580.5 Q553.4,584.38 551,588.25 Q553.4,592.12 551,596 Q553.4,599.88 551,603.75 Q553.4,607.62 551,611.5 Q553.4,615.38 551,619.25 Q553.4,623.12 551,627 Q547.07,629.4 543.14,627 Q539.21,629.4 535.29,627 Q531.36,629.4 527.43,627 Q523.5,629.4 519.57,627 Q515.64,629.4 511.71,627 Q507.79,629.4 503.86,627 Q499.93,629.4 496,627 Q493.6,623.12 496,619.25 Q493.6,615.38 496,611.5 Q493.6,607.62 496,603.75 Q493.6,599.88 496,596 Q493.6,592.12 496,588.25 Q493.6,584.38 496,580.5 Q493.6,576.62 496,572.75 Q493.6,568.88 496,565 Q493.6,561.12 496,557.25 Q493.6,553.38 496,549.5 Q493.6,545.62 496,541.75 Q493.6,537.88 496,534 Q493.6,530.12 496,526.25 Q493.6,522.38 496,518.5 Q493.6,514.62 496,510.75 Q493.6,506.88 496,503 Z" stroke="#444" stroke-width="0.8" fill="none"/>
<polygon points="483,593.45 488.5,583.55 494,593.45" stroke="#333" stroke-width="0.8" fill="none"/>
<text x="488.5" y="591.85" font-size="4.2" fill="#333" stroke="#333" stroke-width="0.2" text-anchor="middle"><tspan x="488.5">A</tspan></text>
<rect x="549.6" y="547.5" width="3.8" height="3.8" stroke="#222" stroke-width="0.9" fill="none"/>
<rect x="549" y="566" width="6" height="12.5" fill="#9a9a9a"/>
<rect x="549" y="566" width="6" height="12.5" stroke="#333" stroke-width="0.8" fill="none"/>
<rect x="559.5" y="575" width="5.5" height="6" stroke="#444" stroke-width="0.7" fill="none"/>
<text x="562.25" y="579.7" font-size="4.2" fill="#444" stroke="#444" stroke-width="0.2" text-anchor="middle"><tspan x="562.25">1</tspan></text>
<line x1="566.25" y1="552" x2="566.25" y2="572" stroke="#3a3a3a" stroke-width="0.7"/>
<circle cx="566.25" cy="552" r="0.9" fill="#333"/>
<circle cx="566.25" cy="572" r="0.9" fill="#333"/>
<line x1="555" y1="572" x2="566.25" y2="572" stroke="#3a3a3a" stroke-width="0.7"/>
<text x="564.4" y="562" font-size="4.2" fill="#222" stroke="#222" stroke-width="0.2" text-anchor="middle" transform="rotate(-90 564.4 562)"><tspan x="564.4">2'-0"</tspan></text>
<text x="577" y="569.8" font-size="4.35" fill="#222" stroke="#222" stroke-width="0.2" text-anchor="start"><tspan x="577">8"X8" SMART</tspan><tspan x="577" dy="4.6">FLOOD VENT</tspan></text>
<line x1="555" y1="567.5" x2="576" y2="567.5" stroke="#3a3a3a" stroke-width="0.7"/>
<line x1="561.5" y1="522.5" x2="690" y2="522.5" stroke="#444" stroke-width="0.9"/>
<text x="565" y="530.5" font-size="4.2" fill="#222" stroke="#222" stroke-width="0.2" text-anchor="start"><tspan x="565">1'-4"</tspan></text>
<path d="M557,534 Q557,528 562,527" stroke="#444" stroke-width="0.7" fill="none"/>
<text x="650.5" y="521.5" font-size="4.2" fill="#222" stroke="#222" stroke-width="0.2" text-anchor="start"><tspan x="650.5">CJ</tspan></text>
<path d="M655.8,542.5 Q656.68,539.57 656.97,542.62 Q658.4,539.92 658.1,542.96 Q660.03,540.59 659.13,543.51 Q661.49,541.57 660.04,544.26 Q662.73,542.81 660.79,545.17 Q663.71,544.27 661.34,546.2 Q664.38,545.9 661.68,547.33 Q664.73,547.62 661.8,548.5 Q664.8,553 661.8,557.5 Q664.8,562 661.8,566.5 Q664.73,567.38 661.68,567.67 Q664.38,569.1 661.34,568.8 Q663.71,570.73 660.79,569.83 Q662.73,572.19 660.04,570.74 Q661.49,573.43 659.13,571.49 Q660.03,574.41 658.1,572.04 Q658.4,575.08 656.97,572.38 Q656.68,575.43 655.8,572.5 Q651.77,575.5 647.73,572.5 Q643.7,575.5 639.67,572.5 Q635.63,575.5 631.6,572.5 Q630.72,575.43 630.43,572.38 Q629,575.08 629.3,572.04 Q627.37,574.41 628.27,571.49 Q625.91,573.43 627.36,570.74 Q624.67,572.19 626.61,569.83 Q623.69,570.73 626.06,568.8 Q623.02,569.1 625.72,567.67 Q622.67,567.38 625.6,566.5 Q622.6,562 625.6,557.5 Q622.6,553 625.6,548.5 Q622.67,547.62 625.72,547.33 Q623.02,545.9 626.06,546.2 Q623.69,544.27 626.61,545.17 Q624.67,542.81 627.36,544.26 Q625.91,541.57 628.27,543.51 Q627.37,540.59 629.3,542.96 Q629,539.92 630.43,542.62 Q630.72,539.57 631.6,542.5 Q635.63,539.5 639.67,542.5 Q643.7,539.5 647.73,542.5 Q651.77,539.5 655.8,542.5 Z" stroke="#444" stroke-width="0.8" fill="none"/>
<text x="634" y="552.8" font-size="4.35" fill="#222" stroke="#222" stroke-width="0.2" text-anchor="start"><tspan x="634">GIRDER</tspan><tspan x="634" dy="4.6">ABOVE</tspan><tspan x="634" dy="4.6">SEE TRUSS</tspan><tspan x="634" dy="4.6">PLAN</tspan></text>
<polyline points="655,555 674,555 690,547" stroke="#444" stroke-width="0.7" fill="none"/>
<polygon points="612.3,557.45 617.8,547.55 623.3,557.45" stroke="#333" stroke-width="0.8" fill="none"/>
<text x="617.8" y="555.85" font-size="4.2" fill="#333" stroke="#333" stroke-width="0.2" text-anchor="middle"><tspan x="617.8">B</tspan></text>
<rect x="560" y="594" width="13" height="6" stroke="#444" stroke-width="0.7" fill="#dcdcdc"/>
<text x="566.5" y="598.7" font-size="4.2" fill="#444" stroke="#444" stroke-width="0.2" text-anchor="middle"><tspan x="566.5">MH-3</tspan></text>
<text x="617" y="491.3" font-size="4.35" fill="#555" stroke="#555" stroke-width="0.2" text-anchor="start"><tspan x="617">NOTE:</tspan><tspan x="617" dy="4.8">DESIGNATED</tspan><tspan x="617" dy="4.8">LOCATION FOR</tspan><tspan x="617" dy="4.8">ELEV. EQUIPMENT</tspan><tspan x="617" dy="4.8">ABOVE DFE (V.I.F.)</tspan></text>
<polyline points="658,504 671,504 681,492" stroke="#444" stroke-width="0.7" fill="none"/>
<rect x="690" y="460" width="62.5" height="62.5" stroke="#222" stroke-width="1.3" fill="none"/>
<rect x="696.5" y="466.5" width="49.5" height="49.5" stroke="#222" stroke-width="1.3" fill="none"/>
<rect x="691.1" y="461.4" width="3.8" height="3.8" stroke="#222" stroke-width="0.9" fill="none"/>
<rect x="691.1" y="517.3" width="3.8" height="3.8" stroke="#222" stroke-width="0.9" fill="none"/>
<rect x="720.6" y="461.4" width="3.8" height="3.8" stroke="#222" stroke-width="0.9" fill="none"/>
<rect x="720.6" y="517.3" width="3.8" height="3.8" stroke="#222" stroke-width="0.9" fill="none"/>
<rect x="747.1" y="461.4" width="3.8" height="3.8" stroke="#222" stroke-width="0.9" fill="none"/>
<rect x="747.1" y="517.3" width="3.8" height="3.8" stroke="#222" stroke-width="0.9" fill="none"/>
<rect x="691.1" y="468.1" width="3.8" height="3.8" stroke="#222" stroke-width="0.9" fill="none"/>
<rect x="691.1" y="475.1" width="3.8" height="3.8" stroke="#222" stroke-width="0.9" fill="none"/>
<rect x="691.1" y="489.1" width="3.8" height="3.8" stroke="#222" stroke-width="0.9" fill="none"/>
<rect x="691.1" y="504.1" width="3.8" height="3.8" stroke="#222" stroke-width="0.9" fill="none"/>
<rect x="691.1" y="511.1" width="3.8" height="3.8" stroke="#222" stroke-width="0.9" fill="none"/>
<rect x="690" y="522.5" width="6.5" height="6.5" stroke="#222" stroke-width="1" fill="none"/>
<line x1="689" y1="451" x2="752.5" y2="451" stroke="#333" stroke-width="1.2"/>
<rect x="746" y="450" width="6.5" height="10" fill="#e6e6e6"/>
<line x1="746" y1="451.6" x2="752.5" y2="451.6" stroke="#999" stroke-width="0.35"/>
<line x1="746" y1="453.2" x2="752.5" y2="453.2" stroke="#999" stroke-width="0.35"/>
<line x1="746" y1="454.8" x2="752.5" y2="454.8" stroke="#999" stroke-width="0.35"/>
<line x1="746" y1="456.4" x2="752.5" y2="456.4" stroke="#999" stroke-width="0.35"/>
<line x1="746" y1="458" x2="752.5" y2="458" stroke="#999" stroke-width="0.35"/>
<rect x="746" y="450" width="6.5" height="10" stroke="#333" stroke-width="0.9" fill="none"/>
<line x1="722.5" y1="451" x2="722.5" y2="460" stroke="#3a3a3a" stroke-width="0.8"/>
<line x1="664.4" y1="459.5" x2="690" y2="459.5" stroke="#3a3a3a" stroke-width="0.7"/>
<line x1="705.5" y1="474" x2="746" y2="474" stroke="#444" stroke-width="0.8"/>
<circle cx="705.5" cy="474" r="0.9" fill="#333"/>
<circle cx="746" cy="474" r="0.9" fill="#333"/>
<text x="725.75" y="472.6" font-size="4.4" fill="#444" stroke="#444" stroke-width="0.2" text-anchor="middle"><tspan x="725.75">5'-0"</tspan></text>
<line x1="705.5" y1="466.5" x2="705.5" y2="516" stroke="#3a3a3a" stroke-width="0.7"/>
<text x="703.3" y="491" font-size="4.2" fill="#222" stroke="#222" stroke-width="0.2" text-anchor="middle" transform="rotate(-90 703.3 491)"><tspan x="703.3">5'-0"</tspan></text>
<path d="M740,477 Q740.88,474.07 741.17,477.12 Q742.6,474.42 742.3,477.46 Q744.23,475.09 743.33,478.01 Q745.69,476.07 744.24,478.76 Q746.93,477.31 744.99,479.67 Q747.91,478.77 745.54,480.7 Q748.58,480.4 745.88,481.83 Q748.93,482.12 746,483 Q749,486.25 746,489.5 Q749,492.75 746,496 Q748.93,496.88 745.88,497.17 Q748.58,498.6 745.54,498.3 Q747.91,500.23 744.99,499.33 Q746.93,501.69 744.24,500.24 Q745.69,502.93 743.33,500.99 Q744.23,503.91 742.3,501.54 Q742.6,504.58 741.17,501.88 Q740.88,504.93 740,502 Q735.17,505 730.33,502 Q725.5,505 720.67,502 Q715.83,505 711,502 Q710.12,504.93 709.83,501.88 Q708.4,504.58 708.7,501.54 Q706.77,503.91 707.67,500.99 Q705.31,502.93 706.76,500.24 Q704.07,501.69 706.01,499.33 Q703.09,500.23 705.46,498.3 Q702.42,498.6 705.12,497.17 Q702.07,496.88 705,496 Q702,492.75 705,489.5 Q702,486.25 705,483 Q702.07,482.12 705.12,481.83 Q702.42,480.4 705.46,480.7 Q703.09,478.77 706.01,479.67 Q704.07,477.31 706.76,478.76 Q705.31,476.07 707.67,478.01 Q706.77,475.09 708.7,477.46 Q708.4,474.42 709.83,477.12 Q710.12,474.07 711,477 Q715.83,474 720.67,477 Q725.5,474 730.33,477 Q735.17,474 740,477 Z" stroke="#444" stroke-width="0.8" fill="none"/>
<text x="711" y="484.8" font-size="4.6" fill="#222" stroke="#222" stroke-width="0.2" text-anchor="start"><tspan x="711">ELEVATOR PIT</tspan></text>
<path d="M712.5,491.2 A2.8,2.8 0 0 1 715.3,494 L712.5,494 Z" fill="#222"/>
<path d="M712.5,496.8 A2.8,2.8 0 0 1 709.7,494 L712.5,494 Z" fill="#222"/>
<circle cx="712.5" cy="494" r="2.8" stroke="#222" stroke-width="0.7" fill="none"/>
<line x1="707.7" y1="494" x2="717.3" y2="494" stroke="#222" stroke-width="0.7"/>
<line x1="712.5" y1="489.2" x2="712.5" y2="498.8" stroke="#222" stroke-width="0.7"/>
<line x1="712.5" y1="494" x2="741" y2="494" stroke="#3a3a3a" stroke-width="0.7"/>
<text x="718" y="492.5" font-size="4.6" fill="#222" stroke="#222" stroke-width="0.2" text-anchor="start"><tspan x="718">3.64' NAVD</tspan></text>
<polygon points="725,513.45 730.5,503.55 736,513.45" stroke="#333" stroke-width="0.8" fill="none"/>
<text x="730.5" y="511.85" font-size="4.2" fill="#333" stroke="#333" stroke-width="0.2" text-anchor="middle"><tspan x="730.5">B</tspan></text>
<text x="750.5" y="491" font-size="4.2" fill="#222" stroke="#222" stroke-width="0.2" text-anchor="middle" transform="rotate(-90 750.5 491)"><tspan x="750.5">3080</tspan></text>
<line x1="752.5" y1="460" x2="752.5" y2="540" stroke="#999" stroke-width="0.6" stroke-dasharray="2,1.5"/>
<text x="776" y="470.8" font-size="4.35" fill="#222" stroke="#222" stroke-width="0.2" text-anchor="start"><tspan x="776">L.V.L. (4) GIRDER</tspan><tspan x="776" dy="5">PER TRUSS</tspan><tspan x="776" dy="5">LAYOUT</tspan></text>
<polyline points="775,469 770,469 752.5,480" stroke="#444" stroke-width="0.7" fill="none"/>
<path d="M808.3,484 Q809.15,481.07 809.41,484.11 Q810.82,481.4 810.48,484.43 Q812.39,482.05 811.47,484.96 Q813.8,483 812.33,485.67 Q815,484.2 813.04,486.53 Q815.95,485.61 813.57,487.52 Q816.6,487.18 813.89,488.59 Q816.93,488.85 814,489.7 Q817,493.5 814,497.3 Q816.93,498.15 813.89,498.41 Q816.6,499.82 813.57,499.48 Q815.95,501.39 813.04,500.47 Q815,502.8 812.33,501.33 Q813.8,504 811.47,502.04 Q812.39,504.95 810.48,502.57 Q810.82,505.6 809.41,502.89 Q809.15,505.93 808.3,503 Q804.22,506 800.15,503 Q796.08,506 792,503 Q787.92,506 783.85,503 Q779.78,506 775.7,503 Q774.85,505.93 774.59,502.89 Q773.18,505.6 773.52,502.57 Q771.61,504.95 772.53,502.04 Q770.2,504 771.67,501.33 Q769,502.8 770.96,500.47 Q768.05,501.39 770.43,499.48 Q767.4,499.82 770.11,498.41 Q767.07,498.15 770,497.3 Q767,493.5 770,489.7 Q767.07,488.85 770.11,488.59 Q767.4,487.18 770.43,487.52 Q768.05,485.61 770.96,486.53 Q769,484.2 771.67,485.67 Q770.2,483 772.53,484.96 Q771.61,482.05 773.52,484.43 Q773.18,481.4 774.59,484.11 Q774.85,481.07 775.7,484 Q779.78,481 783.85,484 Q787.92,481 792,484 Q796.08,481 800.15,484 Q804.22,481 808.3,484 Z" stroke="#444" stroke-width="0.8" fill="none"/>
<path d="M777.5,491.2 A2.8,2.8 0 0 1 780.3,494 L777.5,494 Z" fill="#222"/>
<path d="M777.5,496.8 A2.8,2.8 0 0 1 774.7,494 L777.5,494 Z" fill="#222"/>
<circle cx="777.5" cy="494" r="2.8" stroke="#222" stroke-width="0.7" fill="none"/>
<line x1="772.7" y1="494" x2="782.3" y2="494" stroke="#222" stroke-width="0.7"/>
<line x1="777.5" y1="489.2" x2="777.5" y2="498.8" stroke="#222" stroke-width="0.7"/>
<line x1="777.5" y1="494" x2="810" y2="494" stroke="#333" stroke-width="0.7"/>
<text x="781.5" y="492.8" font-size="4.6" fill="#333" stroke="#333" stroke-width="0.2" text-anchor="start"><tspan x="781.5">4.64' NAVD</tspan></text>
<polygon points="785,513.95 790.5,504.05 796,513.95" stroke="#333" stroke-width="0.8" fill="none"/>
<text x="790.5" y="512.35" font-size="4.2" fill="#333" stroke="#333" stroke-width="0.2" text-anchor="middle"><tspan x="790.5">B</tspan></text>
<text x="803" y="517.5" font-size="4.2" fill="#222" stroke="#222" stroke-width="0.2" text-anchor="start"><tspan x="803">CJ</tspan></text>
<line x1="673.5" y1="451" x2="673.5" y2="572" stroke="#444" stroke-width="0.7"/>
<circle cx="673.5" cy="460" r="0.9" fill="#333"/>
<line x1="673.5" y1="460" x2="690" y2="460" stroke="#444" stroke-width="0.7"/>
<circle cx="673.5" cy="470" r="0.9" fill="#333"/>
<line x1="673.5" y1="470" x2="690" y2="470" stroke="#444" stroke-width="0.7"/>
<circle cx="673.5" cy="476.5" r="0.9" fill="#333"/>
<line x1="673.5" y1="476.5" x2="690" y2="476.5" stroke="#444" stroke-width="0.7"/>
<circle cx="673.5" cy="491" r="0.9" fill="#333"/>
<line x1="673.5" y1="491" x2="690" y2="491" stroke="#444" stroke-width="0.7"/>
<circle cx="673.5" cy="506" r="0.9" fill="#333"/>
<line x1="673.5" y1="506" x2="690" y2="506" stroke="#444" stroke-width="0.7"/>
<circle cx="673.5" cy="513" r="0.9" fill="#333"/>
<line x1="673.5" y1="513" x2="690" y2="513" stroke="#444" stroke-width="0.7"/>
<circle cx="673.5" cy="522.5" r="0.9" fill="#333"/>
<line x1="673.5" y1="522.5" x2="690" y2="522.5" stroke="#444" stroke-width="0.7"/>
<circle cx="673.5" cy="529" r="0.9" fill="#333"/>
<line x1="673.5" y1="529" x2="690" y2="529" stroke="#444" stroke-width="0.7"/>
<circle cx="673.5" cy="562" r="0.9" fill="#333"/>
<line x1="673.5" y1="562" x2="690" y2="562" stroke="#444" stroke-width="0.7"/>
<circle cx="673.5" cy="571.5" r="0.9" fill="#333"/>
<line x1="673.5" y1="571.5" x2="690" y2="571.5" stroke="#444" stroke-width="0.7"/>
<text x="671.3" y="465" font-size="3.6" fill="#222" stroke="#222" stroke-width="0.2" text-anchor="middle" transform="rotate(-90 671.3 465)"><tspan x="671.3">1'-0"</tspan></text>
<text x="671.3" y="473" font-size="3.6" fill="#222" stroke="#222" stroke-width="0.2" text-anchor="middle" transform="rotate(-90 671.3 473)"><tspan x="671.3">1'-0"</tspan></text>
<text x="671.3" y="484" font-size="3.6" fill="#222" stroke="#222" stroke-width="0.2" text-anchor="middle" transform="rotate(-90 671.3 484)"><tspan x="671.3">1'-6"</tspan></text>
<text x="671.3" y="499" font-size="3.6" fill="#222" stroke="#222" stroke-width="0.2" text-anchor="middle" transform="rotate(-90 671.3 499)"><tspan x="671.3">1'-6"</tspan></text>
<text x="671.3" y="510" font-size="3.6" fill="#222" stroke="#222" stroke-width="0.2" text-anchor="middle" transform="rotate(-90 671.3 510)"><tspan x="671.3">1'-0"</tspan></text>
<text x="671.3" y="518" font-size="3.6" fill="#222" stroke="#222" stroke-width="0.2" text-anchor="middle" transform="rotate(-90 671.3 518)"><tspan x="671.3">1'-0"</tspan></text>
<text x="671.3" y="526" font-size="3.6" fill="#222" stroke="#222" stroke-width="0.2" text-anchor="middle" transform="rotate(-90 671.3 526)"><tspan x="671.3">8"</tspan></text>
<rect x="680" y="482.5" width="8" height="17.5" stroke="#aaa" stroke-width="0.9" fill="none"/>
<line x1="664" y1="529" x2="752.5" y2="529" stroke="#444" stroke-width="0.8"/>
<circle cx="690" cy="529" r="0.9" fill="#333"/>
<circle cx="722.5" cy="529" r="0.9" fill="#333"/>
<circle cx="752.5" cy="529" r="0.9" fill="#333"/>
<text x="706.25" y="527.6" font-size="4.4" fill="#444" stroke="#444" stroke-width="0.2" text-anchor="middle"><tspan x="706.25">3'-4"</tspan></text>
<text x="737.5" y="527.6" font-size="4.4" fill="#444" stroke="#444" stroke-width="0.2" text-anchor="middle"><tspan x="737.5">3'-0"</tspan></text>
<text x="721" y="534" font-size="4.35" fill="#222" stroke="#222" stroke-width="0.2" text-anchor="middle"><tspan x="721">6'-8"</tspan></text>
<line x1="690" y1="529" x2="690" y2="540" stroke="#999" stroke-width="0.6" stroke-dasharray="2,1.5"/>
<rect x="689.5" y="529" width="6.5" height="6.5" fill="#e6e6e6"/>
<line x1="689.5" y1="530.6" x2="696" y2="530.6" stroke="#999" stroke-width="0.35"/>
<line x1="689.5" y1="532.2" x2="696" y2="532.2" stroke="#999" stroke-width="0.35"/>
<line x1="689.5" y1="533.8" x2="696" y2="533.8" stroke="#999" stroke-width="0.35"/>
<rect x="689.5" y="529" width="6.5" height="6.5" stroke="#333" stroke-width="0.9" fill="none"/>
<text x="692.5" y="544" font-size="4" fill="#222" stroke="#222" stroke-width="0.2" text-anchor="middle" transform="rotate(-90 692.5 544)"><tspan x="692.5">3080 SC</tspan></text>
<line x1="696.5" y1="535.75" x2="696.5" y2="561" stroke="#999" stroke-width="0.6" stroke-dasharray="2,1.5"/>
<text x="671.3" y="542" font-size="3.8" fill="#222" stroke="#222" stroke-width="0.2" text-anchor="middle" transform="rotate(-90 671.3 542)"><tspan x="671.3">3'-4"</tspan></text>
<text x="671.3" y="566" font-size="3.8" fill="#222" stroke="#222" stroke-width="0.2" text-anchor="middle" transform="rotate(-90 671.3 566)"><tspan x="671.3">1'-0"</tspan></text>
<rect x="689.5" y="561" width="6.5" height="10.5" fill="#e6e6e6"/>
<line x1="689.5" y1="562.6" x2="696" y2="562.6" stroke="#999" stroke-width="0.35"/>
<line x1="689.5" y1="564.2" x2="696" y2="564.2" stroke="#999" stroke-width="0.35"/>
<line x1="689.5" y1="565.8" x2="696" y2="565.8" stroke="#999" stroke-width="0.35"/>
<line x1="689.5" y1="567.4" x2="696" y2="567.4" stroke="#999" stroke-width="0.35"/>
<line x1="689.5" y1="569" x2="696" y2="569" stroke="#999" stroke-width="0.35"/>
<rect x="689.5" y="561" width="6.5" height="10.5" stroke="#333" stroke-width="0.9" fill="none"/>
<rect x="684" y="572" width="12" height="11.5" stroke="#222" stroke-width="1.1" fill="#fff"/>
<rect x="685.59" y="573.45" width="3.1" height="3.1" stroke="#1a1a1a" stroke-width="1.2" fill="none"/>
<rect x="685.59" y="578.95" width="3.1" height="3.1" stroke="#1a1a1a" stroke-width="1.2" fill="none"/>
<rect x="691.31" y="573.45" width="3.1" height="3.1" stroke="#1a1a1a" stroke-width="1.2" fill="none"/>
<rect x="691.31" y="578.95" width="3.1" height="3.1" stroke="#1a1a1a" stroke-width="1.2" fill="none"/>
<rect x="691.1" y="585.6" width="3.8" height="3.8" stroke="#222" stroke-width="0.9" fill="none"/>
<rect x="689.5" y="590" width="6.5" height="33.75" fill="#e6e6e6"/>
<line x1="689.5" y1="591.6" x2="696" y2="591.6" stroke="#999" stroke-width="0.35"/>
<line x1="689.5" y1="593.2" x2="696" y2="593.2" stroke="#999" stroke-width="0.35"/>
<line x1="689.5" y1="594.8" x2="696" y2="594.8" stroke="#999" stroke-width="0.35"/>
<line x1="689.5" y1="596.4" x2="696" y2="596.4" stroke="#999" stroke-width="0.35"/>
<line x1="689.5" y1="598" x2="696" y2="598" stroke="#999" stroke-width="0.35"/>
<line x1="689.5" y1="599.6" x2="696" y2="599.6" stroke="#999" stroke-width="0.35"/>
<line x1="689.5" y1="601.2" x2="696" y2="601.2" stroke="#999" stroke-width="0.35"/>
<line x1="689.5" y1="602.8" x2="696" y2="602.8" stroke="#999" stroke-width="0.35"/>
<line x1="689.5" y1="604.4" x2="696" y2="604.4" stroke="#999" stroke-width="0.35"/>
<line x1="689.5" y1="606" x2="696" y2="606" stroke="#999" stroke-width="0.35"/>
<line x1="689.5" y1="607.6" x2="696" y2="607.6" stroke="#999" stroke-width="0.35"/>
<line x1="689.5" y1="609.2" x2="696" y2="609.2" stroke="#999" stroke-width="0.35"/>
<line x1="689.5" y1="610.8" x2="696" y2="610.8" stroke="#999" stroke-width="0.35"/>
<line x1="689.5" y1="612.4" x2="696" y2="612.4" stroke="#999" stroke-width="0.35"/>
<line x1="689.5" y1="614" x2="696" y2="614" stroke="#999" stroke-width="0.35"/>
<line x1="689.5" y1="615.6" x2="696" y2="615.6" stroke="#999" stroke-width="0.35"/>
<line x1="689.5" y1="617.2" x2="696" y2="617.2" stroke="#999" stroke-width="0.35"/>
<line x1="689.5" y1="618.8" x2="696" y2="618.8" stroke="#999" stroke-width="0.35"/>
<line x1="689.5" y1="620.4" x2="696" y2="620.4" stroke="#999" stroke-width="0.35"/>
<line x1="689.5" y1="622" x2="696" y2="622" stroke="#999" stroke-width="0.35"/>
<rect x="689.5" y="590" width="6.5" height="33.75" stroke="#333" stroke-width="0.9" fill="none"/>
<rect x="690.5" y="600" width="5" height="14" fill="#9a9a9a"/>
<rect x="690.5" y="600" width="5" height="14" stroke="#333" stroke-width="0.8" fill="none"/>
<line x1="664.4" y1="571.9" x2="683.5" y2="571.9" stroke="#3a3a3a" stroke-width="0.7"/>
<line x1="664.4" y1="584" x2="683.5" y2="584" stroke="#3a3a3a" stroke-width="0.7"/>
<line x1="664.4" y1="590" x2="683.5" y2="590" stroke="#3a3a3a" stroke-width="0.7"/>
<text x="661.5" y="576.5" font-size="3.8" fill="#222" stroke="#222" stroke-width="0.2" text-anchor="middle" transform="rotate(-90 661.5 576.5)"><tspan x="661.5">1'-4"</tspan></text>
<text x="661.5" y="588" font-size="3.8" fill="#222" stroke="#222" stroke-width="0.2" text-anchor="middle" transform="rotate(-90 661.5 588)"><tspan x="661.5">1'-4"</tspan></text>
<text x="661.5" y="600" font-size="3.8" fill="#222" stroke="#222" stroke-width="0.2" text-anchor="middle" transform="rotate(-90 661.5 600)"><tspan x="661.5">5'-4"</tspan></text>
<line x1="664.4" y1="540" x2="664.4" y2="636" stroke="#666" stroke-width="0.7"/>
<rect x="696.5" y="577.5" width="180.5" height="6.5" fill="#e6e6e6"/>
<line x1="698.1" y1="577.5" x2="698.1" y2="584" stroke="#999" stroke-width="0.35"/>
<line x1="699.7" y1="577.5" x2="699.7" y2="584" stroke="#999" stroke-width="0.35"/>
<line x1="701.3" y1="577.5" x2="701.3" y2="584" stroke="#999" stroke-width="0.35"/>
<line x1="702.9" y1="577.5" x2="702.9" y2="584" stroke="#999" stroke-width="0.35"/>
<line x1="704.5" y1="577.5" x2="704.5" y2="584" stroke="#999" stroke-width="0.35"/>
<line x1="706.1" y1="577.5" x2="706.1" y2="584" stroke="#999" stroke-width="0.35"/>
<line x1="707.7" y1="577.5" x2="707.7" y2="584" stroke="#999" stroke-width="0.35"/>
<line x1="709.3" y1="577.5" x2="709.3" y2="584" stroke="#999" stroke-width="0.35"/>
<line x1="710.9" y1="577.5" x2="710.9" y2="584" stroke="#999" stroke-width="0.35"/>
<line x1="712.5" y1="577.5" x2="712.5" y2="584" stroke="#999" stroke-width="0.35"/>
<line x1="714.1" y1="577.5" x2="714.1" y2="584" stroke="#999" stroke-width="0.35"/>
<line x1="715.7" y1="577.5" x2="715.7" y2="584" stroke="#999" stroke-width="0.35"/>
<line x1="717.3" y1="577.5" x2="717.3" y2="584" stroke="#999" stroke-width="0.35"/>
<line x1="718.9" y1="577.5" x2="718.9" y2="584" stroke="#999" stroke-width="0.35"/>
<line x1="720.5" y1="577.5" x2="720.5" y2="584" stroke="#999" stroke-width="0.35"/>
<line x1="722.1" y1="577.5" x2="722.1" y2="584" stroke="#999" stroke-width="0.35"/>
<line x1="723.7" y1="577.5" x2="723.7" y2="584" stroke="#999" stroke-width="0.35"/>
<line x1="725.3" y1="577.5" x2="725.3" y2="584" stroke="#999" stroke-width="0.35"/>
<line x1="726.9" y1="577.5" x2="726.9" y2="584" stroke="#999" stroke-width="0.35"/>
<line x1="728.5" y1="577.5" x2="728.5" y2="584" stroke="#999" stroke-width="0.35"/>
<line x1="730.1" y1="577.5" x2="730.1" y2="584" stroke="#999" stroke-width="0.35"/>
<line x1="731.7" y1="577.5" x2="731.7" y2="584" stroke="#999" stroke-width="0.35"/>
<line x1="733.3" y1="577.5" x2="733.3" y2="584" stroke="#999" stroke-width="0.35"/>
<line x1="734.9" y1="577.5" x2="734.9" y2="584" stroke="#999" stroke-width="0.35"/>
<line x1="736.5" y1="577.5" x2="736.5" y2="584" stroke="#999" stroke-width="0.35"/>
<line x1="738.1" y1="577.5" x2="738.1" y2="584" stroke="#999" stroke-width="0.35"/>
<line x1="739.7" y1="577.5" x2="739.7" y2="584" stroke="#999" stroke-width="0.35"/>
<line x1="741.3" y1="577.5" x2="741.3" y2="584" stroke="#999" stroke-width="0.35"/>
<line x1="742.9" y1="577.5" x2="742.9" y2="584" stroke="#999" stroke-width="0.35"/>
<line x1="744.5" y1="577.5" x2="744.5" y2="584" stroke="#999" stroke-width="0.35"/>
<line x1="746.1" y1="577.5" x2="746.1" y2="584" stroke="#999" stroke-width="0.35"/>
<line x1="747.7" y1="577.5" x2="747.7" y2="584" stroke="#999" stroke-width="0.35"/>
<line x1="749.3" y1="577.5" x2="749.3" y2="584" stroke="#999" stroke-width="0.35"/>
<line x1="750.9" y1="577.5" x2="750.9" y2="584" stroke="#999" stroke-width="0.35"/>
<line x1="752.5" y1="577.5" x2="752.5" y2="584" stroke="#999" stroke-width="0.35"/>
<line x1="754.1" y1="577.5" x2="754.1" y2="584" stroke="#999" stroke-width="0.35"/>
<line x1="755.7" y1="577.5" x2="755.7" y2="584" stroke="#999" stroke-width="0.35"/>
<line x1="757.3" y1="577.5" x2="757.3" y2="584" stroke="#999" stroke-width="0.35"/>
<line x1="758.9" y1="577.5" x2="758.9" y2="584" stroke="#999" stroke-width="0.35"/>
<line x1="760.5" y1="577.5" x2="760.5" y2="584" stroke="#999" stroke-width="0.35"/>
<line x1="762.1" y1="577.5" x2="762.1" y2="584" stroke="#999" stroke-width="0.35"/>
<line x1="763.7" y1="577.5" x2="763.7" y2="584" stroke="#999" stroke-width="0.35"/>
<line x1="765.3" y1="577.5" x2="765.3" y2="584" stroke="#999" stroke-width="0.35"/>
<line x1="766.9" y1="577.5" x2="766.9" y2="584" stroke="#999" stroke-width="0.35"/>
<line x1="768.5" y1="577.5" x2="768.5" y2="584" stroke="#999" stroke-width="0.35"/>
<line x1="770.1" y1="577.5" x2="770.1" y2="584" stroke="#999" stroke-width="0.35"/>
<line x1="771.7" y1="577.5" x2="771.7" y2="584" stroke="#999" stroke-width="0.35"/>
<line x1="773.3" y1="577.5" x2="773.3" y2="584" stroke="#999" stroke-width="0.35"/>
<line x1="774.9" y1="577.5" x2="774.9" y2="584" stroke="#999" stroke-width="0.35"/>
<line x1="776.5" y1="577.5" x2="776.5" y2="584" stroke="#999" stroke-width="0.35"/>
<line x1="778.1" y1="577.5" x2="778.1" y2="584" stroke="#999" stroke-width="0.35"/>
<line x1="779.7" y1="577.5" x2="779.7" y2="584" stroke="#999" stroke-width="0.35"/>
<line x1="781.3" y1="577.5" x2="781.3" y2="584" stroke="#999" stroke-width="0.35"/>
<line x1="782.9" y1="577.5" x2="782.9" y2="584" stroke="#999" stroke-width="0.35"/>
<line x1="784.5" y1="577.5" x2="784.5" y2="584" stroke="#999" stroke-width="0.35"/>
<line x1="786.1" y1="577.5" x2="786.1" y2="584" stroke="#999" stroke-width="0.35"/>
<line x1="787.7" y1="577.5" x2="787.7" y2="584" stroke="#999" stroke-width="0.35"/>
<line x1="789.3" y1="577.5" x2="789.3" y2="584" stroke="#999" stroke-width="0.35"/>
<line x1="790.9" y1="577.5" x2="790.9" y2="584" stroke="#999" stroke-width="0.35"/>
<line x1="792.5" y1="577.5" x2="792.5" y2="584" stroke="#999" stroke-width="0.35"/>
<line x1="794.1" y1="577.5" x2="794.1" y2="584" stroke="#999" stroke-width="0.35"/>
<line x1="795.7" y1="577.5" x2="795.7" y2="584" stroke="#999" stroke-width="0.35"/>
<line x1="797.3" y1="577.5" x2="797.3" y2="584" stroke="#999" stroke-width="0.35"/>
<line x1="798.9" y1="577.5" x2="798.9" y2="584" stroke="#999" stroke-width="0.35"/>
<line x1="800.5" y1="577.5" x2="800.5" y2="584" stroke="#999" stroke-width="0.35"/>
<line x1="802.1" y1="577.5" x2="802.1" y2="584" stroke="#999" stroke-width="0.35"/>
<line x1="803.7" y1="577.5" x2="803.7" y2="584" stroke="#999" stroke-width="0.35"/>
<line x1="805.3" y1="577.5" x2="805.3" y2="584" stroke="#999" stroke-width="0.35"/>
<line x1="806.9" y1="577.5" x2="806.9" y2="584" stroke="#999" stroke-width="0.35"/>
<line x1="808.5" y1="577.5" x2="808.5" y2="584" stroke="#999" stroke-width="0.35"/>
<line x1="810.1" y1="577.5" x2="810.1" y2="584" stroke="#999" stroke-width="0.35"/>
<line x1="811.7" y1="577.5" x2="811.7" y2="584" stroke="#999" stroke-width="0.35"/>
<line x1="813.3" y1="577.5" x2="813.3" y2="584" stroke="#999" stroke-width="0.35"/>
<line x1="814.9" y1="577.5" x2="814.9" y2="584" stroke="#999" stroke-width="0.35"/>
<line x1="816.5" y1="577.5" x2="816.5" y2="584" stroke="#999" stroke-width="0.35"/>
<line x1="818.1" y1="577.5" x2="818.1" y2="584" stroke="#999" stroke-width="0.35"/>
<line x1="819.7" y1="577.5" x2="819.7" y2="584" stroke="#999" stroke-width="0.35"/>
<line x1="821.3" y1="577.5" x2="821.3" y2="584" stroke="#999" stroke-width="0.35"/>
<line x1="822.9" y1="577.5" x2="822.9" y2="584" stroke="#999" stroke-width="0.35"/>
<line x1="824.5" y1="577.5" x2="824.5" y2="584" stroke="#999" stroke-width="0.35"/>
<line x1="826.1" y1="577.5" x2="826.1" y2="584" stroke="#999" stroke-width="0.35"/>
<line x1="827.7" y1="577.5" x2="827.7" y2="584" stroke="#999" stroke-width="0.35"/>
<line x1="829.3" y1="577.5" x2="829.3" y2="584" stroke="#999" stroke-width="0.35"/>
<line x1="830.9" y1="577.5" x2="830.9" y2="584" stroke="#999" stroke-width="0.35"/>
<line x1="832.5" y1="577.5" x2="832.5" y2="584" stroke="#999" stroke-width="0.35"/>
<line x1="834.1" y1="577.5" x2="834.1" y2="584" stroke="#999" stroke-width="0.35"/>
<line x1="835.7" y1="577.5" x2="835.7" y2="584" stroke="#999" stroke-width="0.35"/>
<line x1="837.3" y1="577.5" x2="837.3" y2="584" stroke="#999" stroke-width="0.35"/>
<line x1="838.9" y1="577.5" x2="838.9" y2="584" stroke="#999" stroke-width="0.35"/>
<line x1="840.5" y1="577.5" x2="840.5" y2="584" stroke="#999" stroke-width="0.35"/>
<line x1="842.1" y1="577.5" x2="842.1" y2="584" stroke="#999" stroke-width="0.35"/>
<line x1="843.7" y1="577.5" x2="843.7" y2="584" stroke="#999" stroke-width="0.35"/>
<line x1="845.3" y1="577.5" x2="845.3" y2="584" stroke="#999" stroke-width="0.35"/>
<line x1="846.9" y1="577.5" x2="846.9" y2="584" stroke="#999" stroke-width="0.35"/>
<line x1="848.5" y1="577.5" x2="848.5" y2="584" stroke="#999" stroke-width="0.35"/>
<line x1="850.1" y1="577.5" x2="850.1" y2="584" stroke="#999" stroke-width="0.35"/>
<line x1="851.7" y1="577.5" x2="851.7" y2="584" stroke="#999" stroke-width="0.35"/>
<line x1="853.3" y1="577.5" x2="853.3" y2="584" stroke="#999" stroke-width="0.35"/>
<line x1="854.9" y1="577.5" x2="854.9" y2="584" stroke="#999" stroke-width="0.35"/>
<line x1="856.5" y1="577.5" x2="856.5" y2="584" stroke="#999" stroke-width="0.35"/>
<line x1="858.1" y1="577.5" x2="858.1" y2="584" stroke="#999" stroke-width="0.35"/>
<line x1="859.7" y1="577.5" x2="859.7" y2="584" stroke="#999" stroke-width="0.35"/>
<line x1="861.3" y1="577.5" x2="861.3" y2="584" stroke="#999" stroke-width="0.35"/>
<line x1="862.9" y1="577.5" x2="862.9" y2="584" stroke="#999" stroke-width="0.35"/>
<line x1="864.5" y1="577.5" x2="864.5" y2="584" stroke="#999" stroke-width="0.35"/>
<line x1="866.1" y1="577.5" x2="866.1" y2="584" stroke="#999" stroke-width="0.35"/>
<line x1="867.7" y1="577.5" x2="867.7" y2="584" stroke="#999" stroke-width="0.35"/>
<line x1="869.3" y1="577.5" x2="869.3" y2="584" stroke="#999" stroke-width="0.35"/>
<line x1="870.9" y1="577.5" x2="870.9" y2="584" stroke="#999" stroke-width="0.35"/>
<line x1="872.5" y1="577.5" x2="872.5" y2="584" stroke="#999" stroke-width="0.35"/>
<line x1="874.1" y1="577.5" x2="874.1" y2="584" stroke="#999" stroke-width="0.35"/>
<rect x="696.5" y="577.5" width="180.5" height="6.5" stroke="#333" stroke-width="0.9" fill="none"/>
<rect x="696.5" y="577.5" width="6.5" height="6.5" stroke="#222" stroke-width="0.9" fill="#fff"/>
<text x="718" y="582.5" font-size="4.2" fill="#222" stroke="#222" stroke-width="0.2" text-anchor="middle"><tspan x="718">3080</tspan></text>
<line x1="703" y1="577.5" x2="735" y2="577.5" stroke="#999" stroke-width="0.6" stroke-dasharray="2,1.5"/>
<rect x="703.5" y="578" width="31" height="5.5" fill="#fff"/>
<rect x="735" y="577.5" width="5" height="6.5" stroke="#222" stroke-width="0.9" fill="#fff"/>
<rect x="756" y="577.5" width="14" height="6.5" fill="#9a9a9a"/>
<rect x="756" y="577.5" width="14" height="6.5" stroke="#333" stroke-width="0.8" fill="none"/>
<rect x="806.2" y="578.95" width="3.6" height="3.6" stroke="#222" stroke-width="0.9" fill="none"/>
<rect x="812.2" y="578.95" width="3.6" height="3.6" stroke="#222" stroke-width="0.9" fill="none"/>
<rect x="839.2" y="578.95" width="3.6" height="3.6" stroke="#222" stroke-width="0.9" fill="none"/>
<rect x="872.2" y="578.95" width="3.6" height="3.6" stroke="#222" stroke-width="0.9" fill="none"/>
<line x1="871" y1="517.5" x2="877" y2="517.5" stroke="#3a3a3a" stroke-width="0.9"/>
<line x1="877" y1="517.5" x2="877" y2="584" stroke="#222" stroke-width="0.9"/>
<line x1="871" y1="517.5" x2="871" y2="584" stroke="#222" stroke-width="0.9"/>
<rect x="872.2" y="519.2" width="3.6" height="3.6" stroke="#222" stroke-width="0.9" fill="none"/>
<rect x="872.2" y="526.2" width="3.6" height="3.6" stroke="#222" stroke-width="0.9" fill="none"/>
<rect x="872.2" y="546.2" width="3.6" height="3.6" stroke="#222" stroke-width="0.9" fill="none"/>
<rect x="872.2" y="572.2" width="3.6" height="3.6" stroke="#222" stroke-width="0.9" fill="none"/>
<rect x="765" y="568" width="7" height="6" stroke="#444" stroke-width="0.7" fill="none"/>
<text x="768.5" y="572.7" font-size="4.2" fill="#444" stroke="#444" stroke-width="0.2" text-anchor="middle"><tspan x="768.5">10</tspan></text>
<rect x="732" y="567" width="12" height="6" stroke="#444" stroke-width="0.7" fill="#dcdcdc"/>
<text x="738" y="571.7" font-size="4.2" fill="#444" stroke="#444" stroke-width="0.2" text-anchor="middle"><tspan x="738">MH-3</tspan></text>
<text x="725" y="555.3" font-size="4.35" fill="#222" stroke="#222" stroke-width="0.2" text-anchor="start"><tspan x="725">10"X16" SMART</tspan><tspan x="725" dy="4.8">FLOOD VENT</tspan></text>
<polyline points="752,557 756,557 763,578" stroke="#444" stroke-width="0.7" fill="none"/>
<text x="748" y="550" font-size="4.2" fill="#222" stroke="#222" stroke-width="0.2" text-anchor="start"><tspan x="748">CJ</tspan></text>
<line x1="697" y1="591" x2="877" y2="591" stroke="#444" stroke-width="0.8"/>
<circle cx="703" cy="591" r="0.9" fill="#333"/>
<circle cx="735" cy="591" r="0.9" fill="#333"/>
<circle cx="768" cy="591" r="0.9" fill="#333"/>
<circle cx="806" cy="591" r="0.9" fill="#333"/>
<circle cx="822" cy="591" r="0.9" fill="#333"/>
<circle cx="842" cy="591" r="0.9" fill="#333"/>
<circle cx="877" cy="591" r="0.9" fill="#333"/>
<text x="751.5" y="589.6" font-size="4.4" fill="#444" stroke="#444" stroke-width="0.2" text-anchor="middle"><tspan x="751.5">2'-8"</tspan></text>
<text x="787" y="589.6" font-size="4.4" fill="#444" stroke="#444" stroke-width="0.2" text-anchor="middle"><tspan x="787">4'-4"</tspan></text>
<text x="814" y="589.6" font-size="4.4" fill="#444" stroke="#444" stroke-width="0.2" text-anchor="middle"><tspan x="814">1'-0"</tspan></text>
<text x="832" y="589.6" font-size="4.4" fill="#444" stroke="#444" stroke-width="0.2" text-anchor="middle"><tspan x="832">2'-8"</tspan></text>
<text x="859.5" y="589.6" font-size="4.4" fill="#444" stroke="#444" stroke-width="0.2" text-anchor="middle"><tspan x="859.5">3'-8"</tspan></text>
<text x="714" y="593.5" font-size="4.3" fill="#222" stroke="#222" stroke-width="0.2" text-anchor="start"><tspan x="714">4" STEP</tspan></text>
<polyline points="713,592 710,592 710,585" stroke="#444" stroke-width="0.7" fill="none"/>
<line x1="697" y1="598.75" x2="806" y2="598.75" stroke="#444" stroke-width="0.8"/>
<circle cx="703" cy="598.75" r="0.9" fill="#333"/>
<circle cx="735" cy="598.75" r="0.9" fill="#333"/>
<circle cx="806" cy="598.75" r="0.9" fill="#333"/>
<text x="719" y="597.35" font-size="4.4" fill="#444" stroke="#444" stroke-width="0.2" text-anchor="middle"><tspan x="719">3'-4"</tspan></text>
<text x="770.5" y="597.35" font-size="4.4" fill="#444" stroke="#444" stroke-width="0.2" text-anchor="middle"><tspan x="770.5">7'-0"</tspan></text>
<text x="699.5" y="598" font-size="3.6" fill="#222" stroke="#222" stroke-width="0.2" text-anchor="middle" transform="rotate(-90 699.5 598)"><tspan x="699.5">1'-4"</tspan></text>
<rect x="675.5" y="597" width="12.5" height="6" stroke="#444" stroke-width="0.7" fill="#dcdcdc"/>
<text x="681.75" y="601.7" font-size="4.2" fill="#444" stroke="#444" stroke-width="0.2" text-anchor="middle"><tspan x="681.75">MH-3</tspan></text>
<rect x="682" y="610" width="6" height="6" stroke="#444" stroke-width="0.7" fill="none"/>
<text x="685" y="614.7" font-size="4.2" fill="#444" stroke="#444" stroke-width="0.2" text-anchor="middle"><tspan x="685">3</tspan></text>
<text x="709" y="612.8" font-size="4.35" fill="#222" stroke="#222" stroke-width="0.2" text-anchor="start"><tspan x="709">10"X8" SMART</tspan><tspan x="709" dy="4.6">FLOOD VENT</tspan></text>
<polyline points="708,611 702,611 696,606" stroke="#444" stroke-width="0.7" fill="none"/>
<line x1="678" y1="614" x2="678" y2="636" stroke="#3a3a3a" stroke-width="0.7"/>
<line x1="675" y1="614" x2="683" y2="614" stroke="#3a3a3a" stroke-width="0.7"/>
<text x="677" y="623" font-size="3.6" fill="#222" stroke="#222" stroke-width="0.2" text-anchor="middle" transform="rotate(-90 677 623)"><tspan x="677">2'-0"</tspan></text>
<line x1="561.5" y1="630" x2="684" y2="630" stroke="#222" stroke-width="0.9"/>
<line x1="561.5" y1="636" x2="684" y2="636" stroke="#222" stroke-width="1.1"/>
<rect x="561.5" y="630" width="13" height="6" fill="#e6e6e6"/>
<line x1="563.1" y1="630" x2="563.1" y2="636" stroke="#999" stroke-width="0.35"/>
<line x1="564.7" y1="630" x2="564.7" y2="636" stroke="#999" stroke-width="0.35"/>
<line x1="566.3" y1="630" x2="566.3" y2="636" stroke="#999" stroke-width="0.35"/>
<line x1="567.9" y1="630" x2="567.9" y2="636" stroke="#999" stroke-width="0.35"/>
<line x1="569.5" y1="630" x2="569.5" y2="636" stroke="#999" stroke-width="0.35"/>
<line x1="571.1" y1="630" x2="571.1" y2="636" stroke="#999" stroke-width="0.35"/>
<line x1="572.7" y1="630" x2="572.7" y2="636" stroke="#999" stroke-width="0.35"/>
<rect x="561.5" y="630" width="13" height="6" stroke="#333" stroke-width="0.9" fill="none"/>
<rect x="672" y="630" width="12" height="6" fill="#e6e6e6"/>
<line x1="673.6" y1="630" x2="673.6" y2="636" stroke="#999" stroke-width="0.35"/>
<line x1="675.2" y1="630" x2="675.2" y2="636" stroke="#999" stroke-width="0.35"/>
<line x1="676.8" y1="630" x2="676.8" y2="636" stroke="#999" stroke-width="0.35"/>
<line x1="678.4" y1="630" x2="678.4" y2="636" stroke="#999" stroke-width="0.35"/>
<line x1="680" y1="630" x2="680" y2="636" stroke="#999" stroke-width="0.35"/>
<line x1="681.6" y1="630" x2="681.6" y2="636" stroke="#999" stroke-width="0.35"/>
<rect x="672" y="630" width="12" height="6" stroke="#333" stroke-width="0.9" fill="none"/>
<text x="623.75" y="634.8" font-size="4" fill="#222" stroke="#222" stroke-width="0.2" text-anchor="middle"><tspan x="623.75">10'0 GAR. DR.</tspan></text>
<path d="M563.5,621 Q563.54,617 567.5,616.42 Q567.54,612.42 571.5,611.83 Q571.54,607.83 575.5,607.25 Q575.54,603.25 579.5,602.67 Q579.54,598.67 583.5,598.08 Q583.54,594.08 587.5,593.5 Q590.42,590.84 593.44,593.39 Q596.37,590.73 599.39,593.28 Q602.31,590.62 605.33,593.17 Q608.26,590.51 611.28,593.06 Q614.2,590.4 617.22,592.94 Q620.15,590.29 623.17,592.83 Q626.09,590.18 629.11,592.72 Q632.03,590.07 635.06,592.61 Q637.98,589.96 641,592.5 Q644.88,592.29 645.5,596.12 Q649.38,595.91 650,599.75 Q653.88,599.54 654.5,603.38 Q658.38,603.16 659,607 Q663.03,607.88 663,612 Q667.03,612.88 667,617 Q671.03,617.88 671,622 Q675.18,620.82 677.5,624.5 Q681.68,623.32 684,627" stroke="#444" stroke-width="0.8" fill="none"/>
<polyline points="570.5,623.5 586.5,604.5 659,604.5 674,625" stroke="#333" stroke-width="0.9" fill="none"/>
<path d="M586.5,623 Q585.6,619.37 588.5,617 Q591.38,614.94 594.33,616.89 Q597.21,614.83 600.17,616.78 Q603.05,614.72 606,616.67 Q608.88,614.61 611.83,616.56 Q614.71,614.5 617.67,616.44 Q620.55,614.39 623.5,616.33 Q626.38,614.28 629.33,616.22 Q632.21,614.17 635.17,616.11 Q638.05,614.06 641,616 Q644.32,616.8 644.6,620.2 Q647.92,621 648.2,624.4 Q651.52,625.2 651.8,628.6 Q655.12,629.4 655.4,632.8 Q658.72,633.6 659,637 Q662.21,636.63 663.33,639.67 Q666.55,639.3 667.67,642.33 Q670.88,641.96 672,645" stroke="#444" stroke-width="0.8" fill="none"/>
<path d="M557.5,640 Q560.7,639.9 561.5,643 Q564.7,642.9 565.5,646 Q568.5,644 571.5,646 Q574.5,644 577.5,646 Q576.71,643.11 579.5,642 Q578.71,639.11 581.5,638 Q578.92,636.42 580.17,633.67 Q577.59,632.09 578.83,629.33 Q576.26,627.75 577.5,625" stroke="#444" stroke-width="0.8" fill="none"/>
<circle cx="622" cy="605" r="8" stroke="#333" stroke-width="0.8" fill="#fff"/>
<text x="622" y="603.2" font-size="4" fill="#222" stroke="#222" stroke-width="0.2" text-anchor="middle"><tspan x="622">2</tspan></text>
<text x="622" y="611" font-size="4" fill="#222" stroke="#222" stroke-width="0.2" text-anchor="middle"><tspan x="622">6</tspan></text>
<text x="607" y="622" font-size="4.5" fill="#222" stroke="#222" stroke-width="0.2" text-anchor="start"><tspan x="607">RECESS SLAB</tspan><tspan x="607" dy="4.6">FOR GAR. DR.</tspan></text>
<rect x="640" y="620.5" width="12" height="5.8" stroke="#444" stroke-width="0.7" fill="#dcdcdc"/>
<text x="646" y="625" font-size="4.2" fill="#444" stroke="#444" stroke-width="0.2" text-anchor="middle"><tspan x="646">MH-3</tspan></text>
<polygon points="607.9,589.95 613.4,580.05 618.9,589.95" stroke="#333" stroke-width="0.8" fill="none"/>
<text x="613.4" y="588.35" font-size="4.2" fill="#333" stroke="#333" stroke-width="0.2" text-anchor="middle"><tspan x="613.4">B</tspan></text>
<line x1="894" y1="630" x2="1015" y2="630" stroke="#222" stroke-width="0.9"/>
<line x1="894" y1="636" x2="1015" y2="636" stroke="#222" stroke-width="1.1"/>
<rect x="894" y="630" width="13" height="6" fill="#e6e6e6"/>
<line x1="895.6" y1="630" x2="895.6" y2="636" stroke="#999" stroke-width="0.35"/>
<line x1="897.2" y1="630" x2="897.2" y2="636" stroke="#999" stroke-width="0.35"/>
<line x1="898.8" y1="630" x2="898.8" y2="636" stroke="#999" stroke-width="0.35"/>
<line x1="900.4" y1="630" x2="900.4" y2="636" stroke="#999" stroke-width="0.35"/>
<line x1="902" y1="630" x2="902" y2="636" stroke="#999" stroke-width="0.35"/>
<line x1="903.6" y1="630" x2="903.6" y2="636" stroke="#999" stroke-width="0.35"/>
<line x1="905.2" y1="630" x2="905.2" y2="636" stroke="#999" stroke-width="0.35"/>
<rect x="894" y="630" width="13" height="6" stroke="#333" stroke-width="0.9" fill="none"/>
<rect x="1003" y="630" width="12" height="6" fill="#e6e6e6"/>
<line x1="1004.6" y1="630" x2="1004.6" y2="636" stroke="#999" stroke-width="0.35"/>
<line x1="1006.2" y1="630" x2="1006.2" y2="636" stroke="#999" stroke-width="0.35"/>
<line x1="1007.8" y1="630" x2="1007.8" y2="636" stroke="#999" stroke-width="0.35"/>
<line x1="1009.4" y1="630" x2="1009.4" y2="636" stroke="#999" stroke-width="0.35"/>
<line x1="1011" y1="630" x2="1011" y2="636" stroke="#999" stroke-width="0.35"/>
<line x1="1012.6" y1="630" x2="1012.6" y2="636" stroke="#999" stroke-width="0.35"/>
<rect x="1003" y="630" width="12" height="6" stroke="#333" stroke-width="0.9" fill="none"/>
<text x="955.5" y="634.8" font-size="4" fill="#222" stroke="#222" stroke-width="0.2" text-anchor="middle"><tspan x="955.5">10'0 GAR. DR.</tspan></text>
<path d="M896,621 Q896.04,617 900,616.42 Q900.04,612.42 904,611.83 Q904.04,607.83 908,607.25 Q908.04,603.25 912,602.67 Q912.04,598.67 916,598.08 Q916.04,594.08 920,593.5 Q922.84,590.84 925.78,593.39 Q928.62,590.73 931.56,593.28 Q934.39,590.62 937.33,593.17 Q940.17,590.51 943.11,593.06 Q945.95,590.4 948.89,592.94 Q951.73,590.29 954.67,592.83 Q957.51,590.18 960.44,592.72 Q963.28,590.07 966.22,592.61 Q969.06,589.96 972,592.5 Q975.88,592.29 976.5,596.12 Q980.38,595.91 981,599.75 Q984.88,599.54 985.5,603.38 Q989.38,603.16 990,607 Q994.03,607.88 994,612 Q998.03,612.88 998,617 Q1002.03,617.88 1002,622 Q1006.18,620.82 1008.5,624.5 Q1012.68,623.32 1015,627" stroke="#444" stroke-width="0.8" fill="none"/>
<polyline points="903,623.5 919,604.5 990,604.5 1005,625" stroke="#333" stroke-width="0.9" fill="none"/>
<path d="M919,623 Q918.1,619.37 921,617 Q923.79,614.94 926.67,616.89 Q929.46,614.83 932.33,616.78 Q935.13,614.72 938,616.67 Q940.79,614.61 943.67,616.56 Q946.46,614.5 949.33,616.44 Q952.13,614.39 955,616.33 Q957.79,614.28 960.67,616.22 Q963.46,614.17 966.33,616.11 Q969.13,614.06 972,616 Q975.32,616.8 975.6,620.2 Q978.92,621 979.2,624.4 Q982.52,625.2 982.8,628.6 Q986.12,629.4 986.4,632.8 Q989.72,633.6 990,637 Q993.21,636.63 994.33,639.67 Q997.55,639.3 998.67,642.33 Q1001.88,641.96 1003,645" stroke="#444" stroke-width="0.8" fill="none"/>
<path d="M890,640 Q893.2,639.9 894,643 Q897.2,642.9 898,646 Q901,644 904,646 Q907,644 910,646 Q909.21,643.11 912,642 Q911.21,639.11 914,638 Q911.42,636.42 912.67,633.67 Q910.09,632.09 911.33,629.33 Q908.76,627.75 910,625" stroke="#444" stroke-width="0.8" fill="none"/>
<circle cx="954.5" cy="605" r="8" stroke="#333" stroke-width="0.8" fill="#fff"/>
<text x="954.5" y="603.2" font-size="4" fill="#222" stroke="#222" stroke-width="0.2" text-anchor="middle"><tspan x="954.5">2</tspan></text>
<text x="954.5" y="611" font-size="4" fill="#222" stroke="#222" stroke-width="0.2" text-anchor="middle"><tspan x="954.5">6</tspan></text>
<text x="939" y="622" font-size="4.5" fill="#222" stroke="#222" stroke-width="0.2" text-anchor="start"><tspan x="939">RECESS SLAB</tspan><tspan x="939" dy="4.6">FOR GAR. DR.</tspan></text>
<rect x="971" y="620.5" width="12" height="5.8" stroke="#444" stroke-width="0.7" fill="#dcdcdc"/>
<text x="977" y="625" font-size="4.2" fill="#444" stroke="#444" stroke-width="0.2" text-anchor="middle"><tspan x="977">MH-3</tspan></text>
<polygon points="945,589.95 950.5,580.05 956,589.95" stroke="#333" stroke-width="0.8" fill="none"/>
<text x="950.5" y="588.35" font-size="4.2" fill="#333" stroke="#333" stroke-width="0.2" text-anchor="middle"><tspan x="950.5">B</tspan></text>
<line x1="548" y1="636" x2="1028.75" y2="636" stroke="#222" stroke-width="1"/>
<polyline points="600,620 600,634" stroke="#444" stroke-width="0.7" fill="none"/>
<circle cx="600" cy="634" r="0.8" fill="#333"/>
<polyline points="937,620.5 933,620.5 935,634" stroke="#444" stroke-width="0.7" fill="none"/>
<circle cx="935" cy="634" r="0.8" fill="#333"/>
<line x1="573" y1="646" x2="672" y2="646" stroke="#444" stroke-width="0.8"/>
<circle cx="573" cy="646" r="0.9" fill="#333"/>
<circle cx="672" cy="646" r="0.9" fill="#333"/>
<text x="622.5" y="644.6" font-size="4.4" fill="#444" stroke="#444" stroke-width="0.2" text-anchor="middle"><tspan x="622.5">10'-0"</tspan></text>
<line x1="548" y1="654" x2="697" y2="654" stroke="#444" stroke-width="0.8"/>
<circle cx="561.5" cy="654" r="0.9" fill="#333"/>
<circle cx="684" cy="654" r="0.9" fill="#333"/>
<text x="622.75" y="652.6" font-size="4.4" fill="#444" stroke="#444" stroke-width="0.2" text-anchor="middle"><tspan x="622.75">12'-4"</tspan></text>
<text x="553" y="652" font-size="4.2" fill="#222" stroke="#222" stroke-width="0.2" text-anchor="middle"><tspan x="553">1'-4"</tspan></text>
<text x="690" y="652" font-size="4.2" fill="#222" stroke="#222" stroke-width="0.2" text-anchor="middle"><tspan x="690">1'-4"</tspan></text>
<line x1="548" y1="661.9" x2="697" y2="661.9" stroke="#444" stroke-width="0.8"/>
<circle cx="548" cy="661.9" r="0.9" fill="#333"/>
<circle cx="697" cy="661.9" r="0.9" fill="#333"/>
<text x="622.5" y="660.5" font-size="4.4" fill="#444" stroke="#444" stroke-width="0.2" text-anchor="middle"><tspan x="622.5">15'-0"</tspan></text>
<text x="569" y="644" font-size="4" fill="#222" stroke="#222" stroke-width="0.2" text-anchor="middle"><tspan x="569">2'-0"</tspan></text>
<text x="676" y="644" font-size="4" fill="#222" stroke="#222" stroke-width="0.2" text-anchor="middle"><tspan x="676">2'-0"</tspan></text>
<line x1="906" y1="646" x2="1003" y2="646" stroke="#444" stroke-width="0.8"/>
<circle cx="906" cy="646" r="0.9" fill="#333"/>
<circle cx="1003" cy="646" r="0.9" fill="#333"/>
<text x="954.5" y="644.6" font-size="4.4" fill="#444" stroke="#444" stroke-width="0.2" text-anchor="middle"><tspan x="954.5">10'-0"</tspan></text>
<line x1="880" y1="654" x2="1028.75" y2="654" stroke="#444" stroke-width="0.8"/>
<circle cx="894" cy="654" r="0.9" fill="#333"/>
<circle cx="1015" cy="654" r="0.9" fill="#333"/>
<text x="954.5" y="652.6" font-size="4.4" fill="#444" stroke="#444" stroke-width="0.2" text-anchor="middle"><tspan x="954.5">12'-4"</tspan></text>
<text x="885" y="652" font-size="4.2" fill="#222" stroke="#222" stroke-width="0.2" text-anchor="middle"><tspan x="885">1'-4"</tspan></text>
<text x="1021" y="652" font-size="4.2" fill="#222" stroke="#222" stroke-width="0.2" text-anchor="middle"><tspan x="1021">1'-4"</tspan></text>
<line x1="880" y1="661.9" x2="1028.75" y2="661.9" stroke="#444" stroke-width="0.8"/>
<circle cx="880" cy="661.9" r="0.9" fill="#333"/>
<circle cx="1028.75" cy="661.9" r="0.9" fill="#333"/>
<text x="954.38" y="660.5" font-size="4.4" fill="#444" stroke="#444" stroke-width="0.2" text-anchor="middle"><tspan x="954.38">15'-0"</tspan></text>
<text x="899" y="644" font-size="4" fill="#222" stroke="#222" stroke-width="0.2" text-anchor="middle"><tspan x="899">2'-4"</tspan></text>
<text x="1006" y="644" font-size="4" fill="#222" stroke="#222" stroke-width="0.2" text-anchor="middle"><tspan x="1006">2'-0"</tspan></text>
<line x1="561.5" y1="636" x2="561.5" y2="656" stroke="#777" stroke-width="0.6"/>
<line x1="573" y1="636" x2="573" y2="656" stroke="#777" stroke-width="0.6"/>
<line x1="672" y1="636" x2="672" y2="656" stroke="#777" stroke-width="0.6"/>
<line x1="684" y1="636" x2="684" y2="656" stroke="#777" stroke-width="0.6"/>
<line x1="894" y1="636" x2="894" y2="656" stroke="#777" stroke-width="0.6"/>
<line x1="906" y1="636" x2="906" y2="656" stroke="#777" stroke-width="0.6"/>
<line x1="1003" y1="636" x2="1003" y2="656" stroke="#777" stroke-width="0.6"/>
<line x1="1015" y1="636" x2="1015" y2="656" stroke="#777" stroke-width="0.6"/>
<line x1="697" y1="636" x2="697" y2="662" stroke="#3a3a3a" stroke-width="0.7"/>
<line x1="880" y1="636" x2="880" y2="662" stroke="#3a3a3a" stroke-width="0.7"/>
<text x="530" y="631.5" font-size="3.8" fill="#666" stroke="#666" stroke-width="0.2" text-anchor="start"><tspan x="530">HB</tspan></text>
<circle cx="540" cy="630" r="1.4" stroke="#666" stroke-width="0.6" fill="none"/>
<text x="497" y="642.3" font-size="4.35" fill="#555" stroke="#555" stroke-width="0.2" text-anchor="start"><tspan x="497">HOSE BIB W/</tspan><tspan x="497" dy="4.7">BACKFLOW</tspan><tspan x="497" dy="4.7">PREVENTER</tspan></text>
<polyline points="531,643 535,643 541,633" stroke="#444" stroke-width="0.7" fill="none"/>
<text x="1034" y="630.5" font-size="3.8" fill="#666" stroke="#666" stroke-width="0.2" text-anchor="start"><tspan x="1034">HB</tspan></text>
<text x="1046" y="645.3" font-size="4.35" fill="#555" stroke="#555" stroke-width="0.2" text-anchor="start"><tspan x="1046">HOSE BIB W/</tspan><tspan x="1046" dy="4.7">BACKFLOW</tspan><tspan x="1046" dy="4.7">PREVENTER</tspan></text>
<polyline points="1044,644 1040,644 1034,633" stroke="#444" stroke-width="0.7" fill="none"/>
<rect x="1022" y="506" width="5.5" height="12" fill="#9a9a9a"/>
<rect x="1022" y="506" width="5.5" height="12" stroke="#333" stroke-width="0.8" fill="none"/>
<rect x="1030" y="513.5" width="6" height="6.5" stroke="#444" stroke-width="0.7" fill="none"/>
<text x="1033" y="518.7" font-size="4.2" fill="#444" stroke="#444" stroke-width="0.2" text-anchor="middle"><tspan x="1033">7</tspan></text>
<text x="981" y="503.3" font-size="4.35" fill="#222" stroke="#222" stroke-width="0.2" text-anchor="start"><tspan x="981">10"X8" SMART</tspan><tspan x="981" dy="4.8">FLOOD VENT</tspan></text>
<polyline points="1006,507 1012,507 1021,512" stroke="#444" stroke-width="0.7" fill="none"/>
<rect x="1006" y="543" width="11.5" height="5.5" stroke="#444" stroke-width="0.7" fill="#dcdcdc"/>
<text x="1011.75" y="547.2" font-size="4.2" fill="#444" stroke="#444" stroke-width="0.2" text-anchor="middle"><tspan x="1011.75">MH-3</tspan></text>
<rect x="1006" y="600" width="11.5" height="5.5" stroke="#444" stroke-width="0.7" fill="#dcdcdc"/>
<text x="1011.75" y="604.2" font-size="4.2" fill="#444" stroke="#444" stroke-width="0.2" text-anchor="middle"><tspan x="1011.75">MH-3</tspan></text>
<rect x="1032" y="597" width="6" height="5.5" stroke="#444" stroke-width="0.7" fill="none"/>
<text x="1035" y="601.2" font-size="4.2" fill="#444" stroke="#444" stroke-width="0.2" text-anchor="middle"><tspan x="1035">8</tspan></text>
<rect x="1022" y="597" width="5.5" height="13" fill="#9a9a9a"/>
<rect x="1022" y="597" width="5.5" height="13" stroke="#333" stroke-width="0.8" fill="none"/>
<text x="1050" y="607.3" font-size="4.35" fill="#222" stroke="#222" stroke-width="0.2" text-anchor="start"><tspan x="1050">10"X8" SMART</tspan><tspan x="1050" dy="4.8">FLOOD VENT</tspan></text>
<polyline points="1048,606 1044,606 1030,602" stroke="#444" stroke-width="0.7" fill="none"/>
<path d="M911,463 Q911.88,460.07 912.17,463.12 Q913.6,460.42 913.3,463.46 Q915.23,461.09 914.33,464.01 Q916.69,462.07 915.24,464.76 Q917.93,463.31 915.99,465.67 Q918.91,464.77 916.54,466.7 Q919.58,466.4 916.88,467.83 Q919.93,468.12 917,469 Q920,473.5 917,478 Q920,482.5 917,487 Q919.93,487.88 916.88,488.17 Q919.58,489.6 916.54,489.3 Q918.91,491.23 915.99,490.33 Q917.93,492.69 915.24,491.24 Q916.69,493.93 914.33,491.99 Q915.23,494.91 913.3,492.54 Q913.6,495.58 912.17,492.88 Q911.88,495.93 911,493 Q906.83,496 902.67,493 Q898.5,496 894.33,493 Q890.17,496 886,493 Q885.12,495.93 884.83,492.88 Q883.4,495.58 883.7,492.54 Q881.77,494.91 882.67,491.99 Q880.31,493.93 881.76,491.24 Q879.07,492.69 881.01,490.33 Q878.09,491.23 880.46,489.3 Q877.42,489.6 880.12,488.17 Q877.07,487.88 880,487 Q877,482.5 880,478 Q877,473.5 880,469 Q877.07,468.12 880.12,467.83 Q877.42,466.4 880.46,466.7 Q878.09,464.77 881.01,465.67 Q879.07,463.31 881.76,464.76 Q880.31,462.07 882.67,464.01 Q881.77,461.09 883.7,463.46 Q883.4,460.42 884.83,463.12 Q885.12,460.07 886,463 Q890.17,460 894.33,463 Q898.5,460 902.67,463 Q906.83,460 911,463 Z" stroke="#444" stroke-width="0.8" fill="none"/>
<text x="888" y="471.3" font-size="4.35" fill="#222" stroke="#222" stroke-width="0.2" text-anchor="start"><tspan x="888">GIRDER</tspan><tspan x="888" dy="4.6">ABOVE</tspan><tspan x="888" dy="4.6">SEE TRUSS</tspan><tspan x="888" dy="4.6">PLAN</tspan></text>
<polyline points="887,470 879,470" stroke="#444" stroke-width="0.7" fill="none"/>
<polygon points="894,505.45 899.5,495.55 905,505.45" stroke="#333" stroke-width="0.8" fill="none"/>
<text x="899.5" y="503.85" font-size="4.2" fill="#333" stroke="#333" stroke-width="0.2" text-anchor="middle"><tspan x="899.5">B</tspan></text>
<text x="806" y="516.5" font-size="4.2" fill="#222" stroke="#222" stroke-width="0.2" text-anchor="start"><tspan x="806">CJ</tspan></text>
<text x="989" y="516.5" font-size="4.2" fill="#222" stroke="#222" stroke-width="0.2" text-anchor="start"><tspan x="989">CJ</tspan></text>
<line x1="877" y1="535.75" x2="1021.5" y2="535.75" stroke="#444" stroke-width="0.8"/>
<circle cx="877" cy="535.75" r="0.9" fill="#333"/>
<circle cx="1021.5" cy="535.75" r="0.9" fill="#333"/>
<line x1="910" y1="517.5" x2="910" y2="572" stroke="#3a3a3a" stroke-width="0.7"/>
<circle cx="910" cy="527.5" r="0.9" fill="#333"/>
<line x1="877" y1="527.5" x2="910" y2="527.5" stroke="#3a3a3a" stroke-width="0.7"/>
<circle cx="910" cy="547.5" r="0.9" fill="#333"/>
<line x1="877" y1="547.5" x2="910" y2="547.5" stroke="#3a3a3a" stroke-width="0.7"/>
<circle cx="910" cy="571" r="0.9" fill="#333"/>
<line x1="877" y1="571" x2="910" y2="571" stroke="#3a3a3a" stroke-width="0.7"/>
<text x="907.5" y="523" font-size="3.8" fill="#222" stroke="#222" stroke-width="0.2" text-anchor="middle" transform="rotate(-90 907.5 523)"><tspan x="907.5">1'-0"</tspan></text>
<text x="907.5" y="537" font-size="3.8" fill="#222" stroke="#222" stroke-width="0.2" text-anchor="middle" transform="rotate(-90 907.5 537)"><tspan x="907.5">2'-0"</tspan></text>
<text x="907.5" y="559" font-size="3.8" fill="#222" stroke="#222" stroke-width="0.2" text-anchor="middle" transform="rotate(-90 907.5 559)"><tspan x="907.5">2'-4"</tspan></text>
<text x="917" y="543" font-size="3.8" fill="#222" stroke="#222" stroke-width="0.2" text-anchor="middle" transform="rotate(-90 917 543)"><tspan x="917">5'-4"</tspan></text>
<text x="881" y="560" font-size="3.6" fill="#222" stroke="#222" stroke-width="0.2" text-anchor="start"><tspan x="881">4"</tspan></text>
<text x="886" y="560" font-size="3.8" fill="#222" stroke="#222" stroke-width="0.2" text-anchor="start"><tspan x="886">1'-4"</tspan></text>
<line x1="880" y1="562" x2="894" y2="562" stroke="#3a3a3a" stroke-width="0.7"/>
<line x1="894" y1="562" x2="894" y2="571.5" stroke="#3a3a3a" stroke-width="0.7"/>
<rect x="880.5" y="572" width="13" height="11.5" stroke="#222" stroke-width="1.1" fill="#fff"/>
<rect x="882.37" y="573.45" width="3.1" height="3.1" stroke="#1a1a1a" stroke-width="1.2" fill="none"/>
<rect x="882.37" y="578.95" width="3.1" height="3.1" stroke="#1a1a1a" stroke-width="1.2" fill="none"/>
<rect x="888.53" y="573.45" width="3.1" height="3.1" stroke="#1a1a1a" stroke-width="1.2" fill="none"/>
<rect x="888.53" y="578.95" width="3.1" height="3.1" stroke="#1a1a1a" stroke-width="1.2" fill="none"/>
<rect x="880.5" y="584" width="6.5" height="39.75" fill="#e6e6e6"/>
<line x1="880.5" y1="585.6" x2="887" y2="585.6" stroke="#999" stroke-width="0.35"/>
<line x1="880.5" y1="587.2" x2="887" y2="587.2" stroke="#999" stroke-width="0.35"/>
<line x1="880.5" y1="588.8" x2="887" y2="588.8" stroke="#999" stroke-width="0.35"/>
<line x1="880.5" y1="590.4" x2="887" y2="590.4" stroke="#999" stroke-width="0.35"/>
<line x1="880.5" y1="592" x2="887" y2="592" stroke="#999" stroke-width="0.35"/>
<line x1="880.5" y1="593.6" x2="887" y2="593.6" stroke="#999" stroke-width="0.35"/>
<line x1="880.5" y1="595.2" x2="887" y2="595.2" stroke="#999" stroke-width="0.35"/>
<line x1="880.5" y1="596.8" x2="887" y2="596.8" stroke="#999" stroke-width="0.35"/>
<line x1="880.5" y1="598.4" x2="887" y2="598.4" stroke="#999" stroke-width="0.35"/>
<line x1="880.5" y1="600" x2="887" y2="600" stroke="#999" stroke-width="0.35"/>
<line x1="880.5" y1="601.6" x2="887" y2="601.6" stroke="#999" stroke-width="0.35"/>
<line x1="880.5" y1="603.2" x2="887" y2="603.2" stroke="#999" stroke-width="0.35"/>
<line x1="880.5" y1="604.8" x2="887" y2="604.8" stroke="#999" stroke-width="0.35"/>
<line x1="880.5" y1="606.4" x2="887" y2="606.4" stroke="#999" stroke-width="0.35"/>
<line x1="880.5" y1="608" x2="887" y2="608" stroke="#999" stroke-width="0.35"/>
<line x1="880.5" y1="609.6" x2="887" y2="609.6" stroke="#999" stroke-width="0.35"/>
<line x1="880.5" y1="611.2" x2="887" y2="611.2" stroke="#999" stroke-width="0.35"/>
<line x1="880.5" y1="612.8" x2="887" y2="612.8" stroke="#999" stroke-width="0.35"/>
<line x1="880.5" y1="614.4" x2="887" y2="614.4" stroke="#999" stroke-width="0.35"/>
<line x1="880.5" y1="616" x2="887" y2="616" stroke="#999" stroke-width="0.35"/>
<line x1="880.5" y1="617.6" x2="887" y2="617.6" stroke="#999" stroke-width="0.35"/>
<line x1="880.5" y1="619.2" x2="887" y2="619.2" stroke="#999" stroke-width="0.35"/>
<line x1="880.5" y1="620.8" x2="887" y2="620.8" stroke="#999" stroke-width="0.35"/>
<rect x="880.5" y="584" width="6.5" height="39.75" stroke="#333" stroke-width="0.9" fill="none"/>
<rect x="881" y="598" width="5.5" height="14" fill="#9a9a9a"/>
<rect x="881" y="598" width="5.5" height="14" stroke="#333" stroke-width="0.8" fill="none"/>
<text x="889" y="596.8" font-size="4.35" fill="#222" stroke="#222" stroke-width="0.2" text-anchor="start"><tspan x="889">10"X8" SMART</tspan><tspan x="889" dy="4.8">FLOOD VENT</tspan></text>
<rect x="890" y="607" width="5.5" height="6.5" stroke="#444" stroke-width="0.7" fill="none"/>
<text x="892.75" y="612.2" font-size="4.2" fill="#444" stroke="#444" stroke-width="0.2" text-anchor="middle"><tspan x="892.75">9</tspan></text>
<rect x="868" y="606" width="11" height="5.5" stroke="#444" stroke-width="0.7" fill="#dcdcdc"/>
<text x="873.5" y="610.2" font-size="4.2" fill="#444" stroke="#444" stroke-width="0.2" text-anchor="middle"><tspan x="873.5">MH-3</tspan></text>
<line x1="902" y1="603" x2="902" y2="623" stroke="#3a3a3a" stroke-width="0.7"/>
<circle cx="902" cy="603" r="0.9" fill="#333"/>
<text x="900" y="614" font-size="3.8" fill="#222" stroke="#222" stroke-width="0.2" text-anchor="middle" transform="rotate(-90 900 614)"><tspan x="900">2'-0"</tspan></text>
<path d="M537,657 Q539.8,661.58 537,666.15 Q539.8,670.73 537,675.31 Q539.8,679.88 537,684.46 Q539.8,689.04 537,693.62 Q539.8,698.19 537,702.77 Q539.8,707.35 537,711.92 Q539.8,716.5 537,721.08 Q539.8,725.65 537,730.23 Q539.8,734.81 537,739.38 Q539.8,743.96 537,748.54 Q539.8,753.12 537,757.69 Q539.8,762.27 537,766.85 Q539.8,771.42 537,776 Q541.74,773.2 546.49,776 Q551.23,773.2 555.98,776 Q560.72,773.2 565.46,776 Q570.21,773.2 574.95,776 Q579.7,773.2 584.44,776 Q589.18,773.2 593.93,776 Q598.67,773.2 603.41,776 Q608.16,773.2 612.9,776 Q617.65,773.2 622.39,776 Q627.13,773.2 631.88,776 Q636.62,773.2 641.37,776 Q646.11,773.2 650.85,776 Q655.6,773.2 660.34,776 Q665.09,773.2 669.83,776 Q674.57,773.2 679.32,776 Q684.06,773.2 688.8,776 Q693.55,773.2 698.29,776 Q703.04,773.2 707.78,776 Q712.52,773.2 717.27,776 Q722.01,773.2 726.76,776 Q731.5,773.2 736.24,776 Q740.99,773.2 745.73,776 Q750.48,773.2 755.22,776 Q759.96,773.2 764.71,776 Q769.45,773.2 774.2,776 Q778.94,773.2 783.68,776 Q788.43,773.2 793.17,776 Q797.91,773.2 802.66,776 Q807.4,773.2 812.15,776 Q816.89,773.2 821.63,776 Q826.38,773.2 831.12,776 Q835.87,773.2 840.61,776 Q845.35,773.2 850.1,776 Q854.84,773.2 859.59,776 Q864.33,773.2 869.07,776 Q873.82,773.2 878.56,776 Q883.3,773.2 888.05,776 Q892.79,773.2 897.54,776 Q902.28,773.2 907.02,776 Q911.77,773.2 916.51,776 Q921.26,773.2 926,776 Q923.2,771.42 926,766.85 Q923.2,762.27 926,757.69 Q923.2,753.12 926,748.54 Q923.2,743.96 926,739.38 Q923.2,734.81 926,730.23 Q923.2,725.65 926,721.08 Q923.2,716.5 926,711.92 Q923.2,707.35 926,702.77 Q923.2,698.19 926,693.62 Q923.2,689.04 926,684.46 Q923.2,679.88 926,675.31 Q923.2,670.73 926,666.15 Q923.2,661.58 926,657" stroke="#444" stroke-width="0.8" fill="none"/>
<rect x="768.5" y="630" width="40" height="6.5" fill="#fff"/>
<line x1="768.5" y1="630" x2="808.5" y2="630" stroke="#222" stroke-width="1"/>
<line x1="768.5" y1="636.5" x2="808.5" y2="636.5" stroke="#222" stroke-width="1"/>
<rect x="770.2" y="631.45" width="3.6" height="3.6" stroke="#222" stroke-width="0.9" fill="none"/>
<rect x="803.2" y="631.45" width="3.6" height="3.6" stroke="#222" stroke-width="0.9" fill="none"/>
<rect x="768.5" y="636.5" width="6.5" height="65.5" fill="#e6e6e6"/>
<line x1="768.5" y1="638.1" x2="775" y2="638.1" stroke="#999" stroke-width="0.35"/>
<line x1="768.5" y1="639.7" x2="775" y2="639.7" stroke="#999" stroke-width="0.35"/>
<line x1="768.5" y1="641.3" x2="775" y2="641.3" stroke="#999" stroke-width="0.35"/>
<line x1="768.5" y1="642.9" x2="775" y2="642.9" stroke="#999" stroke-width="0.35"/>
<line x1="768.5" y1="644.5" x2="775" y2="644.5" stroke="#999" stroke-width="0.35"/>
<line x1="768.5" y1="646.1" x2="775" y2="646.1" stroke="#999" stroke-width="0.35"/>
<line x1="768.5" y1="647.7" x2="775" y2="647.7" stroke="#999" stroke-width="0.35"/>
<line x1="768.5" y1="649.3" x2="775" y2="649.3" stroke="#999" stroke-width="0.35"/>
<line x1="768.5" y1="650.9" x2="775" y2="650.9" stroke="#999" stroke-width="0.35"/>
<line x1="768.5" y1="652.5" x2="775" y2="652.5" stroke="#999" stroke-width="0.35"/>
<line x1="768.5" y1="654.1" x2="775" y2="654.1" stroke="#999" stroke-width="0.35"/>
<line x1="768.5" y1="655.7" x2="775" y2="655.7" stroke="#999" stroke-width="0.35"/>
<line x1="768.5" y1="657.3" x2="775" y2="657.3" stroke="#999" stroke-width="0.35"/>
<line x1="768.5" y1="658.9" x2="775" y2="658.9" stroke="#999" stroke-width="0.35"/>
<line x1="768.5" y1="660.5" x2="775" y2="660.5" stroke="#999" stroke-width="0.35"/>
<line x1="768.5" y1="662.1" x2="775" y2="662.1" stroke="#999" stroke-width="0.35"/>
<line x1="768.5" y1="663.7" x2="775" y2="663.7" stroke="#999" stroke-width="0.35"/>
<line x1="768.5" y1="665.3" x2="775" y2="665.3" stroke="#999" stroke-width="0.35"/>
<line x1="768.5" y1="666.9" x2="775" y2="666.9" stroke="#999" stroke-width="0.35"/>
<line x1="768.5" y1="668.5" x2="775" y2="668.5" stroke="#999" stroke-width="0.35"/>
<line x1="768.5" y1="670.1" x2="775" y2="670.1" stroke="#999" stroke-width="0.35"/>
<line x1="768.5" y1="671.7" x2="775" y2="671.7" stroke="#999" stroke-width="0.35"/>
<line x1="768.5" y1="673.3" x2="775" y2="673.3" stroke="#999" stroke-width="0.35"/>
<line x1="768.5" y1="674.9" x2="775" y2="674.9" stroke="#999" stroke-width="0.35"/>
<line x1="768.5" y1="676.5" x2="775" y2="676.5" stroke="#999" stroke-width="0.35"/>
<line x1="768.5" y1="678.1" x2="775" y2="678.1" stroke="#999" stroke-width="0.35"/>
<line x1="768.5" y1="679.7" x2="775" y2="679.7" stroke="#999" stroke-width="0.35"/>
<line x1="768.5" y1="681.3" x2="775" y2="681.3" stroke="#999" stroke-width="0.35"/>
<line x1="768.5" y1="682.9" x2="775" y2="682.9" stroke="#999" stroke-width="0.35"/>
<line x1="768.5" y1="684.5" x2="775" y2="684.5" stroke="#999" stroke-width="0.35"/>
<line x1="768.5" y1="686.1" x2="775" y2="686.1" stroke="#999" stroke-width="0.35"/>
<line x1="768.5" y1="687.7" x2="775" y2="687.7" stroke="#999" stroke-width="0.35"/>
<line x1="768.5" y1="689.3" x2="775" y2="689.3" stroke="#999" stroke-width="0.35"/>
<line x1="768.5" y1="690.9" x2="775" y2="690.9" stroke="#999" stroke-width="0.35"/>
<line x1="768.5" y1="692.5" x2="775" y2="692.5" stroke="#999" stroke-width="0.35"/>
<line x1="768.5" y1="694.1" x2="775" y2="694.1" stroke="#999" stroke-width="0.35"/>
<line x1="768.5" y1="695.7" x2="775" y2="695.7" stroke="#999" stroke-width="0.35"/>
<line x1="768.5" y1="697.3" x2="775" y2="697.3" stroke="#999" stroke-width="0.35"/>
<line x1="768.5" y1="698.9" x2="775" y2="698.9" stroke="#999" stroke-width="0.35"/>
<rect x="768.5" y="636.5" width="6.5" height="65.5" stroke="#333" stroke-width="0.9" fill="none"/>
<rect x="801.75" y="636.5" width="6.75" height="65.5" fill="#e6e6e6"/>
<line x1="801.75" y1="638.1" x2="808.5" y2="638.1" stroke="#999" stroke-width="0.35"/>
<line x1="801.75" y1="639.7" x2="808.5" y2="639.7" stroke="#999" stroke-width="0.35"/>
<line x1="801.75" y1="641.3" x2="808.5" y2="641.3" stroke="#999" stroke-width="0.35"/>
<line x1="801.75" y1="642.9" x2="808.5" y2="642.9" stroke="#999" stroke-width="0.35"/>
<line x1="801.75" y1="644.5" x2="808.5" y2="644.5" stroke="#999" stroke-width="0.35"/>
<line x1="801.75" y1="646.1" x2="808.5" y2="646.1" stroke="#999" stroke-width="0.35"/>
<line x1="801.75" y1="647.7" x2="808.5" y2="647.7" stroke="#999" stroke-width="0.35"/>
<line x1="801.75" y1="649.3" x2="808.5" y2="649.3" stroke="#999" stroke-width="0.35"/>
<line x1="801.75" y1="650.9" x2="808.5" y2="650.9" stroke="#999" stroke-width="0.35"/>
<line x1="801.75" y1="652.5" x2="808.5" y2="652.5" stroke="#999" stroke-width="0.35"/>
<line x1="801.75" y1="654.1" x2="808.5" y2="654.1" stroke="#999" stroke-width="0.35"/>
<line x1="801.75" y1="655.7" x2="808.5" y2="655.7" stroke="#999" stroke-width="0.35"/>
<line x1="801.75" y1="657.3" x2="808.5" y2="657.3" stroke="#999" stroke-width="0.35"/>
<line x1="801.75" y1="658.9" x2="808.5" y2="658.9" stroke="#999" stroke-width="0.35"/>
<line x1="801.75" y1="660.5" x2="808.5" y2="660.5" stroke="#999" stroke-width="0.35"/>
<line x1="801.75" y1="662.1" x2="808.5" y2="662.1" stroke="#999" stroke-width="0.35"/>
<line x1="801.75" y1="663.7" x2="808.5" y2="663.7" stroke="#999" stroke-width="0.35"/>
<line x1="801.75" y1="665.3" x2="808.5" y2="665.3" stroke="#999" stroke-width="0.35"/>
<line x1="801.75" y1="666.9" x2="808.5" y2="666.9" stroke="#999" stroke-width="0.35"/>
<line x1="801.75" y1="668.5" x2="808.5" y2="668.5" stroke="#999" stroke-width="0.35"/>
<line x1="801.75" y1="670.1" x2="808.5" y2="670.1" stroke="#999" stroke-width="0.35"/>
<line x1="801.75" y1="671.7" x2="808.5" y2="671.7" stroke="#999" stroke-width="0.35"/>
<line x1="801.75" y1="673.3" x2="808.5" y2="673.3" stroke="#999" stroke-width="0.35"/>
<line x1="801.75" y1="674.9" x2="808.5" y2="674.9" stroke="#999" stroke-width="0.35"/>
<line x1="801.75" y1="676.5" x2="808.5" y2="676.5" stroke="#999" stroke-width="0.35"/>
<line x1="801.75" y1="678.1" x2="808.5" y2="678.1" stroke="#999" stroke-width="0.35"/>
<line x1="801.75" y1="679.7" x2="808.5" y2="679.7" stroke="#999" stroke-width="0.35"/>
<line x1="801.75" y1="681.3" x2="808.5" y2="681.3" stroke="#999" stroke-width="0.35"/>
<line x1="801.75" y1="682.9" x2="808.5" y2="682.9" stroke="#999" stroke-width="0.35"/>
<line x1="801.75" y1="684.5" x2="808.5" y2="684.5" stroke="#999" stroke-width="0.35"/>
<line x1="801.75" y1="686.1" x2="808.5" y2="686.1" stroke="#999" stroke-width="0.35"/>
<line x1="801.75" y1="687.7" x2="808.5" y2="687.7" stroke="#999" stroke-width="0.35"/>
<line x1="801.75" y1="689.3" x2="808.5" y2="689.3" stroke="#999" stroke-width="0.35"/>
<line x1="801.75" y1="690.9" x2="808.5" y2="690.9" stroke="#999" stroke-width="0.35"/>
<line x1="801.75" y1="692.5" x2="808.5" y2="692.5" stroke="#999" stroke-width="0.35"/>
<line x1="801.75" y1="694.1" x2="808.5" y2="694.1" stroke="#999" stroke-width="0.35"/>
<line x1="801.75" y1="695.7" x2="808.5" y2="695.7" stroke="#999" stroke-width="0.35"/>
<line x1="801.75" y1="697.3" x2="808.5" y2="697.3" stroke="#999" stroke-width="0.35"/>
<line x1="801.75" y1="698.9" x2="808.5" y2="698.9" stroke="#999" stroke-width="0.35"/>
<rect x="801.75" y="636.5" width="6.75" height="65.5" stroke="#333" stroke-width="0.9" fill="none"/>
<rect x="769" y="669" width="5.5" height="13" fill="#9a9a9a"/>
<rect x="769" y="669" width="5.5" height="13" stroke="#333" stroke-width="0.8" fill="none"/>
<rect x="802.2" y="669" width="5.8" height="13" fill="#9a9a9a"/>
<rect x="802.2" y="669" width="5.8" height="13" stroke="#333" stroke-width="0.8" fill="none"/>
<line x1="768.5" y1="630" x2="768.5" y2="702" stroke="#222" stroke-width="1"/>
<line x1="808.5" y1="630" x2="808.5" y2="702" stroke="#222" stroke-width="1"/>
<line x1="751.9" y1="636.5" x2="751.9" y2="702" stroke="#555" stroke-width="0.7"/>
<circle cx="782.5" cy="614.4" r="7.5" stroke="#222" stroke-width="1" fill="none"/>
<line x1="775" y1="614.4" x2="790" y2="614.4" stroke="#222" stroke-width="0.8"/>
<path d="M782.5,606.9 L771.2,614.4 L782.5,621.9" stroke="#222" stroke-width="1.6" fill="none"/>
<text x="782.5" y="612.8" font-size="3.8" fill="#222" stroke="#222" stroke-width="0.2" text-anchor="middle"><tspan x="782.5">1</tspan></text>
<text x="782.5" y="620" font-size="3.8" fill="#222" stroke="#222" stroke-width="0.2" text-anchor="middle"><tspan x="782.5">6</tspan></text>
<line x1="782.5" y1="622" x2="782.5" y2="665" stroke="#333" stroke-width="0.9"/>
<line x1="775" y1="665" x2="782.5" y2="665" stroke="#333" stroke-width="0.9"/>
<line x1="697" y1="626.5" x2="1015" y2="626.5" stroke="#444" stroke-width="0.8"/>
<circle cx="697" cy="626.5" r="0.9" fill="#333"/>
<circle cx="768.5" cy="626.5" r="0.9" fill="#333"/>
<circle cx="808.5" cy="626.5" r="0.9" fill="#333"/>
<circle cx="880" cy="626.5" r="0.9" fill="#333"/>
<text x="732.75" y="625.1" font-size="4.4" fill="#444" stroke="#444" stroke-width="0.2" text-anchor="middle"><tspan x="732.75">7'-6"</tspan></text>
<text x="788.5" y="625.1" font-size="4.4" fill="#444" stroke="#444" stroke-width="0.2" text-anchor="middle"><tspan x="788.5">6'-0"</tspan></text>
<text x="844.25" y="625.1" font-size="4.4" fill="#444" stroke="#444" stroke-width="0.2" text-anchor="middle"><tspan x="844.25">7'-6"</tspan></text>
<line x1="697" y1="630" x2="768.5" y2="630" stroke="#777" stroke-width="0.7" stroke-dasharray="2.5,1.5"/>
<line x1="697" y1="636.5" x2="768.5" y2="636.5" stroke="#777" stroke-width="0.7" stroke-dasharray="2.5,1.5"/>
<line x1="808.5" y1="630" x2="880" y2="630" stroke="#777" stroke-width="0.7" stroke-dasharray="2.5,1.5"/>
<line x1="808.5" y1="636.5" x2="880" y2="636.5" stroke="#777" stroke-width="0.7" stroke-dasharray="2.5,1.5"/>
<rect x="725.5" y="630" width="15" height="7" stroke="#444" stroke-width="0.7" fill="none"/>
<text x="733" y="635.7" font-size="4.2" fill="#444" stroke="#444" stroke-width="0.2" text-anchor="middle"><tspan x="733">BM-1</tspan></text>
<rect x="838" y="630" width="14.5" height="6.5" stroke="#444" stroke-width="0.7" fill="none"/>
<text x="845.25" y="635.2" font-size="4.2" fill="#444" stroke="#444" stroke-width="0.2" text-anchor="middle"><tspan x="845.25">BM-1</tspan></text>
<line x1="751.9" y1="535.75" x2="751.9" y2="636.5" stroke="#444" stroke-width="0.7"/>
<path d="M815,601 Q812.5,603.4 810,601 Q807.5,603.4 805,601 Q802.5,603.4 800,601 Q797.5,603.4 795,601 Q792.5,603.4 790,601 Q787.5,603.4 785,601 Q782.5,603.4 780,601 Q777.5,603.4 775,601 Q772.5,603.4 770,601 Q767.5,603.4 765,601 Q762.5,603.4 760,601 Q762.4,603.59 760,606.18 Q762.4,608.77 760,611.36 Q762.4,613.95 760,616.55 Q762.4,619.14 760,621.73 Q762.4,624.32 760,626.91 Q762.4,629.5 760,632.09 Q762.4,634.68 760,637.27 Q762.4,639.86 760,642.45 Q762.4,645.05 760,647.64 Q762.4,650.23 760,652.82 Q762.4,655.41 760,658 Q757.58,660.4 755.15,658 Q752.73,660.4 750.31,658 Q747.88,660.4 745.46,658 Q743.04,660.4 740.62,658 Q738.19,660.4 735.77,658 Q733.35,660.4 730.92,658 Q728.5,660.4 726.08,658 Q723.65,660.4 721.23,658 Q718.81,660.4 716.38,658 Q713.96,660.4 711.54,658 Q709.12,660.4 706.69,658 Q704.27,660.4 701.85,658 Q699.42,660.4 697,658" stroke="#444" stroke-width="0.8" fill="none"/>
<path d="M815,658 Q812.6,655.58 815,653.17 Q812.6,650.75 815,648.33 Q812.6,645.92 815,643.5 Q812.6,641.08 815,638.67 Q812.6,636.25 815,633.83 Q812.6,631.42 815,629 Q812.6,626.58 815,624.17 Q812.6,621.75 815,619.33 Q812.6,616.92 815,614.5 Q812.6,612.08 815,609.67 Q812.6,607.25 815,604.83 Q812.6,602.42 815,600" stroke="#444" stroke-width="0.8" fill="none"/>
<path d="M857.5,600 Q858.23,597.06 858.38,600.09 Q859.67,597.34 859.22,600.34 Q861.03,597.9 860,600.76 Q862.24,598.72 860.68,601.32 Q863.28,599.76 861.24,602 Q864.1,600.97 861.66,602.78 Q864.66,602.33 861.91,603.62 Q864.94,603.77 862,604.5 Q865,607.5 862,610.5 Q864.94,611.23 861.91,611.38 Q864.66,612.67 861.66,612.22 Q864.1,614.03 861.24,613 Q863.28,615.24 860.68,613.68 Q862.24,616.28 860,614.24 Q861.03,617.1 859.22,614.66 Q859.67,617.66 858.38,614.91 Q858.23,617.94 857.5,615 Q853.6,618 849.7,615 Q845.8,618 841.9,615 Q838,618 834.1,615 Q830.2,618 826.3,615 Q822.4,618 818.5,615 Q817.77,617.94 817.62,614.91 Q816.33,617.66 816.78,614.66 Q814.97,617.1 816,614.24 Q813.76,616.28 815.32,613.68 Q812.72,615.24 814.76,613 Q811.9,614.03 814.34,612.22 Q811.34,612.67 814.09,611.38 Q811.06,611.23 814,610.5 Q811,607.5 814,604.5 Q811.06,603.77 814.09,603.62 Q811.34,602.33 814.34,602.78 Q811.9,600.97 814.76,602 Q812.72,599.76 815.32,601.32 Q813.76,598.72 816,600.76 Q814.97,597.9 816.78,600.34 Q816.33,597.34 817.62,600.09 Q817.77,597.06 818.5,600 Q822.4,597 826.3,600 Q830.2,597 834.1,600 Q838,597 841.9,600 Q845.8,597 849.7,600 Q853.6,597 857.5,600 Z" stroke="#444" stroke-width="0.8" fill="none"/>
<path d="M822,605.2 A2.8,2.8 0 0 1 824.8,608 L822,608 Z" fill="#222"/>
<path d="M822,610.8 A2.8,2.8 0 0 1 819.2,608 L822,608 Z" fill="#222"/>
<circle cx="822" cy="608" r="2.8" stroke="#222" stroke-width="0.7" fill="none"/>
<line x1="817.2" y1="608" x2="826.8" y2="608" stroke="#222" stroke-width="0.7"/>
<line x1="822" y1="603.2" x2="822" y2="612.8" stroke="#222" stroke-width="0.7"/>
<text x="828" y="606" font-size="4.6" fill="#222" stroke="#222" stroke-width="0.2" text-anchor="start"><tspan x="828">4.3' NAVD</tspan></text>
<line x1="822" y1="608" x2="858" y2="608" stroke="#3a3a3a" stroke-width="0.7"/>
<text x="826" y="612.3" font-size="4.35" fill="#222" stroke="#222" stroke-width="0.2" text-anchor="start"><tspan x="826">PAVERS BY</tspan><tspan x="826" dy="4.8">DRIVEWAY</tspan><tspan x="826" dy="4.8">CONTRACTOR</tspan></text>
<text x="828" y="644.3" font-size="4.35" fill="#222" stroke="#222" stroke-width="0.2" text-anchor="start"><tspan x="828">NOTE:</tspan><tspan x="828" dy="4.8">TIE BEAM TO</tspan><tspan x="828" dy="4.8">MATCH SECTION</tspan></text>
<polyline points="826,649 820,649 819,634" stroke="#444" stroke-width="0.7" fill="none"/>
<polygon points="865.5,646.95 871,637.05 876.5,646.95" stroke="#333" stroke-width="0.8" fill="none"/>
<text x="871" y="645.35" font-size="4.2" fill="#333" stroke="#333" stroke-width="0.2" text-anchor="middle"><tspan x="871">B</tspan></text>
<line x1="858" y1="618" x2="868" y2="637" stroke="#3a3a3a" stroke-width="0.6"/>
<text x="790" y="659.5" font-size="4.2" fill="#222" stroke="#222" stroke-width="0.2" text-anchor="middle"><tspan x="790">18'-8"</tspan></text>
<text x="792" y="667" font-size="4.2" fill="#222" stroke="#222" stroke-width="0.2" text-anchor="middle"><tspan x="792">48'-6"</tspan></text>
<rect x="760" y="670" width="7" height="6" stroke="#444" stroke-width="0.7" fill="none"/>
<text x="763.5" y="674.7" font-size="4.2" fill="#444" stroke="#444" stroke-width="0.2" text-anchor="middle"><tspan x="763.5">12</tspan></text>
<rect x="810" y="670" width="6.5" height="6" stroke="#444" stroke-width="0.7" fill="none"/>
<text x="813.25" y="674.7" font-size="4.2" fill="#444" stroke="#444" stroke-width="0.2" text-anchor="middle"><tspan x="813.25">13</tspan></text>
<text x="713" y="684.3" font-size="4.35" fill="#222" stroke="#222" stroke-width="0.2" text-anchor="start"><tspan x="713">10"X8" SMART</tspan><tspan x="713" dy="4.8">FLOOD VENT</tspan></text>
<polyline points="741,686 768,675" stroke="#444" stroke-width="0.7" fill="none"/>
<polyline points="741,686 801,677" stroke="#444" stroke-width="0.7" fill="none"/>
<text x="747" y="675" font-size="3.8" fill="#222" stroke="#222" stroke-width="0.2" text-anchor="middle" transform="rotate(-90 747 675)"><tspan x="747">1'-4"</tspan></text>
<text x="813.5" y="692" font-size="3.8" fill="#222" stroke="#222" stroke-width="0.2" text-anchor="middle" transform="rotate(-90 813.5 692)"><tspan x="813.5">2'-8"</tspan></text>
<text x="838" y="678.3" font-size="4.35" fill="#222" stroke="#222" stroke-width="0.2" text-anchor="start"><tspan x="838">10"X16" CMU COLUMN</tspan><tspan x="838" dy="4.9">REINFORCED W/ (4) #5</tspan><tspan x="838" dy="4.9">BARS VERT. &amp; GROUTED</tspan><tspan x="838" dy="4.9">SOLID W/ CONC.</tspan><tspan x="838" dy="4.9">(TYP. OF 4)</tspan></text>
<polyline points="835,678 830,678 810,704" stroke="#444" stroke-width="0.7" fill="none"/>
<rect x="678.5" y="702.25" width="90" height="39.65" fill="#fff"/>
<rect x="678.5" y="702.25" width="90" height="7" fill="#f4f4f4"/>
<line x1="680.5" y1="702.25" x2="680.5" y2="709.25" stroke="#999" stroke-width="0.35"/>
<line x1="682.5" y1="702.25" x2="682.5" y2="709.25" stroke="#999" stroke-width="0.35"/>
<line x1="684.5" y1="702.25" x2="684.5" y2="709.25" stroke="#999" stroke-width="0.35"/>
<line x1="686.5" y1="702.25" x2="686.5" y2="709.25" stroke="#999" stroke-width="0.35"/>
<line x1="688.5" y1="702.25" x2="688.5" y2="709.25" stroke="#999" stroke-width="0.35"/>
<line x1="690.5" y1="702.25" x2="690.5" y2="709.25" stroke="#999" stroke-width="0.35"/>
<line x1="692.5" y1="702.25" x2="692.5" y2="709.25" stroke="#999" stroke-width="0.35"/>
<line x1="694.5" y1="702.25" x2="694.5" y2="709.25" stroke="#999" stroke-width="0.35"/>
<line x1="696.5" y1="702.25" x2="696.5" y2="709.25" stroke="#999" stroke-width="0.35"/>
<line x1="698.5" y1="702.25" x2="698.5" y2="709.25" stroke="#999" stroke-width="0.35"/>
<line x1="700.5" y1="702.25" x2="700.5" y2="709.25" stroke="#999" stroke-width="0.35"/>
<line x1="702.5" y1="702.25" x2="702.5" y2="709.25" stroke="#999" stroke-width="0.35"/>
<line x1="704.5" y1="702.25" x2="704.5" y2="709.25" stroke="#999" stroke-width="0.35"/>
<line x1="706.5" y1="702.25" x2="706.5" y2="709.25" stroke="#999" stroke-width="0.35"/>
<line x1="708.5" y1="702.25" x2="708.5" y2="709.25" stroke="#999" stroke-width="0.35"/>
<line x1="710.5" y1="702.25" x2="710.5" y2="709.25" stroke="#999" stroke-width="0.35"/>
<line x1="712.5" y1="702.25" x2="712.5" y2="709.25" stroke="#999" stroke-width="0.35"/>
<line x1="714.5" y1="702.25" x2="714.5" y2="709.25" stroke="#999" stroke-width="0.35"/>
<line x1="716.5" y1="702.25" x2="716.5" y2="709.25" stroke="#999" stroke-width="0.35"/>
<line x1="718.5" y1="702.25" x2="718.5" y2="709.25" stroke="#999" stroke-width="0.35"/>
<line x1="720.5" y1="702.25" x2="720.5" y2="709.25" stroke="#999" stroke-width="0.35"/>
<line x1="722.5" y1="702.25" x2="722.5" y2="709.25" stroke="#999" stroke-width="0.35"/>
<line x1="724.5" y1="702.25" x2="724.5" y2="709.25" stroke="#999" stroke-width="0.35"/>
<line x1="726.5" y1="702.25" x2="726.5" y2="709.25" stroke="#999" stroke-width="0.35"/>
<line x1="728.5" y1="702.25" x2="728.5" y2="709.25" stroke="#999" stroke-width="0.35"/>
<line x1="730.5" y1="702.25" x2="730.5" y2="709.25" stroke="#999" stroke-width="0.35"/>
<line x1="732.5" y1="702.25" x2="732.5" y2="709.25" stroke="#999" stroke-width="0.35"/>
<line x1="734.5" y1="702.25" x2="734.5" y2="709.25" stroke="#999" stroke-width="0.35"/>
<line x1="736.5" y1="702.25" x2="736.5" y2="709.25" stroke="#999" stroke-width="0.35"/>
<line x1="738.5" y1="702.25" x2="738.5" y2="709.25" stroke="#999" stroke-width="0.35"/>
<line x1="740.5" y1="702.25" x2="740.5" y2="709.25" stroke="#999" stroke-width="0.35"/>
<line x1="742.5" y1="702.25" x2="742.5" y2="709.25" stroke="#999" stroke-width="0.35"/>
<line x1="744.5" y1="702.25" x2="744.5" y2="709.25" stroke="#999" stroke-width="0.35"/>
<line x1="746.5" y1="702.25" x2="746.5" y2="709.25" stroke="#999" stroke-width="0.35"/>
<line x1="748.5" y1="702.25" x2="748.5" y2="709.25" stroke="#999" stroke-width="0.35"/>
<line x1="750.5" y1="702.25" x2="750.5" y2="709.25" stroke="#999" stroke-width="0.35"/>
<line x1="752.5" y1="702.25" x2="752.5" y2="709.25" stroke="#999" stroke-width="0.35"/>
<line x1="754.5" y1="702.25" x2="754.5" y2="709.25" stroke="#999" stroke-width="0.35"/>
<line x1="756.5" y1="702.25" x2="756.5" y2="709.25" stroke="#999" stroke-width="0.35"/>
<line x1="758.5" y1="702.25" x2="758.5" y2="709.25" stroke="#999" stroke-width="0.35"/>
<line x1="760.5" y1="702.25" x2="760.5" y2="709.25" stroke="#999" stroke-width="0.35"/>
<line x1="762.5" y1="702.25" x2="762.5" y2="709.25" stroke="#999" stroke-width="0.35"/>
<line x1="764.5" y1="702.25" x2="764.5" y2="709.25" stroke="#999" stroke-width="0.35"/>
<line x1="766.5" y1="702.25" x2="766.5" y2="709.25" stroke="#999" stroke-width="0.35"/>
<rect x="678.5" y="702.25" width="90" height="7" stroke="#333" stroke-width="0.9" fill="none"/>
<rect x="678.5" y="734.9" width="90" height="7" fill="#f4f4f4"/>
<line x1="680.5" y1="734.9" x2="680.5" y2="741.9" stroke="#999" stroke-width="0.35"/>
<line x1="682.5" y1="734.9" x2="682.5" y2="741.9" stroke="#999" stroke-width="0.35"/>
<line x1="684.5" y1="734.9" x2="684.5" y2="741.9" stroke="#999" stroke-width="0.35"/>
<line x1="686.5" y1="734.9" x2="686.5" y2="741.9" stroke="#999" stroke-width="0.35"/>
<line x1="688.5" y1="734.9" x2="688.5" y2="741.9" stroke="#999" stroke-width="0.35"/>
<line x1="690.5" y1="734.9" x2="690.5" y2="741.9" stroke="#999" stroke-width="0.35"/>
<line x1="692.5" y1="734.9" x2="692.5" y2="741.9" stroke="#999" stroke-width="0.35"/>
<line x1="694.5" y1="734.9" x2="694.5" y2="741.9" stroke="#999" stroke-width="0.35"/>
<line x1="696.5" y1="734.9" x2="696.5" y2="741.9" stroke="#999" stroke-width="0.35"/>
<line x1="698.5" y1="734.9" x2="698.5" y2="741.9" stroke="#999" stroke-width="0.35"/>
<line x1="700.5" y1="734.9" x2="700.5" y2="741.9" stroke="#999" stroke-width="0.35"/>
<line x1="702.5" y1="734.9" x2="702.5" y2="741.9" stroke="#999" stroke-width="0.35"/>
<line x1="704.5" y1="734.9" x2="704.5" y2="741.9" stroke="#999" stroke-width="0.35"/>
<line x1="706.5" y1="734.9" x2="706.5" y2="741.9" stroke="#999" stroke-width="0.35"/>
<line x1="708.5" y1="734.9" x2="708.5" y2="741.9" stroke="#999" stroke-width="0.35"/>
<line x1="710.5" y1="734.9" x2="710.5" y2="741.9" stroke="#999" stroke-width="0.35"/>
<line x1="712.5" y1="734.9" x2="712.5" y2="741.9" stroke="#999" stroke-width="0.35"/>
<line x1="714.5" y1="734.9" x2="714.5" y2="741.9" stroke="#999" stroke-width="0.35"/>
<line x1="716.5" y1="734.9" x2="716.5" y2="741.9" stroke="#999" stroke-width="0.35"/>
<line x1="718.5" y1="734.9" x2="718.5" y2="741.9" stroke="#999" stroke-width="0.35"/>
<line x1="720.5" y1="734.9" x2="720.5" y2="741.9" stroke="#999" stroke-width="0.35"/>
<line x1="722.5" y1="734.9" x2="722.5" y2="741.9" stroke="#999" stroke-width="0.35"/>
<line x1="724.5" y1="734.9" x2="724.5" y2="741.9" stroke="#999" stroke-width="0.35"/>
<line x1="726.5" y1="734.9" x2="726.5" y2="741.9" stroke="#999" stroke-width="0.35"/>
<line x1="728.5" y1="734.9" x2="728.5" y2="741.9" stroke="#999" stroke-width="0.35"/>
<line x1="730.5" y1="734.9" x2="730.5" y2="741.9" stroke="#999" stroke-width="0.35"/>
<line x1="732.5" y1="734.9" x2="732.5" y2="741.9" stroke="#999" stroke-width="0.35"/>
<line x1="734.5" y1="734.9" x2="734.5" y2="741.9" stroke="#999" stroke-width="0.35"/>
<line x1="736.5" y1="734.9" x2="736.5" y2="741.9" stroke="#999" stroke-width="0.35"/>
<line x1="738.5" y1="734.9" x2="738.5" y2="741.9" stroke="#999" stroke-width="0.35"/>
<line x1="740.5" y1="734.9" x2="740.5" y2="741.9" stroke="#999" stroke-width="0.35"/>
<line x1="742.5" y1="734.9" x2="742.5" y2="741.9" stroke="#999" stroke-width="0.35"/>
<line x1="744.5" y1="734.9" x2="744.5" y2="741.9" stroke="#999" stroke-width="0.35"/>
<line x1="746.5" y1="734.9" x2="746.5" y2="741.9" stroke="#999" stroke-width="0.35"/>
<line x1="748.5" y1="734.9" x2="748.5" y2="741.9" stroke="#999" stroke-width="0.35"/>
<line x1="750.5" y1="734.9" x2="750.5" y2="741.9" stroke="#999" stroke-width="0.35"/>
<line x1="752.5" y1="734.9" x2="752.5" y2="741.9" stroke="#999" stroke-width="0.35"/>
<line x1="754.5" y1="734.9" x2="754.5" y2="741.9" stroke="#999" stroke-width="0.35"/>
<line x1="756.5" y1="734.9" x2="756.5" y2="741.9" stroke="#999" stroke-width="0.35"/>
<line x1="758.5" y1="734.9" x2="758.5" y2="741.9" stroke="#999" stroke-width="0.35"/>
<line x1="760.5" y1="734.9" x2="760.5" y2="741.9" stroke="#999" stroke-width="0.35"/>
<line x1="762.5" y1="734.9" x2="762.5" y2="741.9" stroke="#999" stroke-width="0.35"/>
<line x1="764.5" y1="734.9" x2="764.5" y2="741.9" stroke="#999" stroke-width="0.35"/>
<line x1="766.5" y1="734.9" x2="766.5" y2="741.9" stroke="#999" stroke-width="0.35"/>
<rect x="678.5" y="734.9" width="90" height="7" stroke="#333" stroke-width="0.9" fill="none"/>
<rect x="678.5" y="702.25" width="90" height="39.65" stroke="#222" stroke-width="1.1" fill="none"/>
<line x1="686.5" y1="709.25" x2="686.5" y2="734.9" stroke="#aaa" stroke-width="0.6" stroke-dasharray="2.5,2"/>
<line x1="694.7" y1="709.25" x2="694.7" y2="734.9" stroke="#aaa" stroke-width="0.6" stroke-dasharray="2.5,2"/>
<line x1="702.9" y1="709.25" x2="702.9" y2="734.9" stroke="#aaa" stroke-width="0.6" stroke-dasharray="2.5,2"/>
<line x1="711.1" y1="709.25" x2="711.1" y2="734.9" stroke="#aaa" stroke-width="0.6" stroke-dasharray="2.5,2"/>
<line x1="719.3" y1="709.25" x2="719.3" y2="734.9" stroke="#aaa" stroke-width="0.6" stroke-dasharray="2.5,2"/>
<line x1="727.5" y1="709.25" x2="727.5" y2="734.9" stroke="#aaa" stroke-width="0.6" stroke-dasharray="2.5,2"/>
<line x1="735.7" y1="709.25" x2="735.7" y2="734.9" stroke="#aaa" stroke-width="0.6" stroke-dasharray="2.5,2"/>
<line x1="743.9" y1="709.25" x2="743.9" y2="734.9" stroke="#aaa" stroke-width="0.6" stroke-dasharray="2.5,2"/>
<line x1="752.1" y1="709.25" x2="752.1" y2="734.9" stroke="#aaa" stroke-width="0.6" stroke-dasharray="2.5,2"/>
<line x1="760.3" y1="709.25" x2="760.3" y2="734.9" stroke="#aaa" stroke-width="0.6" stroke-dasharray="2.5,2"/>
<rect x="808.5" y="702.25" width="89.5" height="39.65" fill="#fff"/>
<rect x="808.5" y="702.25" width="89.5" height="7" fill="#f4f4f4"/>
<line x1="810.5" y1="702.25" x2="810.5" y2="709.25" stroke="#999" stroke-width="0.35"/>
<line x1="812.5" y1="702.25" x2="812.5" y2="709.25" stroke="#999" stroke-width="0.35"/>
<line x1="814.5" y1="702.25" x2="814.5" y2="709.25" stroke="#999" stroke-width="0.35"/>
<line x1="816.5" y1="702.25" x2="816.5" y2="709.25" stroke="#999" stroke-width="0.35"/>
<line x1="818.5" y1="702.25" x2="818.5" y2="709.25" stroke="#999" stroke-width="0.35"/>
<line x1="820.5" y1="702.25" x2="820.5" y2="709.25" stroke="#999" stroke-width="0.35"/>
<line x1="822.5" y1="702.25" x2="822.5" y2="709.25" stroke="#999" stroke-width="0.35"/>
<line x1="824.5" y1="702.25" x2="824.5" y2="709.25" stroke="#999" stroke-width="0.35"/>
<line x1="826.5" y1="702.25" x2="826.5" y2="709.25" stroke="#999" stroke-width="0.35"/>
<line x1="828.5" y1="702.25" x2="828.5" y2="709.25" stroke="#999" stroke-width="0.35"/>
<line x1="830.5" y1="702.25" x2="830.5" y2="709.25" stroke="#999" stroke-width="0.35"/>
<line x1="832.5" y1="702.25" x2="832.5" y2="709.25" stroke="#999" stroke-width="0.35"/>
<line x1="834.5" y1="702.25" x2="834.5" y2="709.25" stroke="#999" stroke-width="0.35"/>
<line x1="836.5" y1="702.25" x2="836.5" y2="709.25" stroke="#999" stroke-width="0.35"/>
<line x1="838.5" y1="702.25" x2="838.5" y2="709.25" stroke="#999" stroke-width="0.35"/>
<line x1="840.5" y1="702.25" x2="840.5" y2="709.25" stroke="#999" stroke-width="0.35"/>
<line x1="842.5" y1="702.25" x2="842.5" y2="709.25" stroke="#999" stroke-width="0.35"/>
<line x1="844.5" y1="702.25" x2="844.5" y2="709.25" stroke="#999" stroke-width="0.35"/>
<line x1="846.5" y1="702.25" x2="846.5" y2="709.25" stroke="#999" stroke-width="0.35"/>
<line x1="848.5" y1="702.25" x2="848.5" y2="709.25" stroke="#999" stroke-width="0.35"/>
<line x1="850.5" y1="702.25" x2="850.5" y2="709.25" stroke="#999" stroke-width="0.35"/>
<line x1="852.5" y1="702.25" x2="852.5" y2="709.25" stroke="#999" stroke-width="0.35"/>
<line x1="854.5" y1="702.25" x2="854.5" y2="709.25" stroke="#999" stroke-width="0.35"/>
<line x1="856.5" y1="702.25" x2="856.5" y2="709.25" stroke="#999" stroke-width="0.35"/>
<line x1="858.5" y1="702.25" x2="858.5" y2="709.25" stroke="#999" stroke-width="0.35"/>
<line x1="860.5" y1="702.25" x2="860.5" y2="709.25" stroke="#999" stroke-width="0.35"/>
<line x1="862.5" y1="702.25" x2="862.5" y2="709.25" stroke="#999" stroke-width="0.35"/>
<line x1="864.5" y1="702.25" x2="864.5" y2="709.25" stroke="#999" stroke-width="0.35"/>
<line x1="866.5" y1="702.25" x2="866.5" y2="709.25" stroke="#999" stroke-width="0.35"/>
<line x1="868.5" y1="702.25" x2="868.5" y2="709.25" stroke="#999" stroke-width="0.35"/>
<line x1="870.5" y1="702.25" x2="870.5" y2="709.25" stroke="#999" stroke-width="0.35"/>
<line x1="872.5" y1="702.25" x2="872.5" y2="709.25" stroke="#999" stroke-width="0.35"/>
<line x1="874.5" y1="702.25" x2="874.5" y2="709.25" stroke="#999" stroke-width="0.35"/>
<line x1="876.5" y1="702.25" x2="876.5" y2="709.25" stroke="#999" stroke-width="0.35"/>
<line x1="878.5" y1="702.25" x2="878.5" y2="709.25" stroke="#999" stroke-width="0.35"/>
<line x1="880.5" y1="702.25" x2="880.5" y2="709.25" stroke="#999" stroke-width="0.35"/>
<line x1="882.5" y1="702.25" x2="882.5" y2="709.25" stroke="#999" stroke-width="0.35"/>
<line x1="884.5" y1="702.25" x2="884.5" y2="709.25" stroke="#999" stroke-width="0.35"/>
<line x1="886.5" y1="702.25" x2="886.5" y2="709.25" stroke="#999" stroke-width="0.35"/>
<line x1="888.5" y1="702.25" x2="888.5" y2="709.25" stroke="#999" stroke-width="0.35"/>
<line x1="890.5" y1="702.25" x2="890.5" y2="709.25" stroke="#999" stroke-width="0.35"/>
<line x1="892.5" y1="702.25" x2="892.5" y2="709.25" stroke="#999" stroke-width="0.35"/>
<line x1="894.5" y1="702.25" x2="894.5" y2="709.25" stroke="#999" stroke-width="0.35"/>
<rect x="808.5" y="702.25" width="89.5" height="7" stroke="#333" stroke-width="0.9" fill="none"/>
<rect x="808.5" y="734.9" width="89.5" height="7" fill="#f4f4f4"/>
<line x1="810.5" y1="734.9" x2="810.5" y2="741.9" stroke="#999" stroke-width="0.35"/>
<line x1="812.5" y1="734.9" x2="812.5" y2="741.9" stroke="#999" stroke-width="0.35"/>
<line x1="814.5" y1="734.9" x2="814.5" y2="741.9" stroke="#999" stroke-width="0.35"/>
<line x1="816.5" y1="734.9" x2="816.5" y2="741.9" stroke="#999" stroke-width="0.35"/>
<line x1="818.5" y1="734.9" x2="818.5" y2="741.9" stroke="#999" stroke-width="0.35"/>
<line x1="820.5" y1="734.9" x2="820.5" y2="741.9" stroke="#999" stroke-width="0.35"/>
<line x1="822.5" y1="734.9" x2="822.5" y2="741.9" stroke="#999" stroke-width="0.35"/>
<line x1="824.5" y1="734.9" x2="824.5" y2="741.9" stroke="#999" stroke-width="0.35"/>
<line x1="826.5" y1="734.9" x2="826.5" y2="741.9" stroke="#999" stroke-width="0.35"/>
<line x1="828.5" y1="734.9" x2="828.5" y2="741.9" stroke="#999" stroke-width="0.35"/>
<line x1="830.5" y1="734.9" x2="830.5" y2="741.9" stroke="#999" stroke-width="0.35"/>
<line x1="832.5" y1="734.9" x2="832.5" y2="741.9" stroke="#999" stroke-width="0.35"/>
<line x1="834.5" y1="734.9" x2="834.5" y2="741.9" stroke="#999" stroke-width="0.35"/>
<line x1="836.5" y1="734.9" x2="836.5" y2="741.9" stroke="#999" stroke-width="0.35"/>
<line x1="838.5" y1="734.9" x2="838.5" y2="741.9" stroke="#999" stroke-width="0.35"/>
<line x1="840.5" y1="734.9" x2="840.5" y2="741.9" stroke="#999" stroke-width="0.35"/>
<line x1="842.5" y1="734.9" x2="842.5" y2="741.9" stroke="#999" stroke-width="0.35"/>
<line x1="844.5" y1="734.9" x2="844.5" y2="741.9" stroke="#999" stroke-width="0.35"/>
<line x1="846.5" y1="734.9" x2="846.5" y2="741.9" stroke="#999" stroke-width="0.35"/>
<line x1="848.5" y1="734.9" x2="848.5" y2="741.9" stroke="#999" stroke-width="0.35"/>
<line x1="850.5" y1="734.9" x2="850.5" y2="741.9" stroke="#999" stroke-width="0.35"/>
<line x1="852.5" y1="734.9" x2="852.5" y2="741.9" stroke="#999" stroke-width="0.35"/>
<line x1="854.5" y1="734.9" x2="854.5" y2="741.9" stroke="#999" stroke-width="0.35"/>
<line x1="856.5" y1="734.9" x2="856.5" y2="741.9" stroke="#999" stroke-width="0.35"/>
<line x1="858.5" y1="734.9" x2="858.5" y2="741.9" stroke="#999" stroke-width="0.35"/>
<line x1="860.5" y1="734.9" x2="860.5" y2="741.9" stroke="#999" stroke-width="0.35"/>
<line x1="862.5" y1="734.9" x2="862.5" y2="741.9" stroke="#999" stroke-width="0.35"/>
<line x1="864.5" y1="734.9" x2="864.5" y2="741.9" stroke="#999" stroke-width="0.35"/>
<line x1="866.5" y1="734.9" x2="866.5" y2="741.9" stroke="#999" stroke-width="0.35"/>
<line x1="868.5" y1="734.9" x2="868.5" y2="741.9" stroke="#999" stroke-width="0.35"/>
<line x1="870.5" y1="734.9" x2="870.5" y2="741.9" stroke="#999" stroke-width="0.35"/>
<line x1="872.5" y1="734.9" x2="872.5" y2="741.9" stroke="#999" stroke-width="0.35"/>
<line x1="874.5" y1="734.9" x2="874.5" y2="741.9" stroke="#999" stroke-width="0.35"/>
<line x1="876.5" y1="734.9" x2="876.5" y2="741.9" stroke="#999" stroke-width="0.35"/>
<line x1="878.5" y1="734.9" x2="878.5" y2="741.9" stroke="#999" stroke-width="0.35"/>
<line x1="880.5" y1="734.9" x2="880.5" y2="741.9" stroke="#999" stroke-width="0.35"/>
<line x1="882.5" y1="734.9" x2="882.5" y2="741.9" stroke="#999" stroke-width="0.35"/>
<line x1="884.5" y1="734.9" x2="884.5" y2="741.9" stroke="#999" stroke-width="0.35"/>
<line x1="886.5" y1="734.9" x2="886.5" y2="741.9" stroke="#999" stroke-width="0.35"/>
<line x1="888.5" y1="734.9" x2="888.5" y2="741.9" stroke="#999" stroke-width="0.35"/>
<line x1="890.5" y1="734.9" x2="890.5" y2="741.9" stroke="#999" stroke-width="0.35"/>
<line x1="892.5" y1="734.9" x2="892.5" y2="741.9" stroke="#999" stroke-width="0.35"/>
<line x1="894.5" y1="734.9" x2="894.5" y2="741.9" stroke="#999" stroke-width="0.35"/>
<rect x="808.5" y="734.9" width="89.5" height="7" stroke="#333" stroke-width="0.9" fill="none"/>
<rect x="808.5" y="702.25" width="89.5" height="39.65" stroke="#222" stroke-width="1.1" fill="none"/>
<line x1="816.5" y1="709.25" x2="816.5" y2="734.9" stroke="#aaa" stroke-width="0.6" stroke-dasharray="2.5,2"/>
<line x1="824.7" y1="709.25" x2="824.7" y2="734.9" stroke="#aaa" stroke-width="0.6" stroke-dasharray="2.5,2"/>
<line x1="832.9" y1="709.25" x2="832.9" y2="734.9" stroke="#aaa" stroke-width="0.6" stroke-dasharray="2.5,2"/>
<line x1="841.1" y1="709.25" x2="841.1" y2="734.9" stroke="#aaa" stroke-width="0.6" stroke-dasharray="2.5,2"/>
<line x1="849.3" y1="709.25" x2="849.3" y2="734.9" stroke="#aaa" stroke-width="0.6" stroke-dasharray="2.5,2"/>
<line x1="857.5" y1="709.25" x2="857.5" y2="734.9" stroke="#aaa" stroke-width="0.6" stroke-dasharray="2.5,2"/>
<line x1="865.7" y1="709.25" x2="865.7" y2="734.9" stroke="#aaa" stroke-width="0.6" stroke-dasharray="2.5,2"/>
<line x1="873.9" y1="709.25" x2="873.9" y2="734.9" stroke="#aaa" stroke-width="0.6" stroke-dasharray="2.5,2"/>
<line x1="882.1" y1="709.25" x2="882.1" y2="734.9" stroke="#aaa" stroke-width="0.6" stroke-dasharray="2.5,2"/>
<line x1="890.3" y1="709.25" x2="890.3" y2="734.9" stroke="#aaa" stroke-width="0.6" stroke-dasharray="2.5,2"/>
<rect x="769" y="702.75" width="12.5" height="12.4" stroke="#222" stroke-width="1.1" fill="#fff"/>
<rect x="770.73" y="704.45" width="3.1" height="3.1" stroke="#1a1a1a" stroke-width="1.2" fill="none"/>
<rect x="770.73" y="710.35" width="3.1" height="3.1" stroke="#1a1a1a" stroke-width="1.2" fill="none"/>
<rect x="776.67" y="704.45" width="3.1" height="3.1" stroke="#1a1a1a" stroke-width="1.2" fill="none"/>
<rect x="776.67" y="710.35" width="3.1" height="3.1" stroke="#1a1a1a" stroke-width="1.2" fill="none"/>
<rect x="769" y="729" width="12.5" height="12.4" stroke="#222" stroke-width="1.1" fill="#fff"/>
<rect x="770.73" y="730.7" width="3.1" height="3.1" stroke="#1a1a1a" stroke-width="1.2" fill="none"/>
<rect x="770.73" y="736.6" width="3.1" height="3.1" stroke="#1a1a1a" stroke-width="1.2" fill="none"/>
<rect x="776.67" y="730.7" width="3.1" height="3.1" stroke="#1a1a1a" stroke-width="1.2" fill="none"/>
<rect x="776.67" y="736.6" width="3.1" height="3.1" stroke="#1a1a1a" stroke-width="1.2" fill="none"/>
<rect x="795.5" y="702.75" width="12.5" height="12.4" stroke="#222" stroke-width="1.1" fill="#fff"/>
<rect x="797.23" y="704.45" width="3.1" height="3.1" stroke="#1a1a1a" stroke-width="1.2" fill="none"/>
<rect x="797.23" y="710.35" width="3.1" height="3.1" stroke="#1a1a1a" stroke-width="1.2" fill="none"/>
<rect x="803.17" y="704.45" width="3.1" height="3.1" stroke="#1a1a1a" stroke-width="1.2" fill="none"/>
<rect x="803.17" y="710.35" width="3.1" height="3.1" stroke="#1a1a1a" stroke-width="1.2" fill="none"/>
<rect x="795.5" y="729" width="12.5" height="12.4" stroke="#222" stroke-width="1.1" fill="#fff"/>
<rect x="797.23" y="730.7" width="3.1" height="3.1" stroke="#1a1a1a" stroke-width="1.2" fill="none"/>
<rect x="797.23" y="736.6" width="3.1" height="3.1" stroke="#1a1a1a" stroke-width="1.2" fill="none"/>
<rect x="803.17" y="730.7" width="3.1" height="3.1" stroke="#1a1a1a" stroke-width="1.2" fill="none"/>
<rect x="803.17" y="736.6" width="3.1" height="3.1" stroke="#1a1a1a" stroke-width="1.2" fill="none"/>
<line x1="789.5" y1="702.25" x2="789.5" y2="741.9" stroke="#3a3a3a" stroke-width="0.7"/>
<line x1="782" y1="715.6" x2="782" y2="728.5" stroke="#999" stroke-width="0.6" stroke-dasharray="2,1.5"/>
<line x1="795" y1="715.6" x2="795" y2="728.5" stroke="#999" stroke-width="0.6" stroke-dasharray="2,1.5"/>
<circle cx="789.5" cy="715.6" r="0.9" fill="#333"/>
<circle cx="789.5" cy="728.5" r="0.9" fill="#333"/>
<text x="787.4" y="709" font-size="3.8" fill="#222" stroke="#222" stroke-width="0.2" text-anchor="middle" transform="rotate(-90 787.4 709)"><tspan x="787.4">1'-4"</tspan></text>
<text x="787.4" y="722" font-size="3.8" fill="#222" stroke="#222" stroke-width="0.2" text-anchor="middle" transform="rotate(-90 787.4 722)"><tspan x="787.4">1'-4"</tspan></text>
<text x="787.4" y="735" font-size="3.8" fill="#222" stroke="#222" stroke-width="0.2" text-anchor="middle" transform="rotate(-90 787.4 735)"><tspan x="787.4">1'-4"</tspan></text>
<polyline points="655,724 666,713 677,724" stroke="#222" stroke-width="1.4" fill="#fff"/>
<circle cx="665.6" cy="727.5" r="6.5" stroke="#222" stroke-width="1" fill="#fff"/>
<path d="M655,724 L666,713 L677,724 Z" fill="#222"/>
<path d="M659,724 L666,717 L673,724 Z" fill="#fff"/>
<line x1="655" y1="724" x2="718" y2="724" stroke="#222" stroke-width="1"/>
<rect x="716" y="716" width="2" height="8" stroke="#333" stroke-width="0.6" fill="none"/>
<text x="665.6" y="726.5" font-size="3.6" fill="#222" stroke="#222" stroke-width="0.2" text-anchor="middle"><tspan x="665.6">1</tspan></text>
<text x="665.6" y="732.5" font-size="3.6" fill="#222" stroke="#222" stroke-width="0.2" text-anchor="middle"><tspan x="665.6">6</tspan></text>
<line x1="654.5" y1="702.25" x2="654.5" y2="741.9" stroke="#444" stroke-width="0.8"/>
<circle cx="654.5" cy="702.25" r="0.9" fill="#333"/>
<circle cx="654.5" cy="741.9" r="0.9" fill="#333"/>
<text x="652.3" y="722.08" font-size="4.4" fill="#444" stroke="#444" stroke-width="0.2" text-anchor="middle" transform="rotate(-90 652.3 722.08)"><tspan x="652.3">4'-0"</tspan></text>
<line x1="654.5" y1="702.25" x2="678.5" y2="702.25" stroke="#3a3a3a" stroke-width="0.7"/>
<line x1="920" y1="702.25" x2="920" y2="741.9" stroke="#444" stroke-width="0.8"/>
<circle cx="920" cy="702.25" r="0.9" fill="#333"/>
<circle cx="920" cy="741.9" r="0.9" fill="#333"/>
<text x="917.8" y="722.08" font-size="4.4" fill="#444" stroke="#444" stroke-width="0.2" text-anchor="middle" transform="rotate(-90 917.8 722.08)"><tspan x="917.8">4'-0"</tspan></text>
<line x1="898" y1="702.25" x2="920" y2="702.25" stroke="#3a3a3a" stroke-width="0.7"/>
<text x="711" y="755.5" font-size="4.35" fill="#222" stroke="#222" stroke-width="0.2" text-anchor="start"><tspan x="711">FORMED &amp; POURED</tspan><tspan x="711" dy="4.9">CONC. STAIRS</tspan></text>
<polyline points="709,753.5 702.5,753.5 706,731" stroke="#444" stroke-width="0.7" fill="none"/>
<line x1="768.5" y1="762.5" x2="808.5" y2="762.5" stroke="#444" stroke-width="0.8"/>
<circle cx="768.5" cy="762.5" r="0.9" fill="#333"/>
<circle cx="782" cy="762.5" r="0.9" fill="#333"/>
<circle cx="795" cy="762.5" r="0.9" fill="#333"/>
<circle cx="808.5" cy="762.5" r="0.9" fill="#333"/>
<text x="775.25" y="761.1" font-size="4" fill="#444" stroke="#444" stroke-width="0.2" text-anchor="middle"><tspan x="775.25">1'-4"</tspan></text>
<text x="788.5" y="761.1" font-size="4" fill="#444" stroke="#444" stroke-width="0.2" text-anchor="middle"><tspan x="788.5">1'-4"</tspan></text>
<text x="801.75" y="761.1" font-size="4" fill="#444" stroke="#444" stroke-width="0.2" text-anchor="middle"><tspan x="801.75">1'-4"</tspan></text>
<line x1="678.5" y1="772.25" x2="898" y2="772.25" stroke="#444" stroke-width="0.8"/>
<circle cx="678.5" cy="772.25" r="0.9" fill="#333"/>
<circle cx="768.5" cy="772.25" r="0.9" fill="#333"/>
<circle cx="808.5" cy="772.25" r="0.9" fill="#333"/>
<circle cx="898" cy="772.25" r="0.9" fill="#333"/>
<text x="723.5" y="770.85" font-size="4.4" fill="#444" stroke="#444" stroke-width="0.2" text-anchor="middle"><tspan x="723.5">9'-2"</tspan></text>
<text x="788.5" y="770.85" font-size="4.4" fill="#444" stroke="#444" stroke-width="0.2" text-anchor="middle"><tspan x="788.5">4'-0"</tspan></text>
<text x="853.25" y="770.85" font-size="4.4" fill="#444" stroke="#444" stroke-width="0.2" text-anchor="middle"><tspan x="853.25">9'-2"</tspan></text>
<line x1="768.5" y1="741.9" x2="768.5" y2="772.25" stroke="#555" stroke-width="0.7"/>
<line x1="782" y1="741.9" x2="782" y2="772.25" stroke="#555" stroke-width="0.7"/>
<line x1="795" y1="741.9" x2="795" y2="772.25" stroke="#555" stroke-width="0.7"/>
<line x1="808.5" y1="741.9" x2="808.5" y2="772.25" stroke="#555" stroke-width="0.7"/>
<line x1="678.5" y1="741.9" x2="678.5" y2="782.5" stroke="#444" stroke-width="0.8"/>
<line x1="898" y1="741.9" x2="898" y2="782.5" stroke="#444" stroke-width="0.8"/>
<line x1="1028.75" y1="661" x2="1028.75" y2="782.5" stroke="#444" stroke-width="0.8"/>
<rect x="557.5" y="675.4" width="90" height="61" stroke="#666" stroke-width="0.7" fill="none"/>
<text x="561" y="682.8" font-size="6.0" fill="#111" stroke="#111" stroke-width="0.08" textLength="74" lengthAdjust="spacingAndGlyphs" font-weight="bold">FLOOD VENTING REQUIRED:</text>
<line x1="561" y1="685" x2="644" y2="685" stroke="#555" stroke-width="1"/>
<text x="561" y="691.8" font-size="5.0" fill="#444" stroke="#444" stroke-width="0.08" textLength="73" lengthAdjust="spacingAndGlyphs">FLOOD VENT: 1 SQ. INCH PER 1 SQ.FT.</text>
<text x="561" y="696.8" font-size="5.0" fill="#444" stroke="#444" stroke-width="0.08" textLength="34" lengthAdjust="spacingAndGlyphs">ENCLOSED AREA.</text>
<text x="561" y="703.4" font-size="5.0" fill="#111" stroke="#111" stroke-width="0.08" textLength="60" lengthAdjust="spacingAndGlyphs" font-weight="bold">316 SF. STAIRS ENCLOSED</text>
<text x="561" y="712.8" font-size="5.0" fill="#111" stroke="#111" stroke-width="0.08" textLength="79" lengthAdjust="spacingAndGlyphs" font-weight="bold">(11540-520) AT 200 SF. PER UNIT.</text>
<text x="561" y="717.8" font-size="5.0" fill="#444" stroke="#444" stroke-width="0.08" textLength="64" lengthAdjust="spacingAndGlyphs">(2 VENTS = 400 SF. > 316 SF.)</text>
<rect x="560.5" y="723" width="14" height="6.5" fill="#9a9a9a"/>
<rect x="560.5" y="723" width="14" height="6.5" stroke="#333" stroke-width="0.8" fill="none"/>
<text x="576" y="728.3" font-size="5.0" fill="#444" stroke="#444" stroke-width="0.08" textLength="70" lengthAdjust="spacingAndGlyphs">- INDICATES 16"X8" SMART VENT</text>
<text x="580" y="733.4" font-size="5.0" fill="#444" stroke="#444" stroke-width="0.08" textLength="43" lengthAdjust="spacingAndGlyphs">MODEL# 1540-520</text>
<path d="M514,661 Q514.88,658.07 515.17,661.12 Q516.6,658.42 516.3,661.46 Q518.23,659.09 517.33,662.01 Q519.69,660.07 518.24,662.76 Q520.93,661.31 518.99,663.67 Q521.91,662.77 519.54,664.7 Q522.58,664.4 519.88,665.83 Q522.93,666.12 520,667 Q523,671.33 520,675.67 Q523,680 520,684.33 Q523,688.67 520,693 Q522.93,693.88 519.88,694.17 Q522.58,695.6 519.54,695.3 Q521.91,697.23 518.99,696.33 Q520.93,698.69 518.24,697.24 Q519.69,699.93 517.33,697.99 Q518.23,700.91 516.3,698.54 Q516.6,701.58 515.17,698.88 Q514.88,701.93 514,699 Q509.75,702 505.5,699 Q501.25,702 497,699 Q492.75,702 488.5,699 Q484.25,702 480,699 Q475.75,702 471.5,699 Q467.25,702 463,699 Q462.12,701.93 461.83,698.88 Q460.4,701.58 460.7,698.54 Q458.77,700.91 459.67,697.99 Q457.31,699.93 458.76,697.24 Q456.07,698.69 458.01,696.33 Q455.09,697.23 457.46,695.3 Q454.42,695.6 457.12,694.17 Q454.07,693.88 457,693 Q454,688.67 457,684.33 Q454,680 457,675.67 Q454,671.33 457,667 Q454.07,666.12 457.12,665.83 Q454.42,664.4 457.46,664.7 Q455.09,662.77 458.01,663.67 Q456.07,661.31 458.76,662.76 Q457.31,660.07 459.67,662.01 Q458.77,659.09 460.7,661.46 Q460.4,658.42 461.83,661.12 Q462.12,658.07 463,661 Q467.25,658 471.5,661 Q475.75,658 480,661 Q484.25,658 488.5,661 Q492.75,658 497,661 Q501.25,658 505.5,661 Q509.75,658 514,661 Z" stroke="#444" stroke-width="0.8" fill="none"/>
<rect x="465.5" y="665" width="47.5" height="28.5" stroke="#555" stroke-width="0.8" fill="none"/>
<text x="468" y="670.3" font-size="4.35" fill="#444" stroke="#444" stroke-width="0.2" text-anchor="start"><tspan x="468">NOTE:</tspan><tspan x="468" dy="4.9">POUR CELLS SOLID</tspan><tspan x="468" dy="4.9">FOR GARAGE DOOR</tspan><tspan x="468" dy="4.9">INSTALLATION -</tspan><tspan x="468" dy="4.9">NO STEEL (TYP.)</tspan></text>
<polygon points="486.5,710.95 492,701.05 497.5,710.95" stroke="#333" stroke-width="0.8" fill="none"/>
<text x="492" y="709.35" font-size="4.2" fill="#333" stroke="#333" stroke-width="0.2" text-anchor="middle"><tspan x="492">B</tspan></text>
<polygon points="523,722.45 528.5,712.55 534,722.45" stroke="#333" stroke-width="0.8" fill="none"/>
<text x="528.5" y="720.85" font-size="4.2" fill="#333" stroke="#333" stroke-width="0.2" text-anchor="middle"><tspan x="528.5">A</tspan></text>
<polyline points="513,665 562,636" stroke="#444" stroke-width="0.7" fill="none"/>
<path d="M999,671 Q999.88,668.07 1000.17,671.12 Q1001.6,668.42 1001.3,671.46 Q1003.23,669.09 1002.33,672.01 Q1004.69,670.07 1003.24,672.76 Q1005.93,671.31 1003.99,673.67 Q1006.91,672.77 1004.54,674.7 Q1007.58,674.4 1004.88,675.83 Q1007.93,676.12 1005,677 Q1008,681.17 1005,685.33 Q1008,689.5 1005,693.67 Q1008,697.83 1005,702 Q1007.93,702.88 1004.88,703.17 Q1007.58,704.6 1004.54,704.3 Q1006.91,706.23 1003.99,705.33 Q1005.93,707.69 1003.24,706.24 Q1004.69,708.93 1002.33,706.99 Q1003.23,709.91 1001.3,707.54 Q1001.6,710.58 1000.17,707.88 Q999.88,710.93 999,708 Q994.75,711 990.5,708 Q986.25,711 982,708 Q977.75,711 973.5,708 Q969.25,711 965,708 Q960.75,711 956.5,708 Q952.25,711 948,708 Q947.12,710.93 946.83,707.88 Q945.4,710.58 945.7,707.54 Q943.77,709.91 944.67,706.99 Q942.31,708.93 943.76,706.24 Q941.07,707.69 943.01,705.33 Q940.09,706.23 942.46,704.3 Q939.42,704.6 942.12,703.17 Q939.07,702.88 942,702 Q939,697.83 942,693.67 Q939,689.5 942,685.33 Q939,681.17 942,677 Q939.07,676.12 942.12,675.83 Q939.42,674.4 942.46,674.7 Q940.09,672.77 943.01,673.67 Q941.07,671.31 943.76,672.76 Q942.31,670.07 944.67,672.01 Q943.77,669.09 945.7,671.46 Q945.4,668.42 946.83,671.12 Q947.12,668.07 948,671 Q952.25,668 956.5,671 Q960.75,668 965,671 Q969.25,668 973.5,671 Q977.75,668 982,671 Q986.25,668 990.5,671 Q994.75,668 999,671 Z" stroke="#444" stroke-width="0.8" fill="none"/>
<rect x="950" y="675" width="48" height="27" stroke="#555" stroke-width="0.8" fill="none"/>
<text x="953" y="680.3" font-size="4.35" fill="#444" stroke="#444" stroke-width="0.2" text-anchor="start"><tspan x="953">NOTE:</tspan><tspan x="953" dy="4.9">POUR CELLS SOLID</tspan><tspan x="953" dy="4.9">FOR GARAGE DOOR</tspan><tspan x="953" dy="4.9">INSTALLATION -</tspan><tspan x="953" dy="4.9">NO STEEL (TYP.)</tspan></text>
<polygon points="971.5,719.95 977,710.05 982.5,719.95" stroke="#333" stroke-width="0.8" fill="none"/>
<text x="977" y="718.35" font-size="4.2" fill="#333" stroke="#333" stroke-width="0.2" text-anchor="middle"><tspan x="977">B</tspan></text>
<polyline points="957,672 906,640" stroke="#444" stroke-width="0.7" fill="none"/>
<polyline points="999,672 1003,640" stroke="#444" stroke-width="0.7" fill="none"/>
<path d="M815,787.5 Q815.88,784.57 816.17,787.62 Q817.6,784.92 817.3,787.96 Q819.23,785.59 818.33,788.51 Q820.69,786.57 819.24,789.26 Q821.93,787.81 819.99,790.17 Q822.91,789.27 820.54,791.2 Q823.58,790.9 820.88,792.33 Q823.93,792.62 821,793.5 Q824,797.75 821,802 Q824,806.25 821,810.5 Q824,814.75 821,819 Q823.93,819.88 820.88,820.17 Q823.58,821.6 820.54,821.3 Q822.91,823.23 819.99,822.33 Q821.93,824.69 819.24,823.24 Q820.69,825.93 818.33,823.99 Q819.23,826.91 817.3,824.54 Q817.6,827.58 816.17,824.88 Q815.88,827.93 815,825 Q810.4,828 805.8,825 Q801.2,828 796.6,825 Q792,828 787.4,825 Q782.8,828 778.2,825 Q773.6,828 769,825 Q768.12,827.93 767.83,824.88 Q766.4,827.58 766.7,824.54 Q764.77,826.91 765.67,823.99 Q763.31,825.93 764.76,823.24 Q762.07,824.69 764.01,822.33 Q761.09,823.23 763.46,821.3 Q760.42,821.6 763.12,820.17 Q760.07,819.88 763,819 Q760,814.75 763,810.5 Q760,806.25 763,802 Q760,797.75 763,793.5 Q760.07,792.62 763.12,792.33 Q760.42,790.9 763.46,791.2 Q761.09,789.27 764.01,790.17 Q762.07,787.81 764.76,789.26 Q763.31,786.57 765.67,788.51 Q764.77,785.59 766.7,787.96 Q766.4,784.92 767.83,787.62 Q768.12,784.57 769,787.5 Q773.6,784.5 778.2,787.5 Q782.8,784.5 787.4,787.5 Q792,784.5 796.6,787.5 Q801.2,784.5 805.8,787.5 Q810.4,784.5 815,787.5 Z" stroke="#444" stroke-width="0.8" fill="none"/>
<rect x="769" y="791" width="44.5" height="30" stroke="#555" stroke-width="0.8" fill="none"/>
<text x="772" y="797.3" font-size="4.35" fill="#444" stroke="#444" stroke-width="0.2" text-anchor="start"><tspan x="772">STAIR DATA:</tspan><tspan x="772" dy="4.9">21 RISERS @ 7 9/32"</tspan><tspan x="772" dy="4.9">19 TREAD @ 10"</tspan><tspan x="772" dy="4.9">PLUS 1" NOSING</tspan><tspan x="772" dy="4.9">(V.I.F.)</tspan></text>
<polygon points="822.5,815.45 828,805.55 833.5,815.45" stroke="#333" stroke-width="0.8" fill="none"/>
<text x="828" y="813.85" font-size="4.2" fill="#333" stroke="#333" stroke-width="0.2" text-anchor="middle"><tspan x="828">B</tspan></text>
<rect x="1039" y="751.5" width="129" height="38.5" stroke="#555" stroke-width="0.9" fill="none"/>
<text x="1042.2" y="759.2" font-size="6.0" fill="#111" stroke="#111" stroke-width="0.08" textLength="16" lengthAdjust="spacingAndGlyphs" font-weight="bold">NOTES:</text>
<text x="1042.2" y="766.7" font-size="6.3" fill="#333" stroke="#333" stroke-width="0.08" textLength="123.7" lengthAdjust="spacingAndGlyphs">REFER TO DOORS &amp; WINDOWS INSTALLATION</text>
<text x="1042.2" y="772.3" font-size="6.3" fill="#333" stroke="#333" stroke-width="0.08" textLength="36.5" lengthAdjust="spacingAndGlyphs">INSTRUCTION.</text>
<text x="1042.2" y="780.3" font-size="6.3" fill="#333" stroke="#333" stroke-width="0.08" textLength="111" lengthAdjust="spacingAndGlyphs">ADJUST FILLED CELLS AS PER DOORS &amp;</text>
<text x="1042.2" y="786" font-size="6.3" fill="#333" stroke="#333" stroke-width="0.08" textLength="123.7" lengthAdjust="spacingAndGlyphs">WINDOWS MANUFACTURER'S SPECIFICATION</text>
<text x="601.5" y="860.6" font-size="13.4" fill="#1a1a1a" stroke="#1a1a1a" stroke-width="0.3" textLength="353.5" lengthAdjust="spacingAndGlyphs">GROUND LEVEL SLAB &amp; FILLED CELL PLACEMENT PLAN</text>
<line x1="601" y1="864.5" x2="998.5" y2="864.5" stroke="#888" stroke-width="0.8"/>
<text x="601" y="871.5" font-size="3.8" fill="#555" stroke="#555" stroke-width="0.2" text-anchor="start"><tspan x="601">SCALE: 1/4" = 1'-0"</tspan></text>
</svg></body></html>
